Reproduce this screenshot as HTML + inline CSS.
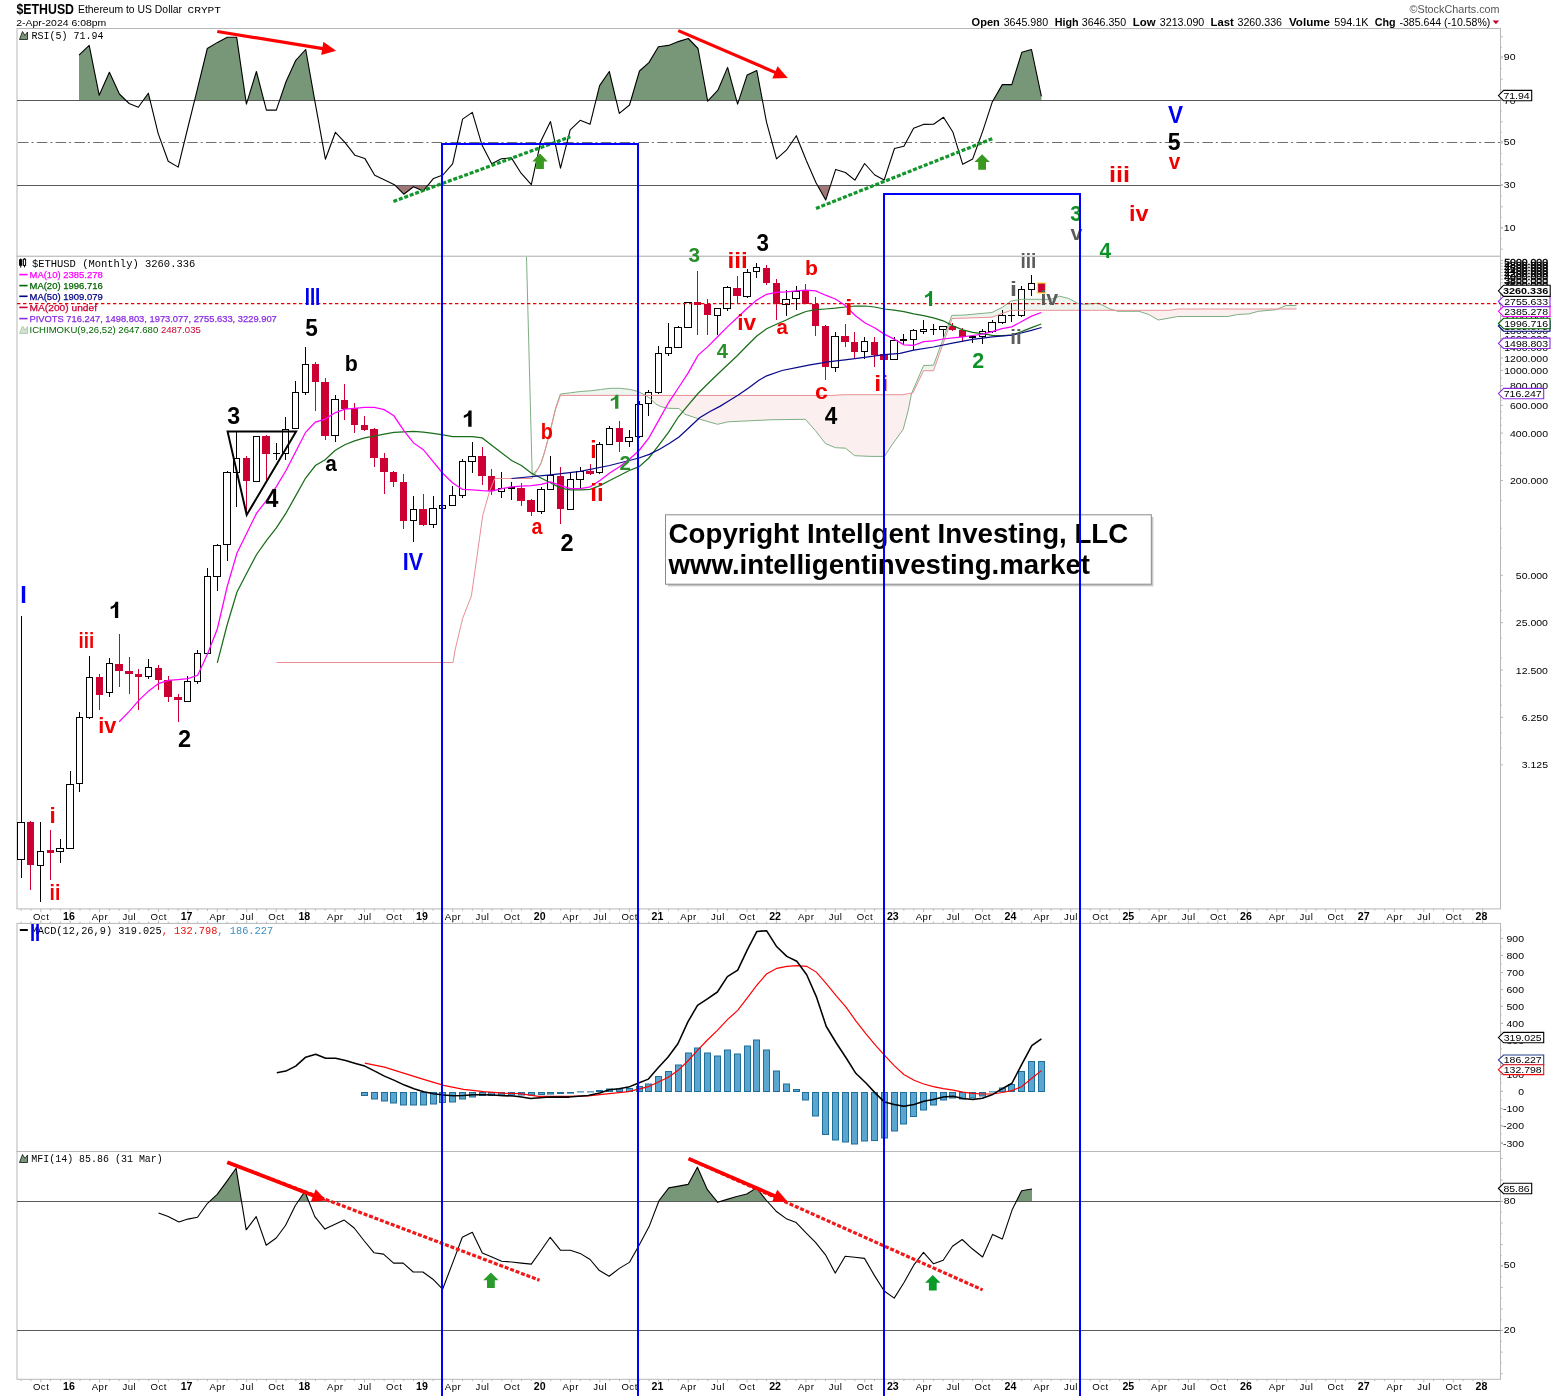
<!DOCTYPE html>
<html><head><meta charset="utf-8"><title>$ETHUSD Monthly</title>
<style>
html,body{margin:0;padding:0;background:#fff;}
body{width:1565px;height:1396px;overflow:hidden;font-family:"Liberation Sans",sans-serif;}
svg text{white-space:pre;}
</style></head><body>
<svg width="1565" height="1396" viewBox="0 0 1565 1396" style="display:block;will-change:transform;transform:translateZ(0)">
<text x="16.5" y="13.9" font-family="Liberation Sans, sans-serif" font-weight="bold" font-size="14.4" textLength="57.5" lengthAdjust="spacingAndGlyphs">$ETHUSD</text>
<text x="78" y="13.4" font-family="Liberation Sans, sans-serif" font-size="10.9" textLength="104" lengthAdjust="spacingAndGlyphs">Ethereum to US Dollar</text>
<text x="187.5" y="12.6" font-family="Liberation Mono, monospace" font-size="9.2" textLength="33.5" lengthAdjust="spacingAndGlyphs">CRYPT</text>
<text x="16.3" y="26" font-family="Liberation Sans, sans-serif" font-size="9.8" textLength="90" lengthAdjust="spacingAndGlyphs">2-Apr-2024 6:08pm</text>
<text x="1499.5" y="13" font-family="Liberation Sans, sans-serif" font-size="11" text-anchor="end" fill="#555" textLength="90" lengthAdjust="spacingAndGlyphs">&#169;StockCharts.com</text>
<text x="971.6" y="25.6" font-family="Liberation Sans, sans-serif" font-size="10.2" textLength="28.2" lengthAdjust="spacingAndGlyphs" font-weight="bold">Open</text>
<text x="1003.7" y="25.6" font-family="Liberation Sans, sans-serif" font-size="10.2" textLength="44.4" lengthAdjust="spacingAndGlyphs">3645.980</text>
<text x="1054.7" y="25.6" font-family="Liberation Sans, sans-serif" font-size="10.2" textLength="23.9" lengthAdjust="spacingAndGlyphs" font-weight="bold">High</text>
<text x="1081.8" y="25.6" font-family="Liberation Sans, sans-serif" font-size="10.2" textLength="44.4" lengthAdjust="spacingAndGlyphs">3646.350</text>
<text x="1132.8" y="25.6" font-family="Liberation Sans, sans-serif" font-size="10.2" textLength="22.8" lengthAdjust="spacingAndGlyphs" font-weight="bold">Low</text>
<text x="1159.8" y="25.6" font-family="Liberation Sans, sans-serif" font-size="10.2" textLength="44.5" lengthAdjust="spacingAndGlyphs">3213.090</text>
<text x="1210.5" y="25.6" font-family="Liberation Sans, sans-serif" font-size="10.2" textLength="23.2" lengthAdjust="spacingAndGlyphs" font-weight="bold">Last</text>
<text x="1237.5" y="25.6" font-family="Liberation Sans, sans-serif" font-size="10.2" textLength="44.5" lengthAdjust="spacingAndGlyphs">3260.336</text>
<text x="1289.0" y="25.6" font-family="Liberation Sans, sans-serif" font-size="10.2" textLength="41.0" lengthAdjust="spacingAndGlyphs" font-weight="bold">Volume</text>
<text x="1334.2" y="25.6" font-family="Liberation Sans, sans-serif" font-size="10.2" textLength="34.4" lengthAdjust="spacingAndGlyphs">594.1K</text>
<text x="1374.8" y="25.6" font-family="Liberation Sans, sans-serif" font-size="10.2" textLength="20.8" lengthAdjust="spacingAndGlyphs" font-weight="bold">Chg</text>
<text x="1399.5" y="25.6" font-family="Liberation Sans, sans-serif" font-size="10.2" textLength="90.8" lengthAdjust="spacingAndGlyphs">-385.644 (-10.58%)</text>
<polygon points="1492.6,20.4 1499.2,20.4 1495.9,24.2" fill="#cc0033"/>
<rect x="17.0" y="28.5" width="1483.5" height="227.8" fill="#fff" stroke="#b8b8b8" stroke-width="1"/>
<rect x="17.0" y="256.3" width="1483.5" height="652.6" fill="#fff" stroke="#b8b8b8" stroke-width="1"/>
<rect x="17.0" y="923.4" width="1483.5" height="228.1" fill="#fff" stroke="#b8b8b8" stroke-width="1"/>
<rect x="17.0" y="1151.5" width="1483.5" height="227.8" fill="#fff" stroke="#b8b8b8" stroke-width="1"/>
<polygon points="79.0,100.5 79.0,55.2 89.2,45.4 99.2,95.3 109.4,72.3 119.4,94.0 126.0,100.5" fill="#789778"/>
<polygon points="143.1,100.5 148.3,93.2 150.1,100.5" fill="#789778"/>
<polygon points="194.6,100.5 197.7,87.8 207.3,48.5 217.5,42.4 227.3,37.3 236.7,37.3 245.9,100.5" fill="#789778"/>
<polygon points="247.5,100.5 256.4,71.5 263.9,100.5" fill="#789778"/>
<polygon points="279.6,100.5 286.0,81.7 295.8,60.3 305.7,49.5 314.7,100.5" fill="#789778"/>
<polygon points="595.9,100.5 599.6,85.6 609.3,71.5 616.2,100.5" fill="#789778"/>
<polygon points="630.8,100.5 639.5,71.0 648.9,62.6 658.4,46.7 668.6,45.4 678.3,41.6 688.3,38.5 698.0,48.5 707.6,100.5" fill="#789778"/>
<polygon points="708.3,100.5 717.9,90.2 727.6,67.4 736.6,100.5" fill="#789778"/>
<polygon points="738.8,100.5 747.1,75.1 756.8,70.5 762.4,100.5" fill="#789778"/>
<polygon points="993.1,100.5 1002.3,84.6 1011.8,84.6 1021.8,52.3 1031.5,49.5 1041.4,96.4 1041.4,100.5" fill="#789778"/>
<polygon points="395.2,185.5 403.8,194.2 413.5,186.8 423.2,191.1 427.7,185.5" fill="#a07878"/>
<polygon points="817.6,185.5 825.7,200.1 830.5,185.5" fill="#a07878"/>
<line x1="17.0" y1="100.5" x2="1500.5" y2="100.5" stroke="#5a5a5a" stroke-width="1"/>
<line x1="17.0" y1="185.5" x2="1500.5" y2="185.5" stroke="#5a5a5a" stroke-width="1"/>
<line x1="18.0" y1="142.5" x2="1500.5" y2="142.5" stroke="#6e6e6e" stroke-width="1" stroke-dasharray="10.5,3,2,3.3"/>
<polyline points="79.0,55.2 89.2,45.4 99.2,95.3 109.4,72.3 119.4,94.0 129.1,103.5 138.3,107.3 148.3,93.2 158.2,133.6 168.2,161.2 178.2,167.1 188.0,127.0 197.7,87.8 207.3,48.5 217.5,42.4 227.3,37.3 236.7,37.3 246.4,104.2 256.4,71.5 266.4,110.1 276.3,110.1 286.0,81.7 295.8,60.3 305.7,49.5 315.4,104.2 325.4,159.2 335.4,132.3 345.1,142.6 355.0,155.3 364.8,158.4 374.7,175.3 384.7,180.1 394.4,184.7 403.8,194.2 413.5,186.8 423.2,191.1 433.5,178.4 442.9,175.0 452.6,163.8 462.6,119.1 472.3,112.4 482.0,145.1 491.7,163.8 501.4,158.7 511.4,157.9 521.1,173.2 531.3,184.7 540.8,141.3 550.5,121.6 560.5,168.1 570.2,129.8 580.2,120.3 590.1,124.2 599.6,85.6 609.3,71.5 619.3,113.4 629.5,105.0 639.5,71.0 648.9,62.6 658.4,46.7 668.6,45.4 678.3,41.6 688.3,38.5 698.0,48.5 707.7,101.2 717.9,90.2 727.6,67.4 737.6,104.2 747.1,75.1 756.8,70.5 766.5,122.1 776.5,158.9 786.4,150.2 796.3,135.7 806.3,160.5 816.0,182.7 825.7,200.1 835.7,169.4 845.4,172.5 854.9,180.1 864.6,163.5 874.8,175.0 884.2,179.9 894.5,148.5 903.9,146.2 913.6,128.3 923.4,124.4 933.6,124.2 943.5,117.3 953.0,132.3 962.7,164.3 972.7,158.9 982.9,130.6 992.4,101.7 1002.3,84.6 1011.8,84.6 1021.8,52.3 1031.5,49.5 1041.4,96.4" fill="none" stroke="#000" stroke-width="1.1" stroke-linejoin="round"/>
<polygon points="19.5,39.5 22.5,31.5 25,35.5 27.5,32 27.5,39.5" fill="#789778" stroke="#111" stroke-width="0.8"/>
<text x="31.6" y="39.2" font-family="Liberation Mono, monospace" font-size="10.4" textLength="72" lengthAdjust="spacingAndGlyphs">RSI(5) 71.94</text>
<line x1="1500.5" y1="56.9" x2="1503.0" y2="56.9" stroke="#b8b8b8"/>
<text x="1503.8" y="60.2" font-family="Liberation Sans, sans-serif" font-size="9.4" textLength="11.7" lengthAdjust="spacingAndGlyphs">90</text>
<line x1="1500.5" y1="141.7" x2="1503.0" y2="141.7" stroke="#b8b8b8"/>
<text x="1503.8" y="145.0" font-family="Liberation Sans, sans-serif" font-size="9.4" textLength="11.7" lengthAdjust="spacingAndGlyphs">50</text>
<line x1="1500.5" y1="184.7" x2="1503.0" y2="184.7" stroke="#b8b8b8"/>
<text x="1503.8" y="188.0" font-family="Liberation Sans, sans-serif" font-size="9.4" textLength="11.7" lengthAdjust="spacingAndGlyphs">30</text>
<line x1="1500.5" y1="227.6" x2="1503.0" y2="227.6" stroke="#b8b8b8"/>
<text x="1503.8" y="230.9" font-family="Liberation Sans, sans-serif" font-size="9.4" textLength="11.7" lengthAdjust="spacingAndGlyphs">10</text>
<text x="1503.8" y="103.9" font-family="Liberation Sans, sans-serif" font-size="9.4" textLength="11.7" lengthAdjust="spacingAndGlyphs">70</text>
<line x1="1500.5" y1="249.2" x2="1502.7" y2="249.2" stroke="#b8b8b8" stroke-width="1"/>
<line x1="1500.5" y1="238.6" x2="1501.8" y2="238.6" stroke="#b8b8b8" stroke-width="1"/>
<line x1="1500.5" y1="228.0" x2="1502.7" y2="228.0" stroke="#b8b8b8" stroke-width="1"/>
<line x1="1500.5" y1="217.4" x2="1501.8" y2="217.4" stroke="#b8b8b8" stroke-width="1"/>
<line x1="1500.5" y1="206.8" x2="1502.7" y2="206.8" stroke="#b8b8b8" stroke-width="1"/>
<line x1="1500.5" y1="196.1" x2="1501.8" y2="196.1" stroke="#b8b8b8" stroke-width="1"/>
<line x1="1500.5" y1="185.5" x2="1502.7" y2="185.5" stroke="#b8b8b8" stroke-width="1"/>
<line x1="1500.5" y1="174.9" x2="1501.8" y2="174.9" stroke="#b8b8b8" stroke-width="1"/>
<line x1="1500.5" y1="164.2" x2="1502.7" y2="164.2" stroke="#b8b8b8" stroke-width="1"/>
<line x1="1500.5" y1="153.6" x2="1501.8" y2="153.6" stroke="#b8b8b8" stroke-width="1"/>
<line x1="1500.5" y1="143.0" x2="1502.7" y2="143.0" stroke="#b8b8b8" stroke-width="1"/>
<line x1="1500.5" y1="132.4" x2="1501.8" y2="132.4" stroke="#b8b8b8" stroke-width="1"/>
<line x1="1500.5" y1="121.8" x2="1502.7" y2="121.8" stroke="#b8b8b8" stroke-width="1"/>
<line x1="1500.5" y1="111.1" x2="1501.8" y2="111.1" stroke="#b8b8b8" stroke-width="1"/>
<line x1="1500.5" y1="100.5" x2="1502.7" y2="100.5" stroke="#b8b8b8" stroke-width="1"/>
<line x1="1500.5" y1="89.9" x2="1501.8" y2="89.9" stroke="#b8b8b8" stroke-width="1"/>
<line x1="1500.5" y1="79.2" x2="1502.7" y2="79.2" stroke="#b8b8b8" stroke-width="1"/>
<line x1="1500.5" y1="68.6" x2="1501.8" y2="68.6" stroke="#b8b8b8" stroke-width="1"/>
<line x1="1500.5" y1="58.0" x2="1502.7" y2="58.0" stroke="#b8b8b8" stroke-width="1"/>
<line x1="1500.5" y1="47.4" x2="1501.8" y2="47.4" stroke="#b8b8b8" stroke-width="1"/>
<line x1="1500.5" y1="36.8" x2="1502.7" y2="36.8" stroke="#b8b8b8" stroke-width="1"/>
<line x1="1500.5" y1="1373.7" x2="1502.7" y2="1373.7" stroke="#b8b8b8" stroke-width="1"/>
<line x1="1500.5" y1="1362.9" x2="1501.8" y2="1362.9" stroke="#b8b8b8" stroke-width="1"/>
<line x1="1500.5" y1="1352.1" x2="1502.7" y2="1352.1" stroke="#b8b8b8" stroke-width="1"/>
<line x1="1500.5" y1="1341.4" x2="1501.8" y2="1341.4" stroke="#b8b8b8" stroke-width="1"/>
<line x1="1500.5" y1="1330.6" x2="1502.7" y2="1330.6" stroke="#b8b8b8" stroke-width="1"/>
<line x1="1500.5" y1="1319.9" x2="1501.8" y2="1319.9" stroke="#b8b8b8" stroke-width="1"/>
<line x1="1500.5" y1="1309.1" x2="1502.7" y2="1309.1" stroke="#b8b8b8" stroke-width="1"/>
<line x1="1500.5" y1="1298.3" x2="1501.8" y2="1298.3" stroke="#b8b8b8" stroke-width="1"/>
<line x1="1500.5" y1="1287.6" x2="1502.7" y2="1287.6" stroke="#b8b8b8" stroke-width="1"/>
<line x1="1500.5" y1="1276.8" x2="1501.8" y2="1276.8" stroke="#b8b8b8" stroke-width="1"/>
<line x1="1500.5" y1="1266.1" x2="1502.7" y2="1266.1" stroke="#b8b8b8" stroke-width="1"/>
<line x1="1500.5" y1="1255.3" x2="1501.8" y2="1255.3" stroke="#b8b8b8" stroke-width="1"/>
<line x1="1500.5" y1="1244.5" x2="1502.7" y2="1244.5" stroke="#b8b8b8" stroke-width="1"/>
<line x1="1500.5" y1="1233.8" x2="1501.8" y2="1233.8" stroke="#b8b8b8" stroke-width="1"/>
<line x1="1500.5" y1="1223.0" x2="1502.7" y2="1223.0" stroke="#b8b8b8" stroke-width="1"/>
<line x1="1500.5" y1="1212.3" x2="1501.8" y2="1212.3" stroke="#b8b8b8" stroke-width="1"/>
<line x1="1500.5" y1="1201.5" x2="1502.7" y2="1201.5" stroke="#b8b8b8" stroke-width="1"/>
<line x1="1500.5" y1="1190.7" x2="1501.8" y2="1190.7" stroke="#b8b8b8" stroke-width="1"/>
<line x1="1500.5" y1="1180.0" x2="1502.7" y2="1180.0" stroke="#b8b8b8" stroke-width="1"/>
<line x1="1500.5" y1="1169.2" x2="1501.8" y2="1169.2" stroke="#b8b8b8" stroke-width="1"/>
<line x1="1500.5" y1="1158.5" x2="1502.7" y2="1158.5" stroke="#b8b8b8" stroke-width="1"/>
<line x1="1500.5" y1="1142.4" x2="1502.7" y2="1142.4" stroke="#b8b8b8" stroke-width="1"/>
<line x1="1500.5" y1="1133.9" x2="1501.8" y2="1133.9" stroke="#b8b8b8" stroke-width="1"/>
<line x1="1500.5" y1="1125.4" x2="1502.7" y2="1125.4" stroke="#b8b8b8" stroke-width="1"/>
<line x1="1500.5" y1="1116.9" x2="1501.8" y2="1116.9" stroke="#b8b8b8" stroke-width="1"/>
<line x1="1500.5" y1="1108.4" x2="1502.7" y2="1108.4" stroke="#b8b8b8" stroke-width="1"/>
<line x1="1500.5" y1="1099.9" x2="1501.8" y2="1099.9" stroke="#b8b8b8" stroke-width="1"/>
<line x1="1500.5" y1="1091.4" x2="1502.7" y2="1091.4" stroke="#b8b8b8" stroke-width="1"/>
<line x1="1500.5" y1="1082.9" x2="1501.8" y2="1082.9" stroke="#b8b8b8" stroke-width="1"/>
<line x1="1500.5" y1="1074.4" x2="1502.7" y2="1074.4" stroke="#b8b8b8" stroke-width="1"/>
<line x1="1500.5" y1="1065.9" x2="1501.8" y2="1065.9" stroke="#b8b8b8" stroke-width="1"/>
<line x1="1500.5" y1="1057.4" x2="1502.7" y2="1057.4" stroke="#b8b8b8" stroke-width="1"/>
<line x1="1500.5" y1="1048.9" x2="1501.8" y2="1048.9" stroke="#b8b8b8" stroke-width="1"/>
<line x1="1500.5" y1="1040.4" x2="1502.7" y2="1040.4" stroke="#b8b8b8" stroke-width="1"/>
<line x1="1500.5" y1="1031.9" x2="1501.8" y2="1031.9" stroke="#b8b8b8" stroke-width="1"/>
<line x1="1500.5" y1="1023.4" x2="1502.7" y2="1023.4" stroke="#b8b8b8" stroke-width="1"/>
<line x1="1500.5" y1="1014.9" x2="1501.8" y2="1014.9" stroke="#b8b8b8" stroke-width="1"/>
<line x1="1500.5" y1="1006.4" x2="1502.7" y2="1006.4" stroke="#b8b8b8" stroke-width="1"/>
<line x1="1500.5" y1="997.9" x2="1501.8" y2="997.9" stroke="#b8b8b8" stroke-width="1"/>
<line x1="1500.5" y1="989.4" x2="1502.7" y2="989.4" stroke="#b8b8b8" stroke-width="1"/>
<line x1="1500.5" y1="980.9" x2="1501.8" y2="980.9" stroke="#b8b8b8" stroke-width="1"/>
<line x1="1500.5" y1="972.4" x2="1502.7" y2="972.4" stroke="#b8b8b8" stroke-width="1"/>
<line x1="1500.5" y1="963.9" x2="1501.8" y2="963.9" stroke="#b8b8b8" stroke-width="1"/>
<line x1="1500.5" y1="955.4" x2="1502.7" y2="955.4" stroke="#b8b8b8" stroke-width="1"/>
<line x1="1500.5" y1="946.9" x2="1501.8" y2="946.9" stroke="#b8b8b8" stroke-width="1"/>
<line x1="1500.5" y1="938.4" x2="1502.7" y2="938.4" stroke="#b8b8b8" stroke-width="1"/>
<line x1="1500.5" y1="929.9" x2="1501.8" y2="929.9" stroke="#b8b8b8" stroke-width="1"/>
<line x1="1500.5" y1="748.2" x2="1501.9" y2="748.2" stroke="#b8b8b8" stroke-width="1"/>
<line x1="1500.5" y1="733.0" x2="1501.9" y2="733.0" stroke="#b8b8b8" stroke-width="1"/>
<line x1="1500.5" y1="705.2" x2="1501.9" y2="705.2" stroke="#b8b8b8" stroke-width="1"/>
<line x1="1500.5" y1="685.6" x2="1501.9" y2="685.6" stroke="#b8b8b8" stroke-width="1"/>
<line x1="1500.5" y1="657.9" x2="1501.9" y2="657.9" stroke="#b8b8b8" stroke-width="1"/>
<line x1="1500.5" y1="638.2" x2="1501.9" y2="638.2" stroke="#b8b8b8" stroke-width="1"/>
<line x1="1500.5" y1="610.5" x2="1501.9" y2="610.5" stroke="#b8b8b8" stroke-width="1"/>
<line x1="1500.5" y1="590.8" x2="1501.9" y2="590.8" stroke="#b8b8b8" stroke-width="1"/>
<line x1="1500.5" y1="547.8" x2="1501.9" y2="547.8" stroke="#b8b8b8" stroke-width="1"/>
<line x1="1500.5" y1="528.2" x2="1501.9" y2="528.2" stroke="#b8b8b8" stroke-width="1"/>
<line x1="1500.5" y1="500.5" x2="1501.9" y2="500.5" stroke="#b8b8b8" stroke-width="1"/>
<line x1="1500.5" y1="465.5" x2="1501.9" y2="465.5" stroke="#b8b8b8" stroke-width="1"/>
<line x1="1500.5" y1="453.1" x2="1501.9" y2="453.1" stroke="#b8b8b8" stroke-width="1"/>
<line x1="1500.5" y1="442.5" x2="1501.9" y2="442.5" stroke="#b8b8b8" stroke-width="1"/>
<line x1="1500.5" y1="425.4" x2="1501.9" y2="425.4" stroke="#b8b8b8" stroke-width="1"/>
<line x1="1500.5" y1="418.2" x2="1501.9" y2="418.2" stroke="#b8b8b8" stroke-width="1"/>
<line x1="1500.5" y1="411.7" x2="1501.9" y2="411.7" stroke="#b8b8b8" stroke-width="1"/>
<line x1="1500.5" y1="400.2" x2="1501.9" y2="400.2" stroke="#b8b8b8" stroke-width="1"/>
<line x1="1500.5" y1="395.2" x2="1501.9" y2="395.2" stroke="#b8b8b8" stroke-width="1"/>
<line x1="1500.5" y1="390.5" x2="1501.9" y2="390.5" stroke="#b8b8b8" stroke-width="1"/>
<line x1="1500.5" y1="378.0" x2="1501.9" y2="378.0" stroke="#b8b8b8" stroke-width="1"/>
<line x1="1500.5" y1="364.3" x2="1501.9" y2="364.3" stroke="#b8b8b8" stroke-width="1"/>
<polygon points="1498.4,95.6 1503.6,90.4 1531.7,90.4 1531.7,100.8 1503.6,100.8" fill="#fff" stroke="#000" stroke-width="1.1"/>
<text x="1503.4" y="99.0" font-family="Liberation Sans, sans-serif" font-size="9.4" textLength="26.3" lengthAdjust="spacingAndGlyphs">71.94</text>
<polygon points="532.8,477.4 534.8,474.2 535.6,472.9 536.8,471.0 538.4,468.4 538.8,467.6 540.8,463.8 541.3,462.8 542.8,458.0 544.8,451.6 546.8,444.0 547.6,441.0 548.8,436.5 550.4,430.5 550.8,428.8 552.8,420.6 554.8,412.3 555.4,409.8 556.8,405.8 558.8,400.0 560.4,395.4 560.8,395.4 562.8,395.4 564.8,395.4 566.8,395.4 568.8,395.4 570.4,395.4 570.8,395.4 572.8,395.4 574.8,395.4 576.8,395.4 578.8,395.4 580.4,395.4 580.8,395.4 582.8,395.4 584.8,395.4 586.8,395.4 588.8,395.4 590.5,395.4 590.8,395.4 592.8,395.4 594.8,395.4 596.8,395.4 598.8,395.4 600.5,395.4 600.8,395.4 602.8,395.4 604.8,395.4 606.8,395.4 608.8,395.4 610.5,395.4 610.8,395.4 612.8,395.4 614.8,395.4 616.8,395.4 618.8,395.4 620.6,395.4 620.8,395.4 622.8,395.4 624.8,395.4 626.8,395.4 628.8,395.4 630.6,395.4 630.8,395.4 632.8,395.4 634.8,395.4 636.8,395.4 638.1,395.4 638.8,395.4 640.8,395.4 642.8,395.4 644.8,395.4 645.6,395.4 646.8,395.8 646.8,395.8 645.6,395.3 644.8,394.9 642.8,393.9 640.8,392.9 638.8,391.9 638.1,391.5 636.8,391.2 634.8,390.6 632.8,390.1 630.8,389.6 630.6,389.5 628.8,389.3 626.8,389.0 624.8,388.8 622.8,388.6 620.8,388.3 620.6,388.3 618.8,388.3 616.8,388.3 614.8,388.3 612.8,388.3 610.8,388.3 610.5,388.3 608.8,388.5 606.8,388.7 604.8,389.0 602.8,389.2 600.8,389.5 600.5,389.5 598.8,389.7 596.8,390.0 594.8,390.2 592.8,390.5 590.8,390.8 590.5,390.8 588.8,390.9 586.8,391.1 584.8,391.2 582.8,391.3 580.8,391.5 580.4,391.5 578.8,391.7 576.8,392.0 574.8,392.2 572.8,392.5 570.8,392.7 570.4,392.8 568.8,393.0 566.8,393.2 564.8,393.5 562.8,393.7 560.8,394.0 560.4,394.0 558.8,398.7 556.8,404.7 555.4,408.8 554.8,411.3 552.8,419.8 550.8,428.3 550.4,430.0 548.8,436.0 547.6,440.5 546.8,443.5 544.8,451.1 542.8,457.5 541.3,462.3 540.8,463.3 538.8,467.2 538.4,468.0 536.8,469.9 535.6,471.3 534.8,472.3 532.8,474.7" fill="#eef5ee"/>
<polygon points="646.8,395.4 648.8,395.4 650.7,395.4 650.8,395.4 652.8,395.4 654.8,395.4 655.7,395.4 656.8,395.4 658.8,395.4 660.7,395.4 660.8,395.4 662.8,395.4 664.8,395.4 666.8,395.4 668.2,395.4 668.8,395.4 670.8,395.4 672.8,395.4 674.8,395.4 676.8,395.4 678.8,395.4 680.8,395.4 682.8,395.4 684.8,395.4 685.0,395.4 686.8,395.4 688.8,395.4 690.8,395.4 692.8,395.4 694.8,395.4 696.8,395.5 698.8,395.5 700.1,395.5 700.8,395.5 702.8,395.5 704.8,395.5 706.8,395.5 708.8,395.5 710.8,395.5 712.8,395.5 714.8,395.5 716.8,395.5 717.6,395.5 718.8,395.5 720.8,395.5 722.8,395.5 724.8,395.5 726.8,395.5 727.7,395.5 728.8,395.5 730.8,395.5 732.8,395.5 734.8,395.5 736.8,395.5 738.8,395.5 740.8,395.5 742.8,395.5 744.8,395.5 746.8,395.5 748.8,395.5 750.8,395.5 752.8,395.5 754.8,395.5 756.8,395.5 758.8,395.5 760.8,395.5 762.8,395.5 764.8,395.5 766.8,395.5 768.8,395.5 770.3,395.5 770.8,395.5 772.8,395.5 774.8,395.5 776.8,395.5 778.8,395.5 780.8,395.5 782.8,395.5 784.8,395.5 786.8,395.5 788.8,395.5 790.8,395.5 792.8,395.5 794.8,395.5 796.8,395.5 798.8,395.5 800.8,395.5 802.8,395.5 804.8,395.5 805.4,395.5 806.8,395.5 808.8,395.5 810.8,395.5 812.8,395.5 814.8,395.5 815.4,395.5 816.8,395.5 818.8,395.5 820.8,395.5 822.8,395.5 824.8,395.5 825.5,395.5 826.8,395.5 828.8,395.5 830.5,395.5 830.8,395.5 832.8,395.4 834.8,395.3 835.5,395.2 836.8,395.2 838.8,395.1 840.8,395.0 842.8,394.8 844.8,394.7 845.5,394.7 846.8,394.7 848.8,394.7 850.8,394.7 852.8,394.7 854.8,394.7 856.8,394.7 858.8,394.7 860.8,394.7 862.8,394.7 864.8,394.7 866.8,394.7 868.8,394.7 870.6,394.7 870.8,394.7 872.8,394.7 874.8,394.7 876.8,394.7 878.8,394.7 880.8,394.7 882.8,394.7 884.4,394.7 884.8,394.7 886.8,394.7 888.8,394.7 890.8,394.7 892.8,394.7 893.2,394.7 894.8,394.7 896.8,394.7 898.8,394.7 900.8,394.7 902.8,394.7 903.2,394.7 904.8,394.4 906.8,394.0 908.2,393.7 908.5,393.6 908.8,393.6 910.8,393.3 911.5,393.2 912.8,391.8 912.8,391.8 911.5,393.7 910.8,397.3 908.8,407.4 908.5,409.0 908.2,410.5 906.8,415.8 904.8,423.3 903.2,429.3 902.8,429.9 900.8,432.6 898.8,435.4 896.8,438.1 894.8,440.9 893.2,443.1 892.8,443.7 890.8,446.7 888.8,449.8 886.8,452.8 884.8,455.8 884.4,456.4 882.8,456.4 880.8,456.4 878.8,456.4 876.8,456.4 874.8,456.4 872.8,456.4 870.8,456.4 870.6,456.4 868.8,456.3 866.8,456.2 864.8,456.1 862.8,456.1 860.8,456.0 858.8,455.9 856.8,455.8 854.8,455.7 852.8,454.1 850.8,452.5 848.8,450.9 846.8,449.2 845.5,448.2 844.8,448.2 842.8,448.1 840.8,448.0 838.8,447.9 836.8,447.8 835.5,447.7 834.8,447.4 832.8,446.6 830.8,445.8 830.5,445.6 828.8,445.0 826.8,444.1 825.5,443.6 824.8,442.7 822.8,440.1 820.8,437.6 818.8,435.0 816.8,432.4 815.4,430.6 814.8,429.9 812.8,427.7 810.8,425.4 808.8,423.1 806.8,420.9 805.4,419.3 804.8,419.3 802.8,419.3 800.8,419.4 798.8,419.4 796.8,419.4 794.8,419.5 792.8,419.5 790.8,419.5 788.8,419.5 786.8,419.6 784.8,419.6 782.8,419.6 780.8,419.7 778.8,419.7 776.8,419.7 774.8,419.7 772.8,419.8 770.8,419.8 770.3,419.8 768.8,419.9 766.8,420.0 764.8,420.1 762.8,420.2 760.8,420.2 758.8,420.3 756.8,420.4 754.8,420.5 752.8,420.6 750.8,420.7 748.8,420.8 746.8,420.9 744.8,421.0 742.8,421.1 740.8,421.2 738.8,421.3 736.8,421.4 734.8,421.5 732.8,421.6 730.8,421.7 728.8,421.7 727.7,421.8 726.8,422.0 724.8,422.5 722.8,423.0 720.8,423.5 718.8,424.0 717.6,424.3 716.8,424.1 714.8,423.5 712.8,422.9 710.8,422.4 708.8,421.8 706.8,421.2 704.8,420.6 702.8,420.1 700.8,419.5 700.1,419.3 698.8,418.9 696.8,418.2 694.8,417.5 692.8,416.9 690.8,416.2 688.8,415.6 686.8,414.9 685.0,414.3 684.8,414.1 682.8,412.2 680.8,410.4 678.8,408.5 676.8,408.5 674.8,408.4 672.8,408.4 670.8,408.3 668.8,408.3 668.2,408.3 666.8,408.0 664.8,407.5 662.8,407.1 660.8,406.6 660.7,406.6 658.8,405.6 656.8,404.6 655.7,404.0 654.8,403.1 652.8,401.1 650.8,399.1 650.7,399.0 648.8,397.6 646.8,396.2" fill="#fbefef"/>
<polygon points="912.8,393.0 914.8,388.9 916.8,384.7 918.8,380.6 920.8,376.5 922.8,372.4 923.6,370.7 924.8,370.7 926.8,370.7 928.8,370.7 930.8,370.7 932.8,370.7 933.5,370.7 934.8,367.1 936.8,361.4 938.8,355.8 940.8,350.2 942.8,344.6 944.8,339.0 946.8,333.4 948.8,327.8 950.8,322.1 951.8,319.3 952.1,318.5 952.8,318.5 954.8,318.4 956.8,318.3 958.8,318.3 960.8,318.2 962.8,318.2 963.9,318.1 964.8,318.1 966.8,318.0 968.8,318.0 970.8,317.9 972.8,317.8 974.8,317.8 976.8,317.7 978.8,317.6 980.8,317.6 982.8,317.5 984.8,317.4 986.8,317.4 988.8,317.3 990.8,317.2 992.0,317.2 992.8,316.9 994.8,316.2 996.8,315.5 998.8,314.8 1000.8,314.0 1002.2,313.5 1002.8,313.3 1004.8,312.6 1006.8,311.9 1008.8,311.2 1010.8,310.4 1011.2,310.3 1012.8,310.3 1014.8,310.3 1016.8,310.3 1018.8,310.3 1020.8,310.3 1021.4,310.3 1022.8,310.3 1024.8,310.3 1026.8,310.3 1028.8,310.3 1030.8,310.3 1032.8,310.3 1034.8,310.3 1036.8,310.3 1038.8,310.3 1040.8,310.3 1042.8,310.3 1044.8,310.3 1046.8,310.3 1048.8,310.3 1050.8,310.3 1052.8,310.3 1054.8,310.3 1056.8,310.3 1058.8,310.3 1059.7,310.3 1060.8,310.3 1062.8,310.3 1064.8,310.3 1066.8,310.3 1068.7,310.3 1068.8,310.3 1070.8,310.3 1072.8,310.3 1074.8,310.3 1076.8,310.3 1078.3,310.3 1078.8,310.3 1080.8,310.3 1082.8,310.3 1084.0,310.3 1084.8,310.3 1086.8,310.3 1088.8,310.3 1090.8,310.3 1092.8,310.3 1094.8,310.3 1096.8,310.3 1098.7,310.3 1098.8,310.3 1100.8,310.3 1102.8,310.3 1104.8,310.3 1106.8,310.3 1108.8,310.3 1110.0,310.3 1110.8,310.3 1112.8,310.3 1114.8,310.3 1114.8,310.3 1112.8,309.8 1110.8,309.2 1110.0,309.0 1108.8,308.4 1106.8,307.4 1104.8,306.3 1102.8,305.3 1100.8,304.3 1098.8,303.3 1098.7,303.2 1096.8,303.3 1094.8,303.5 1092.8,303.6 1090.8,303.7 1088.8,303.9 1086.8,304.0 1084.8,304.1 1084.0,304.2 1082.8,304.1 1080.8,303.9 1078.8,303.7 1078.3,303.6 1076.8,302.8 1074.8,301.7 1072.8,300.7 1070.8,299.6 1068.8,298.6 1068.7,298.5 1066.8,298.0 1064.8,297.5 1062.8,297.0 1060.8,296.5 1059.7,296.2 1058.8,296.5 1056.8,297.2 1054.8,297.9 1052.8,298.6 1050.8,299.3 1048.8,299.3 1046.8,299.3 1044.8,299.3 1042.8,299.3 1040.8,299.3 1038.8,299.3 1036.8,299.3 1034.8,299.3 1032.8,299.3 1030.8,299.3 1028.8,299.3 1026.8,299.3 1024.8,299.3 1022.8,299.3 1021.4,299.3 1020.8,299.4 1018.8,299.7 1016.8,300.1 1014.8,300.4 1012.8,300.7 1011.2,301.0 1010.8,301.3 1008.8,302.7 1006.8,304.1 1004.8,305.6 1002.8,307.0 1002.2,307.4 1000.8,308.1 998.8,309.1 996.8,310.1 994.8,311.1 992.8,312.1 992.0,312.5 990.8,312.6 988.8,312.8 986.8,313.0 984.8,313.2 982.8,313.4 980.8,313.5 978.8,313.7 976.8,313.9 974.8,314.1 972.8,314.3 970.8,314.5 968.8,314.6 966.8,314.8 964.8,315.0 963.9,315.1 962.8,315.1 960.8,315.2 958.8,315.2 956.8,315.3 954.8,315.3 952.8,315.4 952.1,315.4 951.8,315.4 950.8,318.1 948.8,323.6 946.8,329.0 944.8,334.4 942.8,339.9 940.8,345.3 938.8,350.8 936.8,356.2 934.8,361.7 933.5,365.2 932.8,365.2 930.8,365.3 928.8,365.3 926.8,365.4 924.8,365.5 923.6,365.5 922.8,367.4 920.8,372.0 918.8,376.7 916.8,381.3 914.8,386.0 912.8,390.7" fill="#eef5ee"/>
<polygon points="1114.8,310.3 1116.8,310.3 1118.0,310.3 1118.8,310.3 1120.8,310.3 1122.8,310.3 1124.8,310.3 1126.8,310.3 1128.8,310.3 1130.8,310.3 1132.8,310.3 1134.8,310.3 1136.8,310.3 1138.8,310.3 1139.0,310.3 1140.8,310.3 1142.8,310.3 1144.8,310.3 1146.8,310.3 1148.7,310.3 1148.8,310.3 1150.8,310.3 1152.8,310.3 1154.8,310.3 1156.8,310.3 1158.4,310.3 1158.8,310.3 1160.8,310.3 1162.8,310.3 1164.8,310.3 1166.8,310.3 1168.8,310.3 1169.7,310.3 1170.8,310.1 1172.8,309.8 1174.8,309.5 1176.8,309.2 1177.8,309.0 1178.8,309.0 1180.8,309.0 1182.8,309.0 1184.8,309.0 1186.8,309.0 1188.8,309.0 1190.8,309.0 1192.8,309.0 1194.8,309.0 1196.8,309.0 1198.8,309.0 1200.8,309.0 1202.8,309.0 1204.8,309.0 1206.8,309.0 1208.8,309.0 1210.8,309.0 1212.8,309.0 1214.8,309.0 1216.8,309.0 1218.8,309.0 1220.8,309.0 1222.8,309.0 1224.8,309.0 1226.8,309.0 1227.8,309.0 1228.8,309.0 1230.8,309.0 1232.8,309.0 1234.8,309.0 1236.8,309.0 1237.5,309.0 1238.8,309.0 1240.8,309.0 1242.8,309.0 1244.8,309.0 1246.8,309.0 1248.8,309.0 1250.8,309.0 1252.8,309.0 1254.8,309.0 1256.8,309.0 1258.4,309.0 1258.8,309.0 1260.8,309.0 1262.8,309.0 1264.8,309.0 1266.8,309.0 1268.8,309.0 1270.8,309.0 1272.8,309.0 1274.8,309.0 1276.2,309.0 1276.8,309.0 1278.8,308.8 1278.8,308.8 1276.8,309.4 1276.2,309.7 1274.8,309.8 1272.8,310.0 1270.8,310.2 1268.8,310.4 1266.8,310.5 1264.8,310.7 1262.8,310.9 1260.8,311.1 1258.8,311.3 1258.4,311.3 1256.8,311.7 1254.8,312.3 1252.8,312.8 1250.8,313.4 1248.8,313.9 1246.8,314.0 1244.8,314.1 1242.8,314.2 1240.8,314.3 1238.8,314.4 1237.5,314.5 1236.8,314.6 1234.8,315.1 1232.8,315.5 1230.8,315.9 1228.8,316.3 1227.8,316.5 1226.8,316.5 1224.8,316.5 1222.8,316.5 1220.8,316.5 1218.8,316.5 1216.8,316.5 1214.8,316.5 1212.8,316.5 1210.8,316.5 1208.8,316.5 1206.8,316.5 1204.8,316.5 1202.8,316.5 1200.8,316.5 1198.8,316.5 1196.8,316.5 1194.8,316.5 1192.8,316.5 1190.8,316.5 1188.8,316.5 1186.8,316.5 1184.8,316.5 1182.8,316.5 1180.8,316.5 1178.8,316.5 1177.8,316.5 1176.8,316.7 1174.8,317.0 1172.8,317.4 1170.8,317.8 1169.7,318.0 1168.8,318.1 1166.8,318.5 1164.8,318.8 1162.8,319.2 1160.8,319.6 1158.8,319.9 1158.4,320.0 1156.8,319.1 1154.8,318.0 1152.8,316.8 1150.8,315.7 1148.8,314.6 1148.7,314.5 1146.8,313.9 1144.8,313.2 1142.8,312.6 1140.8,311.9 1139.0,311.3 1138.8,311.3 1136.8,311.3 1134.8,311.3 1132.8,311.3 1130.8,311.3 1128.8,311.3 1126.8,311.3 1124.8,311.3 1122.8,311.3 1120.8,311.3 1118.8,311.3 1118.0,311.3 1116.8,311.0 1114.8,310.4" fill="#fbefef"/>
<polygon points="1278.8,309.0 1280.8,309.0 1282.8,309.0 1284.8,309.0 1285.9,309.0 1286.8,309.0 1288.8,309.0 1290.8,309.0 1292.8,309.0 1294.8,309.0 1296.5,309.0 1296.5,305.5 1294.8,305.5 1292.8,305.5 1290.8,305.5 1288.8,305.5 1286.8,305.5 1285.9,305.5 1284.8,306.0 1282.8,306.8 1280.8,307.7 1278.8,308.6" fill="#eef5ee"/>
<line x1="21.5" y1="616" x2="21.5" y2="822.5" stroke="#000" stroke-width="1"/>
<line x1="21.5" y1="859.5" x2="21.5" y2="878" stroke="#000" stroke-width="1"/>
<rect x="17.5" y="822.5" width="7.0" height="37.0" fill="#fff" stroke="#000" stroke-width="1"/>
<line x1="30.5" y1="821" x2="30.5" y2="890" stroke="#cc0033" stroke-width="1"/>
<rect x="27" y="822" width="7" height="43" fill="#cc0033"/>
<line x1="40.5" y1="822" x2="40.5" y2="851.5" stroke="#000" stroke-width="1"/>
<line x1="40.5" y1="865.5" x2="40.5" y2="902" stroke="#000" stroke-width="1"/>
<rect x="37.5" y="851.5" width="6.0" height="14.0" fill="#fff" stroke="#000" stroke-width="1"/>
<line x1="50.5" y1="830" x2="50.5" y2="880" stroke="#cc0033" stroke-width="1"/>
<rect x="47" y="850" width="7" height="3" fill="#cc0033"/>
<line x1="60.5" y1="839" x2="60.5" y2="848.5" stroke="#000" stroke-width="1"/>
<line x1="60.5" y1="851.5" x2="60.5" y2="863" stroke="#000" stroke-width="1"/>
<rect x="56.5" y="848.5" width="7.0" height="3.0" fill="#fff" stroke="#000" stroke-width="1"/>
<line x1="70.5" y1="771" x2="70.5" y2="784.5" stroke="#000" stroke-width="1"/>
<line x1="70.5" y1="848.5" x2="70.5" y2="849" stroke="#000" stroke-width="1"/>
<rect x="66.5" y="784.5" width="7.0" height="64.0" fill="#fff" stroke="#000" stroke-width="1"/>
<line x1="79.5" y1="712" x2="79.5" y2="717.5" stroke="#000" stroke-width="1"/>
<line x1="79.5" y1="783.5" x2="79.5" y2="792" stroke="#000" stroke-width="1"/>
<rect x="76.5" y="717.5" width="6.0" height="66.0" fill="#fff" stroke="#000" stroke-width="1"/>
<line x1="89.5" y1="656" x2="89.5" y2="677.5" stroke="#000" stroke-width="1"/>
<line x1="89.5" y1="717.5" x2="89.5" y2="719" stroke="#000" stroke-width="1"/>
<rect x="86.5" y="677.5" width="6.0" height="40.0" fill="#fff" stroke="#000" stroke-width="1"/>
<line x1="99.5" y1="674" x2="99.5" y2="710" stroke="#cc0033" stroke-width="1"/>
<rect x="96" y="677" width="7" height="18" fill="#cc0033"/>
<line x1="109.5" y1="658" x2="109.5" y2="663.5" stroke="#000" stroke-width="1"/>
<line x1="109.5" y1="692.5" x2="109.5" y2="697" stroke="#000" stroke-width="1"/>
<rect x="106.5" y="663.5" width="6.0" height="29.0" fill="#fff" stroke="#000" stroke-width="1"/>
<line x1="119.5" y1="634" x2="119.5" y2="687" stroke="#cc0033" stroke-width="1"/>
<rect x="115" y="664" width="8" height="7" fill="#cc0033"/>
<line x1="129.5" y1="657" x2="129.5" y2="694" stroke="#cc0033" stroke-width="1"/>
<rect x="125" y="671" width="8" height="3" fill="#cc0033"/>
<line x1="138.5" y1="669" x2="138.5" y2="710" stroke="#cc0033" stroke-width="1"/>
<rect x="135" y="674" width="7" height="3" fill="#cc0033"/>
<line x1="148.5" y1="659" x2="148.5" y2="667.5" stroke="#000" stroke-width="1"/>
<line x1="148.5" y1="676.5" x2="148.5" y2="679" stroke="#000" stroke-width="1"/>
<rect x="145.5" y="667.5" width="6.0" height="9.0" fill="#fff" stroke="#000" stroke-width="1"/>
<line x1="158.5" y1="665" x2="158.5" y2="690" stroke="#cc0033" stroke-width="1"/>
<rect x="155" y="668" width="7" height="12" fill="#cc0033"/>
<line x1="168.5" y1="676" x2="168.5" y2="702" stroke="#cc0033" stroke-width="1"/>
<rect x="164" y="680" width="8" height="17" fill="#cc0033"/>
<line x1="178.5" y1="694" x2="178.5" y2="722" stroke="#cc0033" stroke-width="1"/>
<rect x="174" y="697" width="8" height="3" fill="#cc0033"/>
<line x1="187.5" y1="676" x2="187.5" y2="681.5" stroke="#000" stroke-width="1"/>
<line x1="187.5" y1="701.5" x2="187.5" y2="701" stroke="#000" stroke-width="1"/>
<rect x="184.5" y="681.5" width="6.0" height="20.0" fill="#fff" stroke="#000" stroke-width="1"/>
<line x1="197.5" y1="650" x2="197.5" y2="653.5" stroke="#000" stroke-width="1"/>
<line x1="197.5" y1="681.5" x2="197.5" y2="684" stroke="#000" stroke-width="1"/>
<rect x="194.5" y="653.5" width="6.0" height="28.0" fill="#fff" stroke="#000" stroke-width="1"/>
<line x1="207.5" y1="568" x2="207.5" y2="576.5" stroke="#000" stroke-width="1"/>
<line x1="207.5" y1="653.5" x2="207.5" y2="654" stroke="#000" stroke-width="1"/>
<rect x="204.5" y="576.5" width="6.0" height="77.0" fill="#fff" stroke="#000" stroke-width="1"/>
<line x1="217.5" y1="544" x2="217.5" y2="545.5" stroke="#000" stroke-width="1"/>
<line x1="217.5" y1="576.5" x2="217.5" y2="591" stroke="#000" stroke-width="1"/>
<rect x="213.5" y="545.5" width="7.0" height="31.0" fill="#fff" stroke="#000" stroke-width="1"/>
<line x1="227.5" y1="471" x2="227.5" y2="472.5" stroke="#000" stroke-width="1"/>
<line x1="227.5" y1="544.5" x2="227.5" y2="561" stroke="#000" stroke-width="1"/>
<rect x="223.5" y="472.5" width="7.0" height="72.0" fill="#fff" stroke="#000" stroke-width="1"/>
<line x1="236.5" y1="432" x2="236.5" y2="458.5" stroke="#000" stroke-width="1"/>
<line x1="236.5" y1="472.5" x2="236.5" y2="507" stroke="#000" stroke-width="1"/>
<rect x="233.5" y="458.5" width="6.0" height="14.0" fill="#fff" stroke="#000" stroke-width="1"/>
<line x1="246.5" y1="456" x2="246.5" y2="514" stroke="#cc0033" stroke-width="1"/>
<rect x="243" y="458" width="7" height="23" fill="#cc0033"/>
<line x1="256.5" y1="437" x2="256.5" y2="436.5" stroke="#000" stroke-width="1"/>
<line x1="256.5" y1="481.5" x2="256.5" y2="481" stroke="#000" stroke-width="1"/>
<rect x="253.5" y="436.5" width="6.0" height="45.0" fill="#fff" stroke="#000" stroke-width="1"/>
<line x1="266.5" y1="435" x2="266.5" y2="480" stroke="#cc0033" stroke-width="1"/>
<rect x="262" y="436" width="8" height="18" fill="#cc0033"/>
<line x1="276.5" y1="443" x2="276.5" y2="460" stroke="#000" stroke-width="1"/>
<line x1="273.0" y1="453.5" x2="280.0" y2="453.5" stroke="#000" stroke-width="1"/>
<line x1="285.5" y1="417" x2="285.5" y2="429.5" stroke="#000" stroke-width="1"/>
<line x1="285.5" y1="453.5" x2="285.5" y2="460" stroke="#000" stroke-width="1"/>
<rect x="282.5" y="429.5" width="6.0" height="24.0" fill="#fff" stroke="#000" stroke-width="1"/>
<line x1="295.5" y1="381" x2="295.5" y2="392.5" stroke="#000" stroke-width="1"/>
<line x1="295.5" y1="428.5" x2="295.5" y2="428" stroke="#000" stroke-width="1"/>
<rect x="292.5" y="392.5" width="6.0" height="36.0" fill="#fff" stroke="#000" stroke-width="1"/>
<line x1="305.5" y1="347" x2="305.5" y2="364.5" stroke="#000" stroke-width="1"/>
<line x1="305.5" y1="392.5" x2="305.5" y2="395" stroke="#000" stroke-width="1"/>
<rect x="302.5" y="364.5" width="6.0" height="28.0" fill="#fff" stroke="#000" stroke-width="1"/>
<line x1="315.5" y1="362" x2="315.5" y2="411" stroke="#cc0033" stroke-width="1"/>
<rect x="312" y="364" width="7" height="18" fill="#cc0033"/>
<line x1="325.5" y1="378" x2="325.5" y2="440" stroke="#cc0033" stroke-width="1"/>
<rect x="321" y="382" width="8" height="54" fill="#cc0033"/>
<line x1="335.5" y1="395" x2="335.5" y2="399.5" stroke="#000" stroke-width="1"/>
<line x1="335.5" y1="435.5" x2="335.5" y2="442" stroke="#000" stroke-width="1"/>
<rect x="331.5" y="399.5" width="7.0" height="36.0" fill="#fff" stroke="#000" stroke-width="1"/>
<line x1="344.5" y1="384" x2="344.5" y2="420" stroke="#cc0033" stroke-width="1"/>
<rect x="341" y="400" width="7" height="9" fill="#cc0033"/>
<line x1="354.5" y1="403" x2="354.5" y2="433" stroke="#cc0033" stroke-width="1"/>
<rect x="351" y="408" width="7" height="17" fill="#cc0033"/>
<line x1="364.5" y1="416" x2="364.5" y2="431" stroke="#cc0033" stroke-width="1"/>
<rect x="361" y="425" width="7" height="5" fill="#cc0033"/>
<line x1="374.5" y1="428" x2="374.5" y2="467" stroke="#cc0033" stroke-width="1"/>
<rect x="370" y="429" width="8" height="29" fill="#cc0033"/>
<line x1="384.5" y1="453" x2="384.5" y2="494" stroke="#cc0033" stroke-width="1"/>
<rect x="380" y="458" width="8" height="14" fill="#cc0033"/>
<line x1="393.5" y1="471" x2="393.5" y2="487" stroke="#cc0033" stroke-width="1"/>
<rect x="390" y="472" width="7" height="10" fill="#cc0033"/>
<line x1="403.5" y1="474" x2="403.5" y2="529" stroke="#cc0033" stroke-width="1"/>
<rect x="400" y="482" width="7" height="39" fill="#cc0033"/>
<line x1="413.5" y1="496" x2="413.5" y2="509.5" stroke="#000" stroke-width="1"/>
<line x1="413.5" y1="520.5" x2="413.5" y2="542" stroke="#000" stroke-width="1"/>
<rect x="410.5" y="509.5" width="6.0" height="11.0" fill="#fff" stroke="#000" stroke-width="1"/>
<line x1="423.5" y1="494" x2="423.5" y2="526" stroke="#cc0033" stroke-width="1"/>
<rect x="419" y="509" width="8" height="16" fill="#cc0033"/>
<line x1="433.5" y1="496" x2="433.5" y2="508.5" stroke="#000" stroke-width="1"/>
<line x1="433.5" y1="524.5" x2="433.5" y2="528" stroke="#000" stroke-width="1"/>
<rect x="429.5" y="508.5" width="7.0" height="16.0" fill="#fff" stroke="#000" stroke-width="1"/>
<line x1="442.5" y1="505" x2="442.5" y2="505.5" stroke="#000" stroke-width="1"/>
<line x1="442.5" y1="508.5" x2="442.5" y2="509" stroke="#000" stroke-width="1"/>
<rect x="439.5" y="505.5" width="6.0" height="3.0" fill="#fff" stroke="#000" stroke-width="1"/>
<line x1="452.5" y1="486" x2="452.5" y2="495.5" stroke="#000" stroke-width="1"/>
<line x1="452.5" y1="505.5" x2="452.5" y2="506" stroke="#000" stroke-width="1"/>
<rect x="449.5" y="495.5" width="6.0" height="10.0" fill="#fff" stroke="#000" stroke-width="1"/>
<line x1="462.5" y1="459" x2="462.5" y2="461.5" stroke="#000" stroke-width="1"/>
<line x1="462.5" y1="495.5" x2="462.5" y2="498" stroke="#000" stroke-width="1"/>
<rect x="459.5" y="461.5" width="6.0" height="34.0" fill="#fff" stroke="#000" stroke-width="1"/>
<line x1="472.5" y1="442" x2="472.5" y2="456.5" stroke="#000" stroke-width="1"/>
<line x1="472.5" y1="461.5" x2="472.5" y2="473" stroke="#000" stroke-width="1"/>
<rect x="468.5" y="456.5" width="7.0" height="5.0" fill="#fff" stroke="#000" stroke-width="1"/>
<line x1="482.5" y1="447" x2="482.5" y2="485" stroke="#cc0033" stroke-width="1"/>
<rect x="478" y="456" width="8" height="20" fill="#cc0033"/>
<line x1="491.5" y1="469" x2="491.5" y2="495" stroke="#cc0033" stroke-width="1"/>
<rect x="488" y="476" width="7" height="15" fill="#cc0033"/>
<line x1="501.5" y1="472" x2="501.5" y2="488.5" stroke="#000" stroke-width="1"/>
<line x1="501.5" y1="491.5" x2="501.5" y2="498" stroke="#000" stroke-width="1"/>
<rect x="498.5" y="488.5" width="6.0" height="3.0" fill="#fff" stroke="#000" stroke-width="1"/>
<line x1="511.5" y1="482" x2="511.5" y2="500" stroke="#000" stroke-width="1"/>
<line x1="508.0" y1="488.0" x2="515.0" y2="488.0" stroke="#000" stroke-width="2"/>
<line x1="521.5" y1="483" x2="521.5" y2="506" stroke="#cc0033" stroke-width="1"/>
<rect x="517" y="488" width="8" height="13" fill="#cc0033"/>
<line x1="531.5" y1="499" x2="531.5" y2="516" stroke="#cc0033" stroke-width="1"/>
<rect x="527" y="500" width="8" height="12" fill="#cc0033"/>
<line x1="541.5" y1="487" x2="541.5" y2="489.5" stroke="#000" stroke-width="1"/>
<line x1="541.5" y1="511.5" x2="541.5" y2="514" stroke="#000" stroke-width="1"/>
<rect x="537.5" y="489.5" width="7.0" height="22.0" fill="#fff" stroke="#000" stroke-width="1"/>
<line x1="550.5" y1="456" x2="550.5" y2="475.5" stroke="#000" stroke-width="1"/>
<line x1="550.5" y1="489.5" x2="550.5" y2="489" stroke="#000" stroke-width="1"/>
<rect x="547.5" y="475.5" width="6.0" height="14.0" fill="#fff" stroke="#000" stroke-width="1"/>
<line x1="560.5" y1="467" x2="560.5" y2="524" stroke="#cc0033" stroke-width="1"/>
<rect x="557" y="476" width="7" height="33" fill="#cc0033"/>
<line x1="570.5" y1="473" x2="570.5" y2="479.5" stroke="#000" stroke-width="1"/>
<line x1="570.5" y1="509.5" x2="570.5" y2="509" stroke="#000" stroke-width="1"/>
<rect x="567.5" y="479.5" width="6.0" height="30.0" fill="#fff" stroke="#000" stroke-width="1"/>
<line x1="580.5" y1="467" x2="580.5" y2="471.5" stroke="#000" stroke-width="1"/>
<line x1="580.5" y1="479.5" x2="580.5" y2="488" stroke="#000" stroke-width="1"/>
<rect x="576.5" y="471.5" width="7.0" height="8.0" fill="#fff" stroke="#000" stroke-width="1"/>
<line x1="590.5" y1="464" x2="590.5" y2="475" stroke="#cc0033" stroke-width="1"/>
<rect x="586" y="471" width="8" height="3" fill="#cc0033"/>
<line x1="599.5" y1="442" x2="599.5" y2="444.5" stroke="#000" stroke-width="1"/>
<line x1="599.5" y1="472.5" x2="599.5" y2="474" stroke="#000" stroke-width="1"/>
<rect x="596.5" y="444.5" width="6.0" height="28.0" fill="#fff" stroke="#000" stroke-width="1"/>
<line x1="609.5" y1="426" x2="609.5" y2="428.5" stroke="#000" stroke-width="1"/>
<line x1="609.5" y1="444.5" x2="609.5" y2="444" stroke="#000" stroke-width="1"/>
<rect x="606.5" y="428.5" width="6.0" height="16.0" fill="#fff" stroke="#000" stroke-width="1"/>
<line x1="619.5" y1="421" x2="619.5" y2="452" stroke="#cc0033" stroke-width="1"/>
<rect x="616" y="428" width="7" height="14" fill="#cc0033"/>
<line x1="629.5" y1="430" x2="629.5" y2="437.5" stroke="#000" stroke-width="1"/>
<line x1="629.5" y1="441.5" x2="629.5" y2="447" stroke="#000" stroke-width="1"/>
<rect x="625.5" y="437.5" width="7.0" height="4.0" fill="#fff" stroke="#000" stroke-width="1"/>
<line x1="639.5" y1="401" x2="639.5" y2="404.5" stroke="#000" stroke-width="1"/>
<line x1="639.5" y1="436.5" x2="639.5" y2="438" stroke="#000" stroke-width="1"/>
<rect x="635.5" y="404.5" width="7.0" height="32.0" fill="#fff" stroke="#000" stroke-width="1"/>
<line x1="648.5" y1="390" x2="648.5" y2="392.5" stroke="#000" stroke-width="1"/>
<line x1="648.5" y1="403.5" x2="648.5" y2="416" stroke="#000" stroke-width="1"/>
<rect x="645.5" y="392.5" width="6.0" height="11.0" fill="#fff" stroke="#000" stroke-width="1"/>
<line x1="658.5" y1="346" x2="658.5" y2="353.5" stroke="#000" stroke-width="1"/>
<line x1="658.5" y1="392.5" x2="658.5" y2="394" stroke="#000" stroke-width="1"/>
<rect x="655.5" y="353.5" width="6.0" height="39.0" fill="#fff" stroke="#000" stroke-width="1"/>
<line x1="668.5" y1="323" x2="668.5" y2="347.5" stroke="#000" stroke-width="1"/>
<line x1="668.5" y1="353.5" x2="668.5" y2="356" stroke="#000" stroke-width="1"/>
<rect x="665.5" y="347.5" width="6.0" height="6.0" fill="#fff" stroke="#000" stroke-width="1"/>
<line x1="678.5" y1="326" x2="678.5" y2="327.5" stroke="#000" stroke-width="1"/>
<line x1="678.5" y1="347.5" x2="678.5" y2="348" stroke="#000" stroke-width="1"/>
<rect x="674.5" y="327.5" width="7.0" height="20.0" fill="#fff" stroke="#000" stroke-width="1"/>
<line x1="688.5" y1="302" x2="688.5" y2="302.5" stroke="#000" stroke-width="1"/>
<line x1="688.5" y1="327.5" x2="688.5" y2="328" stroke="#000" stroke-width="1"/>
<rect x="684.5" y="302.5" width="7.0" height="25.0" fill="#fff" stroke="#000" stroke-width="1"/>
<line x1="697.5" y1="271" x2="697.5" y2="335" stroke="#cc0033" stroke-width="1"/>
<rect x="694" y="302" width="7" height="3" fill="#cc0033"/>
<line x1="707.5" y1="299" x2="707.5" y2="335" stroke="#cc0033" stroke-width="1"/>
<rect x="704" y="304" width="7" height="11" fill="#cc0033"/>
<line x1="717.5" y1="308" x2="717.5" y2="308.5" stroke="#000" stroke-width="1"/>
<line x1="717.5" y1="315.5" x2="717.5" y2="335" stroke="#000" stroke-width="1"/>
<rect x="714.5" y="308.5" width="6.0" height="7.0" fill="#fff" stroke="#000" stroke-width="1"/>
<line x1="727.5" y1="286" x2="727.5" y2="287.5" stroke="#000" stroke-width="1"/>
<line x1="727.5" y1="308.5" x2="727.5" y2="311" stroke="#000" stroke-width="1"/>
<rect x="723.5" y="287.5" width="7.0" height="21.0" fill="#fff" stroke="#000" stroke-width="1"/>
<line x1="737.5" y1="276" x2="737.5" y2="304" stroke="#cc0033" stroke-width="1"/>
<rect x="733" y="288" width="8" height="8" fill="#cc0033"/>
<line x1="747.5" y1="269" x2="747.5" y2="272.5" stroke="#000" stroke-width="1"/>
<line x1="747.5" y1="296.5" x2="747.5" y2="298" stroke="#000" stroke-width="1"/>
<rect x="743.5" y="272.5" width="7.0" height="24.0" fill="#fff" stroke="#000" stroke-width="1"/>
<line x1="756.5" y1="263" x2="756.5" y2="267.5" stroke="#000" stroke-width="1"/>
<line x1="756.5" y1="271.5" x2="756.5" y2="278" stroke="#000" stroke-width="1"/>
<rect x="753.5" y="267.5" width="6.0" height="4.0" fill="#fff" stroke="#000" stroke-width="1"/>
<line x1="766.5" y1="265" x2="766.5" y2="285" stroke="#cc0033" stroke-width="1"/>
<rect x="763" y="268" width="7" height="15" fill="#cc0033"/>
<line x1="776.5" y1="279" x2="776.5" y2="320" stroke="#cc0033" stroke-width="1"/>
<rect x="773" y="283" width="7" height="21" fill="#cc0033"/>
<line x1="786.5" y1="290" x2="786.5" y2="299.5" stroke="#000" stroke-width="1"/>
<line x1="786.5" y1="304.5" x2="786.5" y2="316" stroke="#000" stroke-width="1"/>
<rect x="782.5" y="299.5" width="7.0" height="5.0" fill="#fff" stroke="#000" stroke-width="1"/>
<line x1="796.5" y1="286" x2="796.5" y2="291.5" stroke="#000" stroke-width="1"/>
<line x1="796.5" y1="298.5" x2="796.5" y2="310" stroke="#000" stroke-width="1"/>
<rect x="792.5" y="291.5" width="7.0" height="7.0" fill="#fff" stroke="#000" stroke-width="1"/>
<line x1="805.5" y1="284" x2="805.5" y2="304" stroke="#cc0033" stroke-width="1"/>
<rect x="802" y="291" width="7" height="13" fill="#cc0033"/>
<line x1="815.5" y1="297" x2="815.5" y2="336" stroke="#cc0033" stroke-width="1"/>
<rect x="812" y="304" width="7" height="22" fill="#cc0033"/>
<line x1="825.5" y1="325" x2="825.5" y2="380" stroke="#cc0033" stroke-width="1"/>
<rect x="822" y="326" width="7" height="41" fill="#cc0033"/>
<line x1="835.5" y1="332" x2="835.5" y2="336.5" stroke="#000" stroke-width="1"/>
<line x1="835.5" y1="367.5" x2="835.5" y2="372" stroke="#000" stroke-width="1"/>
<rect x="831.5" y="336.5" width="7.0" height="31.0" fill="#fff" stroke="#000" stroke-width="1"/>
<line x1="845.5" y1="324" x2="845.5" y2="347" stroke="#cc0033" stroke-width="1"/>
<rect x="841" y="336" width="8" height="6" fill="#cc0033"/>
<line x1="854.5" y1="332" x2="854.5" y2="359" stroke="#cc0033" stroke-width="1"/>
<rect x="851" y="342" width="7" height="10" fill="#cc0033"/>
<line x1="864.5" y1="337" x2="864.5" y2="341.5" stroke="#000" stroke-width="1"/>
<line x1="864.5" y1="351.5" x2="864.5" y2="359" stroke="#000" stroke-width="1"/>
<rect x="861.5" y="341.5" width="6.0" height="10.0" fill="#fff" stroke="#000" stroke-width="1"/>
<line x1="874.5" y1="337" x2="874.5" y2="367" stroke="#cc0033" stroke-width="1"/>
<rect x="871" y="342" width="7" height="13" fill="#cc0033"/>
<line x1="884.5" y1="354" x2="884.5" y2="360" stroke="#cc0033" stroke-width="1"/>
<rect x="880" y="354" width="8" height="6" fill="#cc0033"/>
<line x1="894.5" y1="337" x2="894.5" y2="340.5" stroke="#000" stroke-width="1"/>
<line x1="894.5" y1="359.5" x2="894.5" y2="360" stroke="#000" stroke-width="1"/>
<rect x="890.5" y="340.5" width="7.0" height="19.0" fill="#fff" stroke="#000" stroke-width="1"/>
<line x1="903.5" y1="334" x2="903.5" y2="345" stroke="#000" stroke-width="1"/>
<line x1="900.0" y1="340.0" x2="907.0" y2="340.0" stroke="#000" stroke-width="2"/>
<line x1="913.5" y1="329" x2="913.5" y2="330.5" stroke="#000" stroke-width="1"/>
<line x1="913.5" y1="339.5" x2="913.5" y2="350" stroke="#000" stroke-width="1"/>
<rect x="910.5" y="330.5" width="6.0" height="9.0" fill="#fff" stroke="#000" stroke-width="1"/>
<line x1="923.5" y1="320" x2="923.5" y2="329.5" stroke="#000" stroke-width="1"/>
<line x1="923.5" y1="331.5" x2="923.5" y2="334" stroke="#000" stroke-width="1"/>
<rect x="920.5" y="329.5" width="6.0" height="2.0" fill="#fff" stroke="#000" stroke-width="1"/>
<line x1="933.5" y1="324" x2="933.5" y2="335" stroke="#000" stroke-width="1"/>
<line x1="930.0" y1="329.5" x2="937.0" y2="329.5" stroke="#000" stroke-width="1"/>
<line x1="943.5" y1="326" x2="943.5" y2="326.5" stroke="#000" stroke-width="1"/>
<line x1="943.5" y1="329.5" x2="943.5" y2="339" stroke="#000" stroke-width="1"/>
<rect x="939.5" y="326.5" width="7.0" height="3.0" fill="#fff" stroke="#000" stroke-width="1"/>
<line x1="952.5" y1="323" x2="952.5" y2="331" stroke="#cc0033" stroke-width="1"/>
<rect x="949" y="326" width="7" height="4" fill="#cc0033"/>
<line x1="962.5" y1="328" x2="962.5" y2="342" stroke="#cc0033" stroke-width="1"/>
<rect x="959" y="330" width="7" height="7" fill="#cc0033"/>
<line x1="972.5" y1="336" x2="972.5" y2="343" stroke="#000" stroke-width="1"/>
<line x1="969.0" y1="337.0" x2="976.0" y2="337.0" stroke="#000" stroke-width="2"/>
<line x1="982.5" y1="329" x2="982.5" y2="331.5" stroke="#000" stroke-width="1"/>
<line x1="982.5" y1="336.5" x2="982.5" y2="344" stroke="#000" stroke-width="1"/>
<rect x="979.5" y="331.5" width="6.0" height="5.0" fill="#fff" stroke="#000" stroke-width="1"/>
<line x1="992.5" y1="320" x2="992.5" y2="322.5" stroke="#000" stroke-width="1"/>
<line x1="992.5" y1="331.5" x2="992.5" y2="333" stroke="#000" stroke-width="1"/>
<rect x="988.5" y="322.5" width="7.0" height="9.0" fill="#fff" stroke="#000" stroke-width="1"/>
<line x1="1002.5" y1="310" x2="1002.5" y2="315.5" stroke="#000" stroke-width="1"/>
<line x1="1002.5" y1="322.5" x2="1002.5" y2="324" stroke="#000" stroke-width="1"/>
<rect x="998.5" y="315.5" width="7.0" height="7.0" fill="#fff" stroke="#000" stroke-width="1"/>
<line x1="1011.5" y1="303" x2="1011.5" y2="322" stroke="#000" stroke-width="1"/>
<line x1="1008.0" y1="315.5" x2="1015.0" y2="315.5" stroke="#000" stroke-width="1"/>
<line x1="1021.5" y1="286" x2="1021.5" y2="289.5" stroke="#000" stroke-width="1"/>
<line x1="1021.5" y1="315.5" x2="1021.5" y2="317" stroke="#000" stroke-width="1"/>
<rect x="1018.5" y="289.5" width="6.0" height="26.0" fill="#fff" stroke="#000" stroke-width="1"/>
<line x1="1031.5" y1="275" x2="1031.5" y2="283.5" stroke="#000" stroke-width="1"/>
<line x1="1031.5" y1="289.5" x2="1031.5" y2="296" stroke="#000" stroke-width="1"/>
<rect x="1028.5" y="283.5" width="6.0" height="6.0" fill="#fff" stroke="#000" stroke-width="1"/>
<rect x="1037.5" y="283.0" width="8" height="10.0" fill="#cc0033" stroke="#f2e43a" stroke-width="1.2"/>
<polyline points="526.5,257.0 532.2,475.5 532.8,474.7 538.4,468.0 541.3,462.3 544.8,451.1 547.6,440.5 550.4,430.0 555.4,408.8 560.4,394.0 570.4,392.8 580.4,391.5 590.5,390.8 600.5,389.5 610.5,388.3 620.6,388.3 630.6,389.5 638.1,391.5 645.6,395.3 650.7,399.0 655.7,404.0 660.7,406.6 668.2,408.3 678.8,408.5 685.0,414.3 700.1,419.3 717.6,424.3 727.7,421.8 770.3,419.8 805.4,419.3 815.4,430.6 825.5,443.6 835.5,447.7 845.5,448.2 854.8,455.7 870.6,456.4 884.4,456.4 893.2,443.1 903.2,429.3 908.2,410.5 911.5,393.7 923.6,365.5 933.5,365.2 951.8,315.4 963.9,315.1 992.0,312.5 1002.2,307.4 1011.2,301.0 1021.4,299.3 1050.8,299.3 1059.7,296.2 1068.7,298.5 1078.3,303.6 1084.0,304.2 1098.7,303.2 1110.0,309.0 1118.0,311.3 1139.0,311.3 1148.7,314.5 1158.4,320.0 1177.8,316.5 1227.8,316.5 1237.5,314.5 1248.8,313.9 1258.4,311.3 1276.2,309.7 1285.9,305.5 1296.5,305.5" fill="none" stroke="#7fae83" stroke-width="1"/>
<polyline points="276.5,662.5 453.0,662.5 455.1,650.0 462.6,618.5 471.4,595.9 476.4,560.8 482.7,515.6 489.4,491.8 494.7,478.5 532.1,478.5 535.6,472.9 538.4,468.4 541.3,462.8 544.8,451.6 547.6,441.0 550.4,430.5 555.4,409.8 560.4,395.4 830.5,395.5 845.5,394.7 903.2,394.7 908.5,393.6 912.8,393.0 923.6,370.7 933.5,370.7 952.1,318.5 992.0,317.2 1011.2,310.3 1169.7,310.3 1177.8,309.0 1296.5,309.0" fill="none" stroke="#e98f95" stroke-width="1"/>
<line x1="17.0" y1="303.6" x2="1500.5" y2="303.6" stroke="#e60000" stroke-width="1.2" stroke-dasharray="3.4,2.6"/>
<polyline points="217.3,662.8 227.1,625.0 236.9,592.3 246.7,573.3 256.6,554.5 266.4,540.7 276.2,528.2 286.0,513.1 295.8,495.6 305.6,478.0 315.4,465.5 325.2,459.7 335.0,450.5 344.8,444.7 354.6,440.9 364.5,437.9 374.3,436.2 384.1,434.2 393.9,432.4 403.7,431.9 413.5,431.4 423.3,432.1 433.1,433.4 442.9,434.9 452.7,436.7 462.5,436.7 472.4,436.7 482.2,437.9 492.0,445.4 501.8,453.0 511.6,460.5 521.4,465.5 531.2,473.0 541.0,478.0 550.8,483.0 560.6,488.1 570.4,489.8 580.3,489.8 590.1,489.3 599.9,485.6 609.7,480.5 619.5,475.5 629.3,470.5 639.1,466.7 648.9,458.0 658.7,445.4 668.5,432.4 678.3,417.0 688.2,405.2 698.0,393.5 707.8,383.8 717.6,374.3 727.4,365.0 737.2,355.7 747.0,345.8 756.8,336.0 766.6,328.8 776.4,324.3 786.2,320.0 796.1,315.3 805.9,311.5 815.7,309.7 825.5,309.0 835.3,308.2 845.1,307.0 854.9,306.0 864.7,306.0 874.5,307.0 884.3,309.0 894.1,310.2 903.9,311.6 913.8,313.8 923.6,315.7 933.4,317.9 943.2,320.8 953.0,325.9 962.8,329.8 972.6,332.3 982.4,333.6 992.2,335.3 1002.0,335.5 1011.8,335.1 1021.7,331.7 1031.5,327.6 1041.3,324.0" fill="none" stroke="#1a6e1a" stroke-width="1.25"/>
<polyline points="511.5,478.5 550.6,474.8 580.2,471.3 609.5,465.5 629.3,460.5 638.9,458.0 649.3,454.4 660.0,449.0 670.0,443.0 679.0,437.0 689.0,427.7 699.6,417.7 710.0,411.5 720.3,406.1 729.0,400.8 738.3,395.1 748.5,388.0 758.9,380.3 766.7,375.8 782.0,370.5 797.6,367.4 810.0,364.8 822.1,362.9 825.5,362.1 845.0,359.9 864.6,357.4 884.4,354.6 900.0,353.4 913.7,350.2 933.5,347.0 952.4,343.2 972.5,339.3 992.3,336.8 1011.6,335.1 1021.4,333.0 1031.4,330.4 1041.6,327.5" fill="none" stroke="#0a0a8c" stroke-width="1.25"/>
<polyline points="119.2,721.7 129.0,711.7 138.8,700.4 148.7,690.9 158.5,683.6 168.3,680.4 178.1,679.6 187.9,678.6 197.7,675.3 207.5,654.0 217.3,629.0 227.1,587.0 236.9,553.3 246.7,533.2 256.6,513.1 266.4,500.6 276.2,486.8 286.0,470.5 295.8,451.5 305.6,432.3 315.4,422.1 325.2,419.1 335.0,412.8 344.8,409.1 354.6,408.3 364.5,407.3 374.3,407.3 384.1,409.6 393.9,415.8 403.7,430.4 413.5,442.9 423.3,449.7 433.1,461.7 442.9,473.5 452.7,483.0 462.5,489.3 472.4,489.8 482.2,490.6 492.0,491.1 501.8,488.6 511.6,486.8 521.4,486.1 531.2,485.6 541.0,484.3 550.8,481.8 560.6,485.6 570.4,488.6 580.3,488.6 590.1,486.8 599.9,480.5 609.7,473.0 619.5,466.7 629.3,459.2 639.1,450.5 648.9,437.9 658.7,420.4 668.5,402.8 678.3,388.0 688.2,372.9 698.0,355.4 707.8,346.6 717.6,336.7 727.4,326.9 737.2,317.8 747.0,308.5 756.8,300.0 766.6,294.3 776.4,292.4 786.2,291.9 796.1,290.9 805.9,290.2 815.7,290.9 825.5,295.2 835.3,299.0 845.1,305.2 854.9,315.3 864.7,322.8 874.5,327.8 884.3,334.1 894.1,339.1 903.9,344.8 913.8,345.4 923.6,341.6 933.4,340.9 943.2,339.0 953.0,337.8 962.8,336.8 972.6,335.5 982.4,334.2 992.2,331.7 1002.0,328.7 1011.8,326.9 1021.7,321.5 1031.5,316.1 1041.3,312.5" fill="none" stroke="#ff00ff" stroke-width="1.25"/>
<polygon points="227.6,431.6 296.1,431.6 246.7,514.9" fill="none" stroke="#000" stroke-width="2" stroke-linejoin="miter"/>
<g stroke="#000" stroke-width="1" fill="#000"><rect x="19.6" y="259.8" width="2.2" height="5.4"/><line x1="20.7" y1="258.6" x2="20.7" y2="267.6"/><rect x="23.4" y="259.2" width="2.2" height="6.2" fill="#fff"/><line x1="24.5" y1="258.2" x2="24.5" y2="259.2"/><line x1="24.5" y1="265.4" x2="24.5" y2="267.4"/></g>
<text x="31.9" y="267.2" font-family="Liberation Mono, monospace" font-size="10.4" textLength="163.4" lengthAdjust="spacingAndGlyphs">$ETHUSD (Monthly) 3260.336</text>
<line x1="19.3" y1="274.6" x2="27.6" y2="274.6" stroke="#ff00ff" stroke-width="1.6"/>
<text x="29.5" y="278.0" font-family="Liberation Sans, sans-serif" font-size="9.7" fill="#ff00ff" stroke="#ff00ff" stroke-width="0.25" textLength="73.2" lengthAdjust="spacingAndGlyphs">MA(10) 2385.278</text>
<line x1="19.3" y1="285.6" x2="27.6" y2="285.6" stroke="#006400" stroke-width="1.6"/>
<text x="29.5" y="289.0" font-family="Liberation Sans, sans-serif" font-size="9.7" fill="#006400" stroke="#006400" stroke-width="0.25" textLength="73.2" lengthAdjust="spacingAndGlyphs">MA(20) 1996.716</text>
<line x1="19.3" y1="296.3" x2="27.6" y2="296.3" stroke="#000080" stroke-width="1.6"/>
<text x="29.5" y="299.7" font-family="Liberation Sans, sans-serif" font-size="9.7" fill="#000080" stroke="#000080" stroke-width="0.25" textLength="73.2" lengthAdjust="spacingAndGlyphs">MA(50) 1909.079</text>
<line x1="19.3" y1="307.4" x2="27.6" y2="307.4" stroke="#cc0033" stroke-width="1.6"/>
<text x="29.5" y="310.8" font-family="Liberation Sans, sans-serif" font-size="9.7" fill="#cc0033" stroke="#cc0033" stroke-width="0.25" textLength="67.5" lengthAdjust="spacingAndGlyphs">MA(200) undef</text>
<line x1="19.3" y1="318.6" x2="27.6" y2="318.6" stroke="#8a2be2" stroke-width="1.6"/>
<text x="29.5" y="322.0" font-family="Liberation Sans, sans-serif" font-size="9.7" fill="#8a2be2" stroke="#8a2be2" stroke-width="0.25" textLength="247.3" lengthAdjust="spacingAndGlyphs">PIVOTS 716.247, 1498.803, 1973.077, 2755.633, 3229.907</text>
<polygon points="19.5,333.5 22.5,326 25,330 27.5,326.5 27.5,333.5" fill="#cfe3cf" stroke="#9dc09d" stroke-width="0.7"/>
<text x="29.5" y="333" font-family="Liberation Sans, sans-serif" font-size="9.6" fill="#006400" textLength="171.3" lengthAdjust="spacingAndGlyphs">ICHIMOKU(9,26,52) 2647.680 <tspan fill="#cc0033">2487.035</tspan></text>
<line x1="1500.5" y1="405.4" x2="1503.0" y2="405.4" stroke="#b8b8b8"/>
<text x="1510.0" y="409.1" font-family="Liberation Sans, sans-serif" font-size="9.4" textLength="38.0" lengthAdjust="spacingAndGlyphs">600.000</text>
<line x1="1500.5" y1="433.1" x2="1503.0" y2="433.1" stroke="#b8b8b8"/>
<text x="1510.0" y="436.8" font-family="Liberation Sans, sans-serif" font-size="9.4" textLength="38.0" lengthAdjust="spacingAndGlyphs">400.000</text>
<line x1="1500.5" y1="480.5" x2="1503.0" y2="480.5" stroke="#b8b8b8"/>
<text x="1510.0" y="484.2" font-family="Liberation Sans, sans-serif" font-size="9.4" textLength="38.0" lengthAdjust="spacingAndGlyphs">200.000</text>
<line x1="1500.5" y1="575.3" x2="1503.0" y2="575.3" stroke="#b8b8b8"/>
<text x="1515.8" y="578.9" font-family="Liberation Sans, sans-serif" font-size="9.4" textLength="32.1" lengthAdjust="spacingAndGlyphs">50.000</text>
<line x1="1500.5" y1="622.6" x2="1503.0" y2="622.6" stroke="#b8b8b8"/>
<text x="1515.8" y="626.3" font-family="Liberation Sans, sans-serif" font-size="9.4" textLength="32.1" lengthAdjust="spacingAndGlyphs">25.000</text>
<line x1="1500.5" y1="670.0" x2="1503.0" y2="670.0" stroke="#b8b8b8"/>
<text x="1515.8" y="673.7" font-family="Liberation Sans, sans-serif" font-size="9.4" textLength="32.1" lengthAdjust="spacingAndGlyphs">12.500</text>
<line x1="1500.5" y1="717.4" x2="1503.0" y2="717.4" stroke="#b8b8b8"/>
<text x="1521.7" y="721.0" font-family="Liberation Sans, sans-serif" font-size="9.4" textLength="26.3" lengthAdjust="spacingAndGlyphs">6.250</text>
<line x1="1500.5" y1="764.8" x2="1503.0" y2="764.8" stroke="#b8b8b8"/>
<text x="1521.7" y="768.4" font-family="Liberation Sans, sans-serif" font-size="9.4" textLength="26.3" lengthAdjust="spacingAndGlyphs">3.125</text>
<line x1="1500.5" y1="385.7" x2="1503.0" y2="385.7" stroke="#b8b8b8"/>
<text x="1510.0" y="389.4" font-family="Liberation Sans, sans-serif" font-size="9.4" textLength="38.0" lengthAdjust="spacingAndGlyphs">800.000</text>
<line x1="1500.5" y1="370.5" x2="1503.0" y2="370.5" stroke="#b8b8b8"/>
<text x="1504.2" y="374.1" font-family="Liberation Sans, sans-serif" font-size="9.4" textLength="43.9" lengthAdjust="spacingAndGlyphs">1000.000</text>
<line x1="1500.5" y1="358.0" x2="1503.0" y2="358.0" stroke="#b8b8b8"/>
<text x="1504.2" y="361.7" font-family="Liberation Sans, sans-serif" font-size="9.4" textLength="43.9" lengthAdjust="spacingAndGlyphs">1200.000</text>
<line x1="1500.5" y1="347.5" x2="1503.0" y2="347.5" stroke="#b8b8b8"/>
<text x="1504.2" y="351.1" font-family="Liberation Sans, sans-serif" font-size="9.4" textLength="43.9" lengthAdjust="spacingAndGlyphs">1400.000</text>
<line x1="1500.5" y1="338.4" x2="1503.0" y2="338.4" stroke="#b8b8b8"/>
<text x="1504.2" y="342.0" font-family="Liberation Sans, sans-serif" font-size="9.4" textLength="43.9" lengthAdjust="spacingAndGlyphs">1600.000</text>
<line x1="1500.5" y1="330.3" x2="1503.0" y2="330.3" stroke="#b8b8b8"/>
<text x="1504.2" y="334.0" font-family="Liberation Sans, sans-serif" font-size="9.4" textLength="43.9" lengthAdjust="spacingAndGlyphs">1800.000</text>
<line x1="1500.5" y1="323.1" x2="1503.0" y2="323.1" stroke="#b8b8b8"/>
<text x="1504.2" y="326.8" font-family="Liberation Sans, sans-serif" font-size="9.4" textLength="43.9" lengthAdjust="spacingAndGlyphs">2000.000</text>
<line x1="1500.5" y1="316.6" x2="1503.0" y2="316.6" stroke="#b8b8b8"/>
<text x="1504.2" y="320.2" font-family="Liberation Sans, sans-serif" font-size="9.4" textLength="43.9" lengthAdjust="spacingAndGlyphs">2200.000</text>
<line x1="1500.5" y1="310.6" x2="1503.0" y2="310.6" stroke="#b8b8b8"/>
<text x="1504.2" y="314.3" font-family="Liberation Sans, sans-serif" font-size="9.4" textLength="43.9" lengthAdjust="spacingAndGlyphs">2400.000</text>
<line x1="1500.5" y1="305.2" x2="1503.0" y2="305.2" stroke="#b8b8b8"/>
<text x="1504.2" y="308.8" font-family="Liberation Sans, sans-serif" font-size="9.4" textLength="43.9" lengthAdjust="spacingAndGlyphs">2600.000</text>
<line x1="1500.5" y1="300.1" x2="1503.0" y2="300.1" stroke="#b8b8b8"/>
<text x="1504.2" y="303.8" font-family="Liberation Sans, sans-serif" font-size="9.4" textLength="43.9" lengthAdjust="spacingAndGlyphs">2800.000</text>
<line x1="1500.5" y1="295.4" x2="1503.0" y2="295.4" stroke="#b8b8b8"/>
<text x="1504.2" y="299.0" font-family="Liberation Sans, sans-serif" font-size="9.4" textLength="43.9" lengthAdjust="spacingAndGlyphs">3000.000</text>
<line x1="1500.5" y1="291.0" x2="1503.0" y2="291.0" stroke="#b8b8b8"/>
<text x="1504.2" y="294.6" font-family="Liberation Sans, sans-serif" font-size="9.4" textLength="43.9" lengthAdjust="spacingAndGlyphs">3200.000</text>
<line x1="1500.5" y1="286.8" x2="1503.0" y2="286.8" stroke="#b8b8b8"/>
<text x="1504.2" y="291.5" font-family="Liberation Sans, sans-serif" font-size="9.4" textLength="43.9" lengthAdjust="spacingAndGlyphs" stroke="#000" stroke-width="0.4">3400.000</text>
<line x1="1500.5" y1="282.9" x2="1503.0" y2="282.9" stroke="#b8b8b8"/>
<text x="1504.2" y="287.6" font-family="Liberation Sans, sans-serif" font-size="9.4" textLength="43.9" lengthAdjust="spacingAndGlyphs" stroke="#000" stroke-width="0.4">3600.000</text>
<line x1="1500.5" y1="279.2" x2="1503.0" y2="279.2" stroke="#b8b8b8"/>
<text x="1504.2" y="283.9" font-family="Liberation Sans, sans-serif" font-size="9.4" textLength="43.9" lengthAdjust="spacingAndGlyphs" stroke="#000" stroke-width="0.4">3800.000</text>
<line x1="1500.5" y1="275.7" x2="1503.0" y2="275.7" stroke="#b8b8b8"/>
<text x="1504.2" y="280.4" font-family="Liberation Sans, sans-serif" font-size="9.4" textLength="43.9" lengthAdjust="spacingAndGlyphs" stroke="#000" stroke-width="0.4">4000.000</text>
<line x1="1500.5" y1="272.4" x2="1503.0" y2="272.4" stroke="#b8b8b8"/>
<text x="1504.2" y="277.0" font-family="Liberation Sans, sans-serif" font-size="9.4" textLength="43.9" lengthAdjust="spacingAndGlyphs" stroke="#000" stroke-width="0.4">4200.000</text>
<line x1="1500.5" y1="269.2" x2="1503.0" y2="269.2" stroke="#b8b8b8"/>
<text x="1504.2" y="273.9" font-family="Liberation Sans, sans-serif" font-size="9.4" textLength="43.9" lengthAdjust="spacingAndGlyphs" stroke="#000" stroke-width="0.4">4400.000</text>
<line x1="1500.5" y1="266.2" x2="1503.0" y2="266.2" stroke="#b8b8b8"/>
<text x="1504.2" y="270.8" font-family="Liberation Sans, sans-serif" font-size="9.4" textLength="43.9" lengthAdjust="spacingAndGlyphs" stroke="#000" stroke-width="0.4">4600.000</text>
<line x1="1500.5" y1="263.3" x2="1503.0" y2="263.3" stroke="#b8b8b8"/>
<text x="1504.2" y="267.9" font-family="Liberation Sans, sans-serif" font-size="9.4" textLength="43.9" lengthAdjust="spacingAndGlyphs" stroke="#000" stroke-width="0.4">4800.000</text>
<line x1="1500.5" y1="260.5" x2="1503.0" y2="260.5" stroke="#b8b8b8"/>
<text x="1504.2" y="265.1" font-family="Liberation Sans, sans-serif" font-size="9.4" textLength="43.9" lengthAdjust="spacingAndGlyphs" stroke="#000" stroke-width="0.4">5000.000</text>
<polygon points="1498.4,393.6 1503.6,388.4 1543.7,388.4 1543.7,398.8 1503.6,398.8" fill="#fff" stroke="#8a2be2" stroke-width="1.1"/>
<text x="1503.7" y="397.1" font-family="Liberation Sans, sans-serif" font-size="9.4" textLength="38.0" lengthAdjust="spacingAndGlyphs">716.247</text>
<polygon points="1498.4,343.3 1503.6,338.1 1550.0,338.1 1550.0,348.5 1503.6,348.5" fill="#fff" stroke="#8a2be2" stroke-width="1.1"/>
<text x="1504.2" y="346.8" font-family="Liberation Sans, sans-serif" font-size="9.4" textLength="43.9" lengthAdjust="spacingAndGlyphs">1498.803</text>
<polygon points="1498.4,326.0 1503.6,320.8 1550.0,320.8 1550.0,331.2 1503.6,331.2" fill="#fff" stroke="#000080" stroke-width="1.1"/>
<text x="1504.2" y="329.5" font-family="Liberation Sans, sans-serif" font-size="9.4" textLength="43.9" lengthAdjust="spacingAndGlyphs">1909.079</text>
<polygon points="1498.4,323.5 1503.6,318.3 1550.0,318.3 1550.0,328.7 1503.6,328.7" fill="#fff" stroke="#006400" stroke-width="1.1"/>
<text x="1504.2" y="327.0" font-family="Liberation Sans, sans-serif" font-size="9.4" textLength="43.9" lengthAdjust="spacingAndGlyphs">1996.716</text>
<polygon points="1498.4,311.3 1503.6,306.1 1550.0,306.1 1550.0,316.5 1503.6,316.5" fill="#fff" stroke="#ff00ff" stroke-width="1.1"/>
<text x="1504.2" y="314.8" font-family="Liberation Sans, sans-serif" font-size="9.4" textLength="43.9" lengthAdjust="spacingAndGlyphs">2385.278</text>
<polygon points="1498.4,301.4 1503.6,296.2 1550.0,296.2 1550.0,306.6 1503.6,306.6" fill="#fff" stroke="#8a2be2" stroke-width="1.1"/>
<text x="1504.2" y="304.9" font-family="Liberation Sans, sans-serif" font-size="9.4" textLength="43.9" lengthAdjust="spacingAndGlyphs">2755.633</text>
<polygon points="1498.4,290.8 1503.6,285.2 1550.2,285.2 1550.2,296.4 1503.6,296.4" fill="#fff" stroke="#000" stroke-width="1.1"/>
<text x="1503.0" y="294.3" font-family="Liberation Sans, sans-serif" font-size="9.4" textLength="45.2" lengthAdjust="spacingAndGlyphs" font-weight="bold">3260.336</text>
<line x1="21.1" y1="908.9" x2="21.1" y2="910.7" stroke="#b8b8b8" stroke-width="1"/>
<line x1="21.1" y1="921.6" x2="21.1" y2="923.4" stroke="#b8b8b8" stroke-width="1"/>
<line x1="30.9" y1="908.9" x2="30.9" y2="910.7" stroke="#b8b8b8" stroke-width="1"/>
<line x1="30.9" y1="921.6" x2="30.9" y2="923.4" stroke="#b8b8b8" stroke-width="1"/>
<line x1="40.8" y1="908.9" x2="40.8" y2="911.9" stroke="#b8b8b8" stroke-width="1"/>
<line x1="40.8" y1="920.4" x2="40.8" y2="923.4" stroke="#b8b8b8" stroke-width="1"/>
<text x="41.1" y="920.0" font-family="Liberation Sans, sans-serif" font-size="9.6" text-anchor="middle" letter-spacing="0.5">Oct</text>
<line x1="50.6" y1="908.9" x2="50.6" y2="910.7" stroke="#b8b8b8" stroke-width="1"/>
<line x1="50.6" y1="921.6" x2="50.6" y2="923.4" stroke="#b8b8b8" stroke-width="1"/>
<line x1="60.4" y1="908.9" x2="60.4" y2="910.7" stroke="#b8b8b8" stroke-width="1"/>
<line x1="60.4" y1="921.6" x2="60.4" y2="923.4" stroke="#b8b8b8" stroke-width="1"/>
<line x1="70.2" y1="908.9" x2="70.2" y2="911.9" stroke="#b8b8b8" stroke-width="1"/>
<line x1="70.2" y1="920.4" x2="70.2" y2="923.4" stroke="#b8b8b8" stroke-width="1"/>
<text x="68.9" y="920.2" font-family="Liberation Sans, sans-serif" font-size="10.6" font-weight="bold" text-anchor="middle">16</text>
<line x1="80.0" y1="908.9" x2="80.0" y2="910.7" stroke="#b8b8b8" stroke-width="1"/>
<line x1="80.0" y1="921.6" x2="80.0" y2="923.4" stroke="#b8b8b8" stroke-width="1"/>
<line x1="89.8" y1="908.9" x2="89.8" y2="910.7" stroke="#b8b8b8" stroke-width="1"/>
<line x1="89.8" y1="921.6" x2="89.8" y2="923.4" stroke="#b8b8b8" stroke-width="1"/>
<line x1="99.6" y1="908.9" x2="99.6" y2="911.9" stroke="#b8b8b8" stroke-width="1"/>
<line x1="99.6" y1="920.4" x2="99.6" y2="923.4" stroke="#b8b8b8" stroke-width="1"/>
<text x="99.9" y="920.0" font-family="Liberation Sans, sans-serif" font-size="9.6" text-anchor="middle" letter-spacing="0.5">Apr</text>
<line x1="109.4" y1="908.9" x2="109.4" y2="910.7" stroke="#b8b8b8" stroke-width="1"/>
<line x1="109.4" y1="921.6" x2="109.4" y2="923.4" stroke="#b8b8b8" stroke-width="1"/>
<line x1="119.2" y1="908.9" x2="119.2" y2="910.7" stroke="#b8b8b8" stroke-width="1"/>
<line x1="119.2" y1="921.6" x2="119.2" y2="923.4" stroke="#b8b8b8" stroke-width="1"/>
<line x1="129.0" y1="908.9" x2="129.0" y2="911.9" stroke="#b8b8b8" stroke-width="1"/>
<line x1="129.0" y1="920.4" x2="129.0" y2="923.4" stroke="#b8b8b8" stroke-width="1"/>
<text x="129.3" y="920.0" font-family="Liberation Sans, sans-serif" font-size="9.6" text-anchor="middle" letter-spacing="0.5">Jul</text>
<line x1="138.8" y1="908.9" x2="138.8" y2="910.7" stroke="#b8b8b8" stroke-width="1"/>
<line x1="138.8" y1="921.6" x2="138.8" y2="923.4" stroke="#b8b8b8" stroke-width="1"/>
<line x1="148.7" y1="908.9" x2="148.7" y2="910.7" stroke="#b8b8b8" stroke-width="1"/>
<line x1="148.7" y1="921.6" x2="148.7" y2="923.4" stroke="#b8b8b8" stroke-width="1"/>
<line x1="158.5" y1="908.9" x2="158.5" y2="911.9" stroke="#b8b8b8" stroke-width="1"/>
<line x1="158.5" y1="920.4" x2="158.5" y2="923.4" stroke="#b8b8b8" stroke-width="1"/>
<text x="158.8" y="920.0" font-family="Liberation Sans, sans-serif" font-size="9.6" text-anchor="middle" letter-spacing="0.5">Oct</text>
<line x1="168.3" y1="908.9" x2="168.3" y2="910.7" stroke="#b8b8b8" stroke-width="1"/>
<line x1="168.3" y1="921.6" x2="168.3" y2="923.4" stroke="#b8b8b8" stroke-width="1"/>
<line x1="178.1" y1="908.9" x2="178.1" y2="910.7" stroke="#b8b8b8" stroke-width="1"/>
<line x1="178.1" y1="921.6" x2="178.1" y2="923.4" stroke="#b8b8b8" stroke-width="1"/>
<line x1="187.9" y1="908.9" x2="187.9" y2="911.9" stroke="#b8b8b8" stroke-width="1"/>
<line x1="187.9" y1="920.4" x2="187.9" y2="923.4" stroke="#b8b8b8" stroke-width="1"/>
<text x="186.6" y="920.2" font-family="Liberation Sans, sans-serif" font-size="10.6" font-weight="bold" text-anchor="middle">17</text>
<line x1="197.7" y1="908.9" x2="197.7" y2="910.7" stroke="#b8b8b8" stroke-width="1"/>
<line x1="197.7" y1="921.6" x2="197.7" y2="923.4" stroke="#b8b8b8" stroke-width="1"/>
<line x1="207.5" y1="908.9" x2="207.5" y2="910.7" stroke="#b8b8b8" stroke-width="1"/>
<line x1="207.5" y1="921.6" x2="207.5" y2="923.4" stroke="#b8b8b8" stroke-width="1"/>
<line x1="217.3" y1="908.9" x2="217.3" y2="911.9" stroke="#b8b8b8" stroke-width="1"/>
<line x1="217.3" y1="920.4" x2="217.3" y2="923.4" stroke="#b8b8b8" stroke-width="1"/>
<text x="217.6" y="920.0" font-family="Liberation Sans, sans-serif" font-size="9.6" text-anchor="middle" letter-spacing="0.5">Apr</text>
<line x1="227.1" y1="908.9" x2="227.1" y2="910.7" stroke="#b8b8b8" stroke-width="1"/>
<line x1="227.1" y1="921.6" x2="227.1" y2="923.4" stroke="#b8b8b8" stroke-width="1"/>
<line x1="236.9" y1="908.9" x2="236.9" y2="910.7" stroke="#b8b8b8" stroke-width="1"/>
<line x1="236.9" y1="921.6" x2="236.9" y2="923.4" stroke="#b8b8b8" stroke-width="1"/>
<line x1="246.7" y1="908.9" x2="246.7" y2="911.9" stroke="#b8b8b8" stroke-width="1"/>
<line x1="246.7" y1="920.4" x2="246.7" y2="923.4" stroke="#b8b8b8" stroke-width="1"/>
<text x="247.0" y="920.0" font-family="Liberation Sans, sans-serif" font-size="9.6" text-anchor="middle" letter-spacing="0.5">Jul</text>
<line x1="256.6" y1="908.9" x2="256.6" y2="910.7" stroke="#b8b8b8" stroke-width="1"/>
<line x1="256.6" y1="921.6" x2="256.6" y2="923.4" stroke="#b8b8b8" stroke-width="1"/>
<line x1="266.4" y1="908.9" x2="266.4" y2="910.7" stroke="#b8b8b8" stroke-width="1"/>
<line x1="266.4" y1="921.6" x2="266.4" y2="923.4" stroke="#b8b8b8" stroke-width="1"/>
<line x1="276.2" y1="908.9" x2="276.2" y2="911.9" stroke="#b8b8b8" stroke-width="1"/>
<line x1="276.2" y1="920.4" x2="276.2" y2="923.4" stroke="#b8b8b8" stroke-width="1"/>
<text x="276.5" y="920.0" font-family="Liberation Sans, sans-serif" font-size="9.6" text-anchor="middle" letter-spacing="0.5">Oct</text>
<line x1="286.0" y1="908.9" x2="286.0" y2="910.7" stroke="#b8b8b8" stroke-width="1"/>
<line x1="286.0" y1="921.6" x2="286.0" y2="923.4" stroke="#b8b8b8" stroke-width="1"/>
<line x1="295.8" y1="908.9" x2="295.8" y2="910.7" stroke="#b8b8b8" stroke-width="1"/>
<line x1="295.8" y1="921.6" x2="295.8" y2="923.4" stroke="#b8b8b8" stroke-width="1"/>
<line x1="305.6" y1="908.9" x2="305.6" y2="911.9" stroke="#b8b8b8" stroke-width="1"/>
<line x1="305.6" y1="920.4" x2="305.6" y2="923.4" stroke="#b8b8b8" stroke-width="1"/>
<text x="304.3" y="920.2" font-family="Liberation Sans, sans-serif" font-size="10.6" font-weight="bold" text-anchor="middle">18</text>
<line x1="315.4" y1="908.9" x2="315.4" y2="910.7" stroke="#b8b8b8" stroke-width="1"/>
<line x1="315.4" y1="921.6" x2="315.4" y2="923.4" stroke="#b8b8b8" stroke-width="1"/>
<line x1="325.2" y1="908.9" x2="325.2" y2="910.7" stroke="#b8b8b8" stroke-width="1"/>
<line x1="325.2" y1="921.6" x2="325.2" y2="923.4" stroke="#b8b8b8" stroke-width="1"/>
<line x1="335.0" y1="908.9" x2="335.0" y2="911.9" stroke="#b8b8b8" stroke-width="1"/>
<line x1="335.0" y1="920.4" x2="335.0" y2="923.4" stroke="#b8b8b8" stroke-width="1"/>
<text x="335.3" y="920.0" font-family="Liberation Sans, sans-serif" font-size="9.6" text-anchor="middle" letter-spacing="0.5">Apr</text>
<line x1="344.8" y1="908.9" x2="344.8" y2="910.7" stroke="#b8b8b8" stroke-width="1"/>
<line x1="344.8" y1="921.6" x2="344.8" y2="923.4" stroke="#b8b8b8" stroke-width="1"/>
<line x1="354.6" y1="908.9" x2="354.6" y2="910.7" stroke="#b8b8b8" stroke-width="1"/>
<line x1="354.6" y1="921.6" x2="354.6" y2="923.4" stroke="#b8b8b8" stroke-width="1"/>
<line x1="364.5" y1="908.9" x2="364.5" y2="911.9" stroke="#b8b8b8" stroke-width="1"/>
<line x1="364.5" y1="920.4" x2="364.5" y2="923.4" stroke="#b8b8b8" stroke-width="1"/>
<text x="364.8" y="920.0" font-family="Liberation Sans, sans-serif" font-size="9.6" text-anchor="middle" letter-spacing="0.5">Jul</text>
<line x1="374.3" y1="908.9" x2="374.3" y2="910.7" stroke="#b8b8b8" stroke-width="1"/>
<line x1="374.3" y1="921.6" x2="374.3" y2="923.4" stroke="#b8b8b8" stroke-width="1"/>
<line x1="384.1" y1="908.9" x2="384.1" y2="910.7" stroke="#b8b8b8" stroke-width="1"/>
<line x1="384.1" y1="921.6" x2="384.1" y2="923.4" stroke="#b8b8b8" stroke-width="1"/>
<line x1="393.9" y1="908.9" x2="393.9" y2="911.9" stroke="#b8b8b8" stroke-width="1"/>
<line x1="393.9" y1="920.4" x2="393.9" y2="923.4" stroke="#b8b8b8" stroke-width="1"/>
<text x="394.2" y="920.0" font-family="Liberation Sans, sans-serif" font-size="9.6" text-anchor="middle" letter-spacing="0.5">Oct</text>
<line x1="403.7" y1="908.9" x2="403.7" y2="910.7" stroke="#b8b8b8" stroke-width="1"/>
<line x1="403.7" y1="921.6" x2="403.7" y2="923.4" stroke="#b8b8b8" stroke-width="1"/>
<line x1="413.5" y1="908.9" x2="413.5" y2="910.7" stroke="#b8b8b8" stroke-width="1"/>
<line x1="413.5" y1="921.6" x2="413.5" y2="923.4" stroke="#b8b8b8" stroke-width="1"/>
<line x1="423.3" y1="908.9" x2="423.3" y2="911.9" stroke="#b8b8b8" stroke-width="1"/>
<line x1="423.3" y1="920.4" x2="423.3" y2="923.4" stroke="#b8b8b8" stroke-width="1"/>
<text x="422.0" y="920.2" font-family="Liberation Sans, sans-serif" font-size="10.6" font-weight="bold" text-anchor="middle">19</text>
<line x1="433.1" y1="908.9" x2="433.1" y2="910.7" stroke="#b8b8b8" stroke-width="1"/>
<line x1="433.1" y1="921.6" x2="433.1" y2="923.4" stroke="#b8b8b8" stroke-width="1"/>
<line x1="442.9" y1="908.9" x2="442.9" y2="910.7" stroke="#b8b8b8" stroke-width="1"/>
<line x1="442.9" y1="921.6" x2="442.9" y2="923.4" stroke="#b8b8b8" stroke-width="1"/>
<line x1="452.7" y1="908.9" x2="452.7" y2="911.9" stroke="#b8b8b8" stroke-width="1"/>
<line x1="452.7" y1="920.4" x2="452.7" y2="923.4" stroke="#b8b8b8" stroke-width="1"/>
<text x="453.0" y="920.0" font-family="Liberation Sans, sans-serif" font-size="9.6" text-anchor="middle" letter-spacing="0.5">Apr</text>
<line x1="462.5" y1="908.9" x2="462.5" y2="910.7" stroke="#b8b8b8" stroke-width="1"/>
<line x1="462.5" y1="921.6" x2="462.5" y2="923.4" stroke="#b8b8b8" stroke-width="1"/>
<line x1="472.4" y1="908.9" x2="472.4" y2="910.7" stroke="#b8b8b8" stroke-width="1"/>
<line x1="472.4" y1="921.6" x2="472.4" y2="923.4" stroke="#b8b8b8" stroke-width="1"/>
<line x1="482.2" y1="908.9" x2="482.2" y2="911.9" stroke="#b8b8b8" stroke-width="1"/>
<line x1="482.2" y1="920.4" x2="482.2" y2="923.4" stroke="#b8b8b8" stroke-width="1"/>
<text x="482.5" y="920.0" font-family="Liberation Sans, sans-serif" font-size="9.6" text-anchor="middle" letter-spacing="0.5">Jul</text>
<line x1="492.0" y1="908.9" x2="492.0" y2="910.7" stroke="#b8b8b8" stroke-width="1"/>
<line x1="492.0" y1="921.6" x2="492.0" y2="923.4" stroke="#b8b8b8" stroke-width="1"/>
<line x1="501.8" y1="908.9" x2="501.8" y2="910.7" stroke="#b8b8b8" stroke-width="1"/>
<line x1="501.8" y1="921.6" x2="501.8" y2="923.4" stroke="#b8b8b8" stroke-width="1"/>
<line x1="511.6" y1="908.9" x2="511.6" y2="911.9" stroke="#b8b8b8" stroke-width="1"/>
<line x1="511.6" y1="920.4" x2="511.6" y2="923.4" stroke="#b8b8b8" stroke-width="1"/>
<text x="511.9" y="920.0" font-family="Liberation Sans, sans-serif" font-size="9.6" text-anchor="middle" letter-spacing="0.5">Oct</text>
<line x1="521.4" y1="908.9" x2="521.4" y2="910.7" stroke="#b8b8b8" stroke-width="1"/>
<line x1="521.4" y1="921.6" x2="521.4" y2="923.4" stroke="#b8b8b8" stroke-width="1"/>
<line x1="531.2" y1="908.9" x2="531.2" y2="910.7" stroke="#b8b8b8" stroke-width="1"/>
<line x1="531.2" y1="921.6" x2="531.2" y2="923.4" stroke="#b8b8b8" stroke-width="1"/>
<line x1="541.0" y1="908.9" x2="541.0" y2="911.9" stroke="#b8b8b8" stroke-width="1"/>
<line x1="541.0" y1="920.4" x2="541.0" y2="923.4" stroke="#b8b8b8" stroke-width="1"/>
<text x="539.7" y="920.2" font-family="Liberation Sans, sans-serif" font-size="10.6" font-weight="bold" text-anchor="middle">20</text>
<line x1="550.8" y1="908.9" x2="550.8" y2="910.7" stroke="#b8b8b8" stroke-width="1"/>
<line x1="550.8" y1="921.6" x2="550.8" y2="923.4" stroke="#b8b8b8" stroke-width="1"/>
<line x1="560.6" y1="908.9" x2="560.6" y2="910.7" stroke="#b8b8b8" stroke-width="1"/>
<line x1="560.6" y1="921.6" x2="560.6" y2="923.4" stroke="#b8b8b8" stroke-width="1"/>
<line x1="570.4" y1="908.9" x2="570.4" y2="911.9" stroke="#b8b8b8" stroke-width="1"/>
<line x1="570.4" y1="920.4" x2="570.4" y2="923.4" stroke="#b8b8b8" stroke-width="1"/>
<text x="570.7" y="920.0" font-family="Liberation Sans, sans-serif" font-size="9.6" text-anchor="middle" letter-spacing="0.5">Apr</text>
<line x1="580.3" y1="908.9" x2="580.3" y2="910.7" stroke="#b8b8b8" stroke-width="1"/>
<line x1="580.3" y1="921.6" x2="580.3" y2="923.4" stroke="#b8b8b8" stroke-width="1"/>
<line x1="590.1" y1="908.9" x2="590.1" y2="910.7" stroke="#b8b8b8" stroke-width="1"/>
<line x1="590.1" y1="921.6" x2="590.1" y2="923.4" stroke="#b8b8b8" stroke-width="1"/>
<line x1="599.9" y1="908.9" x2="599.9" y2="911.9" stroke="#b8b8b8" stroke-width="1"/>
<line x1="599.9" y1="920.4" x2="599.9" y2="923.4" stroke="#b8b8b8" stroke-width="1"/>
<text x="600.2" y="920.0" font-family="Liberation Sans, sans-serif" font-size="9.6" text-anchor="middle" letter-spacing="0.5">Jul</text>
<line x1="609.7" y1="908.9" x2="609.7" y2="910.7" stroke="#b8b8b8" stroke-width="1"/>
<line x1="609.7" y1="921.6" x2="609.7" y2="923.4" stroke="#b8b8b8" stroke-width="1"/>
<line x1="619.5" y1="908.9" x2="619.5" y2="910.7" stroke="#b8b8b8" stroke-width="1"/>
<line x1="619.5" y1="921.6" x2="619.5" y2="923.4" stroke="#b8b8b8" stroke-width="1"/>
<line x1="629.3" y1="908.9" x2="629.3" y2="911.9" stroke="#b8b8b8" stroke-width="1"/>
<line x1="629.3" y1="920.4" x2="629.3" y2="923.4" stroke="#b8b8b8" stroke-width="1"/>
<text x="629.6" y="920.0" font-family="Liberation Sans, sans-serif" font-size="9.6" text-anchor="middle" letter-spacing="0.5">Oct</text>
<line x1="639.1" y1="908.9" x2="639.1" y2="910.7" stroke="#b8b8b8" stroke-width="1"/>
<line x1="639.1" y1="921.6" x2="639.1" y2="923.4" stroke="#b8b8b8" stroke-width="1"/>
<line x1="648.9" y1="908.9" x2="648.9" y2="910.7" stroke="#b8b8b8" stroke-width="1"/>
<line x1="648.9" y1="921.6" x2="648.9" y2="923.4" stroke="#b8b8b8" stroke-width="1"/>
<line x1="658.7" y1="908.9" x2="658.7" y2="911.9" stroke="#b8b8b8" stroke-width="1"/>
<line x1="658.7" y1="920.4" x2="658.7" y2="923.4" stroke="#b8b8b8" stroke-width="1"/>
<text x="657.4" y="920.2" font-family="Liberation Sans, sans-serif" font-size="10.6" font-weight="bold" text-anchor="middle">21</text>
<line x1="668.5" y1="908.9" x2="668.5" y2="910.7" stroke="#b8b8b8" stroke-width="1"/>
<line x1="668.5" y1="921.6" x2="668.5" y2="923.4" stroke="#b8b8b8" stroke-width="1"/>
<line x1="678.3" y1="908.9" x2="678.3" y2="910.7" stroke="#b8b8b8" stroke-width="1"/>
<line x1="678.3" y1="921.6" x2="678.3" y2="923.4" stroke="#b8b8b8" stroke-width="1"/>
<line x1="688.2" y1="908.9" x2="688.2" y2="911.9" stroke="#b8b8b8" stroke-width="1"/>
<line x1="688.2" y1="920.4" x2="688.2" y2="923.4" stroke="#b8b8b8" stroke-width="1"/>
<text x="688.5" y="920.0" font-family="Liberation Sans, sans-serif" font-size="9.6" text-anchor="middle" letter-spacing="0.5">Apr</text>
<line x1="698.0" y1="908.9" x2="698.0" y2="910.7" stroke="#b8b8b8" stroke-width="1"/>
<line x1="698.0" y1="921.6" x2="698.0" y2="923.4" stroke="#b8b8b8" stroke-width="1"/>
<line x1="707.8" y1="908.9" x2="707.8" y2="910.7" stroke="#b8b8b8" stroke-width="1"/>
<line x1="707.8" y1="921.6" x2="707.8" y2="923.4" stroke="#b8b8b8" stroke-width="1"/>
<line x1="717.6" y1="908.9" x2="717.6" y2="911.9" stroke="#b8b8b8" stroke-width="1"/>
<line x1="717.6" y1="920.4" x2="717.6" y2="923.4" stroke="#b8b8b8" stroke-width="1"/>
<text x="717.9" y="920.0" font-family="Liberation Sans, sans-serif" font-size="9.6" text-anchor="middle" letter-spacing="0.5">Jul</text>
<line x1="727.4" y1="908.9" x2="727.4" y2="910.7" stroke="#b8b8b8" stroke-width="1"/>
<line x1="727.4" y1="921.6" x2="727.4" y2="923.4" stroke="#b8b8b8" stroke-width="1"/>
<line x1="737.2" y1="908.9" x2="737.2" y2="910.7" stroke="#b8b8b8" stroke-width="1"/>
<line x1="737.2" y1="921.6" x2="737.2" y2="923.4" stroke="#b8b8b8" stroke-width="1"/>
<line x1="747.0" y1="908.9" x2="747.0" y2="911.9" stroke="#b8b8b8" stroke-width="1"/>
<line x1="747.0" y1="920.4" x2="747.0" y2="923.4" stroke="#b8b8b8" stroke-width="1"/>
<text x="747.3" y="920.0" font-family="Liberation Sans, sans-serif" font-size="9.6" text-anchor="middle" letter-spacing="0.5">Oct</text>
<line x1="756.8" y1="908.9" x2="756.8" y2="910.7" stroke="#b8b8b8" stroke-width="1"/>
<line x1="756.8" y1="921.6" x2="756.8" y2="923.4" stroke="#b8b8b8" stroke-width="1"/>
<line x1="766.6" y1="908.9" x2="766.6" y2="910.7" stroke="#b8b8b8" stroke-width="1"/>
<line x1="766.6" y1="921.6" x2="766.6" y2="923.4" stroke="#b8b8b8" stroke-width="1"/>
<line x1="776.4" y1="908.9" x2="776.4" y2="911.9" stroke="#b8b8b8" stroke-width="1"/>
<line x1="776.4" y1="920.4" x2="776.4" y2="923.4" stroke="#b8b8b8" stroke-width="1"/>
<text x="775.1" y="920.2" font-family="Liberation Sans, sans-serif" font-size="10.6" font-weight="bold" text-anchor="middle">22</text>
<line x1="786.2" y1="908.9" x2="786.2" y2="910.7" stroke="#b8b8b8" stroke-width="1"/>
<line x1="786.2" y1="921.6" x2="786.2" y2="923.4" stroke="#b8b8b8" stroke-width="1"/>
<line x1="796.1" y1="908.9" x2="796.1" y2="910.7" stroke="#b8b8b8" stroke-width="1"/>
<line x1="796.1" y1="921.6" x2="796.1" y2="923.4" stroke="#b8b8b8" stroke-width="1"/>
<line x1="805.9" y1="908.9" x2="805.9" y2="911.9" stroke="#b8b8b8" stroke-width="1"/>
<line x1="805.9" y1="920.4" x2="805.9" y2="923.4" stroke="#b8b8b8" stroke-width="1"/>
<text x="806.2" y="920.0" font-family="Liberation Sans, sans-serif" font-size="9.6" text-anchor="middle" letter-spacing="0.5">Apr</text>
<line x1="815.7" y1="908.9" x2="815.7" y2="910.7" stroke="#b8b8b8" stroke-width="1"/>
<line x1="815.7" y1="921.6" x2="815.7" y2="923.4" stroke="#b8b8b8" stroke-width="1"/>
<line x1="825.5" y1="908.9" x2="825.5" y2="910.7" stroke="#b8b8b8" stroke-width="1"/>
<line x1="825.5" y1="921.6" x2="825.5" y2="923.4" stroke="#b8b8b8" stroke-width="1"/>
<line x1="835.3" y1="908.9" x2="835.3" y2="911.9" stroke="#b8b8b8" stroke-width="1"/>
<line x1="835.3" y1="920.4" x2="835.3" y2="923.4" stroke="#b8b8b8" stroke-width="1"/>
<text x="835.6" y="920.0" font-family="Liberation Sans, sans-serif" font-size="9.6" text-anchor="middle" letter-spacing="0.5">Jul</text>
<line x1="845.1" y1="908.9" x2="845.1" y2="910.7" stroke="#b8b8b8" stroke-width="1"/>
<line x1="845.1" y1="921.6" x2="845.1" y2="923.4" stroke="#b8b8b8" stroke-width="1"/>
<line x1="854.9" y1="908.9" x2="854.9" y2="910.7" stroke="#b8b8b8" stroke-width="1"/>
<line x1="854.9" y1="921.6" x2="854.9" y2="923.4" stroke="#b8b8b8" stroke-width="1"/>
<line x1="864.7" y1="908.9" x2="864.7" y2="911.9" stroke="#b8b8b8" stroke-width="1"/>
<line x1="864.7" y1="920.4" x2="864.7" y2="923.4" stroke="#b8b8b8" stroke-width="1"/>
<text x="865.0" y="920.0" font-family="Liberation Sans, sans-serif" font-size="9.6" text-anchor="middle" letter-spacing="0.5">Oct</text>
<line x1="874.5" y1="908.9" x2="874.5" y2="910.7" stroke="#b8b8b8" stroke-width="1"/>
<line x1="874.5" y1="921.6" x2="874.5" y2="923.4" stroke="#b8b8b8" stroke-width="1"/>
<line x1="884.3" y1="908.9" x2="884.3" y2="910.7" stroke="#b8b8b8" stroke-width="1"/>
<line x1="884.3" y1="921.6" x2="884.3" y2="923.4" stroke="#b8b8b8" stroke-width="1"/>
<line x1="894.1" y1="908.9" x2="894.1" y2="911.9" stroke="#b8b8b8" stroke-width="1"/>
<line x1="894.1" y1="920.4" x2="894.1" y2="923.4" stroke="#b8b8b8" stroke-width="1"/>
<text x="892.8" y="920.2" font-family="Liberation Sans, sans-serif" font-size="10.6" font-weight="bold" text-anchor="middle">23</text>
<line x1="903.9" y1="908.9" x2="903.9" y2="910.7" stroke="#b8b8b8" stroke-width="1"/>
<line x1="903.9" y1="921.6" x2="903.9" y2="923.4" stroke="#b8b8b8" stroke-width="1"/>
<line x1="913.8" y1="908.9" x2="913.8" y2="910.7" stroke="#b8b8b8" stroke-width="1"/>
<line x1="913.8" y1="921.6" x2="913.8" y2="923.4" stroke="#b8b8b8" stroke-width="1"/>
<line x1="923.6" y1="908.9" x2="923.6" y2="911.9" stroke="#b8b8b8" stroke-width="1"/>
<line x1="923.6" y1="920.4" x2="923.6" y2="923.4" stroke="#b8b8b8" stroke-width="1"/>
<text x="923.9" y="920.0" font-family="Liberation Sans, sans-serif" font-size="9.6" text-anchor="middle" letter-spacing="0.5">Apr</text>
<line x1="933.4" y1="908.9" x2="933.4" y2="910.7" stroke="#b8b8b8" stroke-width="1"/>
<line x1="933.4" y1="921.6" x2="933.4" y2="923.4" stroke="#b8b8b8" stroke-width="1"/>
<line x1="943.2" y1="908.9" x2="943.2" y2="910.7" stroke="#b8b8b8" stroke-width="1"/>
<line x1="943.2" y1="921.6" x2="943.2" y2="923.4" stroke="#b8b8b8" stroke-width="1"/>
<line x1="953.0" y1="908.9" x2="953.0" y2="911.9" stroke="#b8b8b8" stroke-width="1"/>
<line x1="953.0" y1="920.4" x2="953.0" y2="923.4" stroke="#b8b8b8" stroke-width="1"/>
<text x="953.3" y="920.0" font-family="Liberation Sans, sans-serif" font-size="9.6" text-anchor="middle" letter-spacing="0.5">Jul</text>
<line x1="962.8" y1="908.9" x2="962.8" y2="910.7" stroke="#b8b8b8" stroke-width="1"/>
<line x1="962.8" y1="921.6" x2="962.8" y2="923.4" stroke="#b8b8b8" stroke-width="1"/>
<line x1="972.6" y1="908.9" x2="972.6" y2="910.7" stroke="#b8b8b8" stroke-width="1"/>
<line x1="972.6" y1="921.6" x2="972.6" y2="923.4" stroke="#b8b8b8" stroke-width="1"/>
<line x1="982.4" y1="908.9" x2="982.4" y2="911.9" stroke="#b8b8b8" stroke-width="1"/>
<line x1="982.4" y1="920.4" x2="982.4" y2="923.4" stroke="#b8b8b8" stroke-width="1"/>
<text x="982.7" y="920.0" font-family="Liberation Sans, sans-serif" font-size="9.6" text-anchor="middle" letter-spacing="0.5">Oct</text>
<line x1="992.2" y1="908.9" x2="992.2" y2="910.7" stroke="#b8b8b8" stroke-width="1"/>
<line x1="992.2" y1="921.6" x2="992.2" y2="923.4" stroke="#b8b8b8" stroke-width="1"/>
<line x1="1002.0" y1="908.9" x2="1002.0" y2="910.7" stroke="#b8b8b8" stroke-width="1"/>
<line x1="1002.0" y1="921.6" x2="1002.0" y2="923.4" stroke="#b8b8b8" stroke-width="1"/>
<line x1="1011.8" y1="908.9" x2="1011.8" y2="911.9" stroke="#b8b8b8" stroke-width="1"/>
<line x1="1011.8" y1="920.4" x2="1011.8" y2="923.4" stroke="#b8b8b8" stroke-width="1"/>
<text x="1010.5" y="920.2" font-family="Liberation Sans, sans-serif" font-size="10.6" font-weight="bold" text-anchor="middle">24</text>
<line x1="1021.7" y1="908.9" x2="1021.7" y2="910.7" stroke="#b8b8b8" stroke-width="1"/>
<line x1="1021.7" y1="921.6" x2="1021.7" y2="923.4" stroke="#b8b8b8" stroke-width="1"/>
<line x1="1031.5" y1="908.9" x2="1031.5" y2="910.7" stroke="#b8b8b8" stroke-width="1"/>
<line x1="1031.5" y1="921.6" x2="1031.5" y2="923.4" stroke="#b8b8b8" stroke-width="1"/>
<line x1="1041.3" y1="908.9" x2="1041.3" y2="911.9" stroke="#b8b8b8" stroke-width="1"/>
<line x1="1041.3" y1="920.4" x2="1041.3" y2="923.4" stroke="#b8b8b8" stroke-width="1"/>
<text x="1041.6" y="920.0" font-family="Liberation Sans, sans-serif" font-size="9.6" text-anchor="middle" letter-spacing="0.5">Apr</text>
<line x1="1051.1" y1="908.9" x2="1051.1" y2="910.7" stroke="#b8b8b8" stroke-width="1"/>
<line x1="1051.1" y1="921.6" x2="1051.1" y2="923.4" stroke="#b8b8b8" stroke-width="1"/>
<line x1="1060.9" y1="908.9" x2="1060.9" y2="910.7" stroke="#b8b8b8" stroke-width="1"/>
<line x1="1060.9" y1="921.6" x2="1060.9" y2="923.4" stroke="#b8b8b8" stroke-width="1"/>
<line x1="1070.7" y1="908.9" x2="1070.7" y2="911.9" stroke="#b8b8b8" stroke-width="1"/>
<line x1="1070.7" y1="920.4" x2="1070.7" y2="923.4" stroke="#b8b8b8" stroke-width="1"/>
<text x="1071.0" y="920.0" font-family="Liberation Sans, sans-serif" font-size="9.6" text-anchor="middle" letter-spacing="0.5">Jul</text>
<line x1="1080.5" y1="908.9" x2="1080.5" y2="910.7" stroke="#b8b8b8" stroke-width="1"/>
<line x1="1080.5" y1="921.6" x2="1080.5" y2="923.4" stroke="#b8b8b8" stroke-width="1"/>
<line x1="1090.3" y1="908.9" x2="1090.3" y2="910.7" stroke="#b8b8b8" stroke-width="1"/>
<line x1="1090.3" y1="921.6" x2="1090.3" y2="923.4" stroke="#b8b8b8" stroke-width="1"/>
<line x1="1100.1" y1="908.9" x2="1100.1" y2="911.9" stroke="#b8b8b8" stroke-width="1"/>
<line x1="1100.1" y1="920.4" x2="1100.1" y2="923.4" stroke="#b8b8b8" stroke-width="1"/>
<text x="1100.4" y="920.0" font-family="Liberation Sans, sans-serif" font-size="9.6" text-anchor="middle" letter-spacing="0.5">Oct</text>
<line x1="1109.9" y1="908.9" x2="1109.9" y2="910.7" stroke="#b8b8b8" stroke-width="1"/>
<line x1="1109.9" y1="921.6" x2="1109.9" y2="923.4" stroke="#b8b8b8" stroke-width="1"/>
<line x1="1119.7" y1="908.9" x2="1119.7" y2="910.7" stroke="#b8b8b8" stroke-width="1"/>
<line x1="1119.7" y1="921.6" x2="1119.7" y2="923.4" stroke="#b8b8b8" stroke-width="1"/>
<line x1="1129.6" y1="908.9" x2="1129.6" y2="911.9" stroke="#b8b8b8" stroke-width="1"/>
<line x1="1129.6" y1="920.4" x2="1129.6" y2="923.4" stroke="#b8b8b8" stroke-width="1"/>
<text x="1128.3" y="920.2" font-family="Liberation Sans, sans-serif" font-size="10.6" font-weight="bold" text-anchor="middle">25</text>
<line x1="1139.4" y1="908.9" x2="1139.4" y2="910.7" stroke="#b8b8b8" stroke-width="1"/>
<line x1="1139.4" y1="921.6" x2="1139.4" y2="923.4" stroke="#b8b8b8" stroke-width="1"/>
<line x1="1149.2" y1="908.9" x2="1149.2" y2="910.7" stroke="#b8b8b8" stroke-width="1"/>
<line x1="1149.2" y1="921.6" x2="1149.2" y2="923.4" stroke="#b8b8b8" stroke-width="1"/>
<line x1="1159.0" y1="908.9" x2="1159.0" y2="911.9" stroke="#b8b8b8" stroke-width="1"/>
<line x1="1159.0" y1="920.4" x2="1159.0" y2="923.4" stroke="#b8b8b8" stroke-width="1"/>
<text x="1159.3" y="920.0" font-family="Liberation Sans, sans-serif" font-size="9.6" text-anchor="middle" letter-spacing="0.5">Apr</text>
<line x1="1168.8" y1="908.9" x2="1168.8" y2="910.7" stroke="#b8b8b8" stroke-width="1"/>
<line x1="1168.8" y1="921.6" x2="1168.8" y2="923.4" stroke="#b8b8b8" stroke-width="1"/>
<line x1="1178.6" y1="908.9" x2="1178.6" y2="910.7" stroke="#b8b8b8" stroke-width="1"/>
<line x1="1178.6" y1="921.6" x2="1178.6" y2="923.4" stroke="#b8b8b8" stroke-width="1"/>
<line x1="1188.4" y1="908.9" x2="1188.4" y2="911.9" stroke="#b8b8b8" stroke-width="1"/>
<line x1="1188.4" y1="920.4" x2="1188.4" y2="923.4" stroke="#b8b8b8" stroke-width="1"/>
<text x="1188.7" y="920.0" font-family="Liberation Sans, sans-serif" font-size="9.6" text-anchor="middle" letter-spacing="0.5">Jul</text>
<line x1="1198.2" y1="908.9" x2="1198.2" y2="910.7" stroke="#b8b8b8" stroke-width="1"/>
<line x1="1198.2" y1="921.6" x2="1198.2" y2="923.4" stroke="#b8b8b8" stroke-width="1"/>
<line x1="1208.0" y1="908.9" x2="1208.0" y2="910.7" stroke="#b8b8b8" stroke-width="1"/>
<line x1="1208.0" y1="921.6" x2="1208.0" y2="923.4" stroke="#b8b8b8" stroke-width="1"/>
<line x1="1217.8" y1="908.9" x2="1217.8" y2="911.9" stroke="#b8b8b8" stroke-width="1"/>
<line x1="1217.8" y1="920.4" x2="1217.8" y2="923.4" stroke="#b8b8b8" stroke-width="1"/>
<text x="1218.1" y="920.0" font-family="Liberation Sans, sans-serif" font-size="9.6" text-anchor="middle" letter-spacing="0.5">Oct</text>
<line x1="1227.6" y1="908.9" x2="1227.6" y2="910.7" stroke="#b8b8b8" stroke-width="1"/>
<line x1="1227.6" y1="921.6" x2="1227.6" y2="923.4" stroke="#b8b8b8" stroke-width="1"/>
<line x1="1237.5" y1="908.9" x2="1237.5" y2="910.7" stroke="#b8b8b8" stroke-width="1"/>
<line x1="1237.5" y1="921.6" x2="1237.5" y2="923.4" stroke="#b8b8b8" stroke-width="1"/>
<line x1="1247.3" y1="908.9" x2="1247.3" y2="911.9" stroke="#b8b8b8" stroke-width="1"/>
<line x1="1247.3" y1="920.4" x2="1247.3" y2="923.4" stroke="#b8b8b8" stroke-width="1"/>
<text x="1246.0" y="920.2" font-family="Liberation Sans, sans-serif" font-size="10.6" font-weight="bold" text-anchor="middle">26</text>
<line x1="1257.1" y1="908.9" x2="1257.1" y2="910.7" stroke="#b8b8b8" stroke-width="1"/>
<line x1="1257.1" y1="921.6" x2="1257.1" y2="923.4" stroke="#b8b8b8" stroke-width="1"/>
<line x1="1266.9" y1="908.9" x2="1266.9" y2="910.7" stroke="#b8b8b8" stroke-width="1"/>
<line x1="1266.9" y1="921.6" x2="1266.9" y2="923.4" stroke="#b8b8b8" stroke-width="1"/>
<line x1="1276.7" y1="908.9" x2="1276.7" y2="911.9" stroke="#b8b8b8" stroke-width="1"/>
<line x1="1276.7" y1="920.4" x2="1276.7" y2="923.4" stroke="#b8b8b8" stroke-width="1"/>
<text x="1277.0" y="920.0" font-family="Liberation Sans, sans-serif" font-size="9.6" text-anchor="middle" letter-spacing="0.5">Apr</text>
<line x1="1286.5" y1="908.9" x2="1286.5" y2="910.7" stroke="#b8b8b8" stroke-width="1"/>
<line x1="1286.5" y1="921.6" x2="1286.5" y2="923.4" stroke="#b8b8b8" stroke-width="1"/>
<line x1="1296.3" y1="908.9" x2="1296.3" y2="910.7" stroke="#b8b8b8" stroke-width="1"/>
<line x1="1296.3" y1="921.6" x2="1296.3" y2="923.4" stroke="#b8b8b8" stroke-width="1"/>
<line x1="1306.1" y1="908.9" x2="1306.1" y2="911.9" stroke="#b8b8b8" stroke-width="1"/>
<line x1="1306.1" y1="920.4" x2="1306.1" y2="923.4" stroke="#b8b8b8" stroke-width="1"/>
<text x="1306.4" y="920.0" font-family="Liberation Sans, sans-serif" font-size="9.6" text-anchor="middle" letter-spacing="0.5">Jul</text>
<line x1="1315.9" y1="908.9" x2="1315.9" y2="910.7" stroke="#b8b8b8" stroke-width="1"/>
<line x1="1315.9" y1="921.6" x2="1315.9" y2="923.4" stroke="#b8b8b8" stroke-width="1"/>
<line x1="1325.7" y1="908.9" x2="1325.7" y2="910.7" stroke="#b8b8b8" stroke-width="1"/>
<line x1="1325.7" y1="921.6" x2="1325.7" y2="923.4" stroke="#b8b8b8" stroke-width="1"/>
<line x1="1335.5" y1="908.9" x2="1335.5" y2="911.9" stroke="#b8b8b8" stroke-width="1"/>
<line x1="1335.5" y1="920.4" x2="1335.5" y2="923.4" stroke="#b8b8b8" stroke-width="1"/>
<text x="1335.8" y="920.0" font-family="Liberation Sans, sans-serif" font-size="9.6" text-anchor="middle" letter-spacing="0.5">Oct</text>
<line x1="1345.4" y1="908.9" x2="1345.4" y2="910.7" stroke="#b8b8b8" stroke-width="1"/>
<line x1="1345.4" y1="921.6" x2="1345.4" y2="923.4" stroke="#b8b8b8" stroke-width="1"/>
<line x1="1355.2" y1="908.9" x2="1355.2" y2="910.7" stroke="#b8b8b8" stroke-width="1"/>
<line x1="1355.2" y1="921.6" x2="1355.2" y2="923.4" stroke="#b8b8b8" stroke-width="1"/>
<line x1="1365.0" y1="908.9" x2="1365.0" y2="911.9" stroke="#b8b8b8" stroke-width="1"/>
<line x1="1365.0" y1="920.4" x2="1365.0" y2="923.4" stroke="#b8b8b8" stroke-width="1"/>
<text x="1363.7" y="920.2" font-family="Liberation Sans, sans-serif" font-size="10.6" font-weight="bold" text-anchor="middle">27</text>
<line x1="1374.8" y1="908.9" x2="1374.8" y2="910.7" stroke="#b8b8b8" stroke-width="1"/>
<line x1="1374.8" y1="921.6" x2="1374.8" y2="923.4" stroke="#b8b8b8" stroke-width="1"/>
<line x1="1384.6" y1="908.9" x2="1384.6" y2="910.7" stroke="#b8b8b8" stroke-width="1"/>
<line x1="1384.6" y1="921.6" x2="1384.6" y2="923.4" stroke="#b8b8b8" stroke-width="1"/>
<line x1="1394.4" y1="908.9" x2="1394.4" y2="911.9" stroke="#b8b8b8" stroke-width="1"/>
<line x1="1394.4" y1="920.4" x2="1394.4" y2="923.4" stroke="#b8b8b8" stroke-width="1"/>
<text x="1394.7" y="920.0" font-family="Liberation Sans, sans-serif" font-size="9.6" text-anchor="middle" letter-spacing="0.5">Apr</text>
<line x1="1404.2" y1="908.9" x2="1404.2" y2="910.7" stroke="#b8b8b8" stroke-width="1"/>
<line x1="1404.2" y1="921.6" x2="1404.2" y2="923.4" stroke="#b8b8b8" stroke-width="1"/>
<line x1="1414.0" y1="908.9" x2="1414.0" y2="910.7" stroke="#b8b8b8" stroke-width="1"/>
<line x1="1414.0" y1="921.6" x2="1414.0" y2="923.4" stroke="#b8b8b8" stroke-width="1"/>
<line x1="1423.8" y1="908.9" x2="1423.8" y2="911.9" stroke="#b8b8b8" stroke-width="1"/>
<line x1="1423.8" y1="920.4" x2="1423.8" y2="923.4" stroke="#b8b8b8" stroke-width="1"/>
<text x="1424.1" y="920.0" font-family="Liberation Sans, sans-serif" font-size="9.6" text-anchor="middle" letter-spacing="0.5">Jul</text>
<line x1="1433.6" y1="908.9" x2="1433.6" y2="910.7" stroke="#b8b8b8" stroke-width="1"/>
<line x1="1433.6" y1="921.6" x2="1433.6" y2="923.4" stroke="#b8b8b8" stroke-width="1"/>
<line x1="1443.4" y1="908.9" x2="1443.4" y2="910.7" stroke="#b8b8b8" stroke-width="1"/>
<line x1="1443.4" y1="921.6" x2="1443.4" y2="923.4" stroke="#b8b8b8" stroke-width="1"/>
<line x1="1453.3" y1="908.9" x2="1453.3" y2="911.9" stroke="#b8b8b8" stroke-width="1"/>
<line x1="1453.3" y1="920.4" x2="1453.3" y2="923.4" stroke="#b8b8b8" stroke-width="1"/>
<text x="1453.6" y="920.0" font-family="Liberation Sans, sans-serif" font-size="9.6" text-anchor="middle" letter-spacing="0.5">Oct</text>
<line x1="1463.1" y1="908.9" x2="1463.1" y2="910.7" stroke="#b8b8b8" stroke-width="1"/>
<line x1="1463.1" y1="921.6" x2="1463.1" y2="923.4" stroke="#b8b8b8" stroke-width="1"/>
<line x1="1472.9" y1="908.9" x2="1472.9" y2="910.7" stroke="#b8b8b8" stroke-width="1"/>
<line x1="1472.9" y1="921.6" x2="1472.9" y2="923.4" stroke="#b8b8b8" stroke-width="1"/>
<line x1="1482.7" y1="908.9" x2="1482.7" y2="911.9" stroke="#b8b8b8" stroke-width="1"/>
<line x1="1482.7" y1="920.4" x2="1482.7" y2="923.4" stroke="#b8b8b8" stroke-width="1"/>
<text x="1481.4" y="920.2" font-family="Liberation Sans, sans-serif" font-size="10.6" font-weight="bold" text-anchor="middle">28</text>
<line x1="21.1" y1="1379.3" x2="21.1" y2="1381.1" stroke="#b8b8b8" stroke-width="1"/>
<line x1="30.9" y1="1379.3" x2="30.9" y2="1381.1" stroke="#b8b8b8" stroke-width="1"/>
<line x1="40.8" y1="1379.3" x2="40.8" y2="1382.3" stroke="#b8b8b8" stroke-width="1"/>
<text x="41.1" y="1390.2" font-family="Liberation Sans, sans-serif" font-size="9.6" text-anchor="middle" letter-spacing="0.5">Oct</text>
<line x1="50.6" y1="1379.3" x2="50.6" y2="1381.1" stroke="#b8b8b8" stroke-width="1"/>
<line x1="60.4" y1="1379.3" x2="60.4" y2="1381.1" stroke="#b8b8b8" stroke-width="1"/>
<line x1="70.2" y1="1379.3" x2="70.2" y2="1382.3" stroke="#b8b8b8" stroke-width="1"/>
<text x="68.9" y="1390.4" font-family="Liberation Sans, sans-serif" font-size="10.6" font-weight="bold" text-anchor="middle">16</text>
<line x1="80.0" y1="1379.3" x2="80.0" y2="1381.1" stroke="#b8b8b8" stroke-width="1"/>
<line x1="89.8" y1="1379.3" x2="89.8" y2="1381.1" stroke="#b8b8b8" stroke-width="1"/>
<line x1="99.6" y1="1379.3" x2="99.6" y2="1382.3" stroke="#b8b8b8" stroke-width="1"/>
<text x="99.9" y="1390.2" font-family="Liberation Sans, sans-serif" font-size="9.6" text-anchor="middle" letter-spacing="0.5">Apr</text>
<line x1="109.4" y1="1379.3" x2="109.4" y2="1381.1" stroke="#b8b8b8" stroke-width="1"/>
<line x1="119.2" y1="1379.3" x2="119.2" y2="1381.1" stroke="#b8b8b8" stroke-width="1"/>
<line x1="129.0" y1="1379.3" x2="129.0" y2="1382.3" stroke="#b8b8b8" stroke-width="1"/>
<text x="129.3" y="1390.2" font-family="Liberation Sans, sans-serif" font-size="9.6" text-anchor="middle" letter-spacing="0.5">Jul</text>
<line x1="138.8" y1="1379.3" x2="138.8" y2="1381.1" stroke="#b8b8b8" stroke-width="1"/>
<line x1="148.7" y1="1379.3" x2="148.7" y2="1381.1" stroke="#b8b8b8" stroke-width="1"/>
<line x1="158.5" y1="1379.3" x2="158.5" y2="1382.3" stroke="#b8b8b8" stroke-width="1"/>
<text x="158.8" y="1390.2" font-family="Liberation Sans, sans-serif" font-size="9.6" text-anchor="middle" letter-spacing="0.5">Oct</text>
<line x1="168.3" y1="1379.3" x2="168.3" y2="1381.1" stroke="#b8b8b8" stroke-width="1"/>
<line x1="178.1" y1="1379.3" x2="178.1" y2="1381.1" stroke="#b8b8b8" stroke-width="1"/>
<line x1="187.9" y1="1379.3" x2="187.9" y2="1382.3" stroke="#b8b8b8" stroke-width="1"/>
<text x="186.6" y="1390.4" font-family="Liberation Sans, sans-serif" font-size="10.6" font-weight="bold" text-anchor="middle">17</text>
<line x1="197.7" y1="1379.3" x2="197.7" y2="1381.1" stroke="#b8b8b8" stroke-width="1"/>
<line x1="207.5" y1="1379.3" x2="207.5" y2="1381.1" stroke="#b8b8b8" stroke-width="1"/>
<line x1="217.3" y1="1379.3" x2="217.3" y2="1382.3" stroke="#b8b8b8" stroke-width="1"/>
<text x="217.6" y="1390.2" font-family="Liberation Sans, sans-serif" font-size="9.6" text-anchor="middle" letter-spacing="0.5">Apr</text>
<line x1="227.1" y1="1379.3" x2="227.1" y2="1381.1" stroke="#b8b8b8" stroke-width="1"/>
<line x1="236.9" y1="1379.3" x2="236.9" y2="1381.1" stroke="#b8b8b8" stroke-width="1"/>
<line x1="246.7" y1="1379.3" x2="246.7" y2="1382.3" stroke="#b8b8b8" stroke-width="1"/>
<text x="247.0" y="1390.2" font-family="Liberation Sans, sans-serif" font-size="9.6" text-anchor="middle" letter-spacing="0.5">Jul</text>
<line x1="256.6" y1="1379.3" x2="256.6" y2="1381.1" stroke="#b8b8b8" stroke-width="1"/>
<line x1="266.4" y1="1379.3" x2="266.4" y2="1381.1" stroke="#b8b8b8" stroke-width="1"/>
<line x1="276.2" y1="1379.3" x2="276.2" y2="1382.3" stroke="#b8b8b8" stroke-width="1"/>
<text x="276.5" y="1390.2" font-family="Liberation Sans, sans-serif" font-size="9.6" text-anchor="middle" letter-spacing="0.5">Oct</text>
<line x1="286.0" y1="1379.3" x2="286.0" y2="1381.1" stroke="#b8b8b8" stroke-width="1"/>
<line x1="295.8" y1="1379.3" x2="295.8" y2="1381.1" stroke="#b8b8b8" stroke-width="1"/>
<line x1="305.6" y1="1379.3" x2="305.6" y2="1382.3" stroke="#b8b8b8" stroke-width="1"/>
<text x="304.3" y="1390.4" font-family="Liberation Sans, sans-serif" font-size="10.6" font-weight="bold" text-anchor="middle">18</text>
<line x1="315.4" y1="1379.3" x2="315.4" y2="1381.1" stroke="#b8b8b8" stroke-width="1"/>
<line x1="325.2" y1="1379.3" x2="325.2" y2="1381.1" stroke="#b8b8b8" stroke-width="1"/>
<line x1="335.0" y1="1379.3" x2="335.0" y2="1382.3" stroke="#b8b8b8" stroke-width="1"/>
<text x="335.3" y="1390.2" font-family="Liberation Sans, sans-serif" font-size="9.6" text-anchor="middle" letter-spacing="0.5">Apr</text>
<line x1="344.8" y1="1379.3" x2="344.8" y2="1381.1" stroke="#b8b8b8" stroke-width="1"/>
<line x1="354.6" y1="1379.3" x2="354.6" y2="1381.1" stroke="#b8b8b8" stroke-width="1"/>
<line x1="364.5" y1="1379.3" x2="364.5" y2="1382.3" stroke="#b8b8b8" stroke-width="1"/>
<text x="364.8" y="1390.2" font-family="Liberation Sans, sans-serif" font-size="9.6" text-anchor="middle" letter-spacing="0.5">Jul</text>
<line x1="374.3" y1="1379.3" x2="374.3" y2="1381.1" stroke="#b8b8b8" stroke-width="1"/>
<line x1="384.1" y1="1379.3" x2="384.1" y2="1381.1" stroke="#b8b8b8" stroke-width="1"/>
<line x1="393.9" y1="1379.3" x2="393.9" y2="1382.3" stroke="#b8b8b8" stroke-width="1"/>
<text x="394.2" y="1390.2" font-family="Liberation Sans, sans-serif" font-size="9.6" text-anchor="middle" letter-spacing="0.5">Oct</text>
<line x1="403.7" y1="1379.3" x2="403.7" y2="1381.1" stroke="#b8b8b8" stroke-width="1"/>
<line x1="413.5" y1="1379.3" x2="413.5" y2="1381.1" stroke="#b8b8b8" stroke-width="1"/>
<line x1="423.3" y1="1379.3" x2="423.3" y2="1382.3" stroke="#b8b8b8" stroke-width="1"/>
<text x="422.0" y="1390.4" font-family="Liberation Sans, sans-serif" font-size="10.6" font-weight="bold" text-anchor="middle">19</text>
<line x1="433.1" y1="1379.3" x2="433.1" y2="1381.1" stroke="#b8b8b8" stroke-width="1"/>
<line x1="442.9" y1="1379.3" x2="442.9" y2="1381.1" stroke="#b8b8b8" stroke-width="1"/>
<line x1="452.7" y1="1379.3" x2="452.7" y2="1382.3" stroke="#b8b8b8" stroke-width="1"/>
<text x="453.0" y="1390.2" font-family="Liberation Sans, sans-serif" font-size="9.6" text-anchor="middle" letter-spacing="0.5">Apr</text>
<line x1="462.5" y1="1379.3" x2="462.5" y2="1381.1" stroke="#b8b8b8" stroke-width="1"/>
<line x1="472.4" y1="1379.3" x2="472.4" y2="1381.1" stroke="#b8b8b8" stroke-width="1"/>
<line x1="482.2" y1="1379.3" x2="482.2" y2="1382.3" stroke="#b8b8b8" stroke-width="1"/>
<text x="482.5" y="1390.2" font-family="Liberation Sans, sans-serif" font-size="9.6" text-anchor="middle" letter-spacing="0.5">Jul</text>
<line x1="492.0" y1="1379.3" x2="492.0" y2="1381.1" stroke="#b8b8b8" stroke-width="1"/>
<line x1="501.8" y1="1379.3" x2="501.8" y2="1381.1" stroke="#b8b8b8" stroke-width="1"/>
<line x1="511.6" y1="1379.3" x2="511.6" y2="1382.3" stroke="#b8b8b8" stroke-width="1"/>
<text x="511.9" y="1390.2" font-family="Liberation Sans, sans-serif" font-size="9.6" text-anchor="middle" letter-spacing="0.5">Oct</text>
<line x1="521.4" y1="1379.3" x2="521.4" y2="1381.1" stroke="#b8b8b8" stroke-width="1"/>
<line x1="531.2" y1="1379.3" x2="531.2" y2="1381.1" stroke="#b8b8b8" stroke-width="1"/>
<line x1="541.0" y1="1379.3" x2="541.0" y2="1382.3" stroke="#b8b8b8" stroke-width="1"/>
<text x="539.7" y="1390.4" font-family="Liberation Sans, sans-serif" font-size="10.6" font-weight="bold" text-anchor="middle">20</text>
<line x1="550.8" y1="1379.3" x2="550.8" y2="1381.1" stroke="#b8b8b8" stroke-width="1"/>
<line x1="560.6" y1="1379.3" x2="560.6" y2="1381.1" stroke="#b8b8b8" stroke-width="1"/>
<line x1="570.4" y1="1379.3" x2="570.4" y2="1382.3" stroke="#b8b8b8" stroke-width="1"/>
<text x="570.7" y="1390.2" font-family="Liberation Sans, sans-serif" font-size="9.6" text-anchor="middle" letter-spacing="0.5">Apr</text>
<line x1="580.3" y1="1379.3" x2="580.3" y2="1381.1" stroke="#b8b8b8" stroke-width="1"/>
<line x1="590.1" y1="1379.3" x2="590.1" y2="1381.1" stroke="#b8b8b8" stroke-width="1"/>
<line x1="599.9" y1="1379.3" x2="599.9" y2="1382.3" stroke="#b8b8b8" stroke-width="1"/>
<text x="600.2" y="1390.2" font-family="Liberation Sans, sans-serif" font-size="9.6" text-anchor="middle" letter-spacing="0.5">Jul</text>
<line x1="609.7" y1="1379.3" x2="609.7" y2="1381.1" stroke="#b8b8b8" stroke-width="1"/>
<line x1="619.5" y1="1379.3" x2="619.5" y2="1381.1" stroke="#b8b8b8" stroke-width="1"/>
<line x1="629.3" y1="1379.3" x2="629.3" y2="1382.3" stroke="#b8b8b8" stroke-width="1"/>
<text x="629.6" y="1390.2" font-family="Liberation Sans, sans-serif" font-size="9.6" text-anchor="middle" letter-spacing="0.5">Oct</text>
<line x1="639.1" y1="1379.3" x2="639.1" y2="1381.1" stroke="#b8b8b8" stroke-width="1"/>
<line x1="648.9" y1="1379.3" x2="648.9" y2="1381.1" stroke="#b8b8b8" stroke-width="1"/>
<line x1="658.7" y1="1379.3" x2="658.7" y2="1382.3" stroke="#b8b8b8" stroke-width="1"/>
<text x="657.4" y="1390.4" font-family="Liberation Sans, sans-serif" font-size="10.6" font-weight="bold" text-anchor="middle">21</text>
<line x1="668.5" y1="1379.3" x2="668.5" y2="1381.1" stroke="#b8b8b8" stroke-width="1"/>
<line x1="678.3" y1="1379.3" x2="678.3" y2="1381.1" stroke="#b8b8b8" stroke-width="1"/>
<line x1="688.2" y1="1379.3" x2="688.2" y2="1382.3" stroke="#b8b8b8" stroke-width="1"/>
<text x="688.5" y="1390.2" font-family="Liberation Sans, sans-serif" font-size="9.6" text-anchor="middle" letter-spacing="0.5">Apr</text>
<line x1="698.0" y1="1379.3" x2="698.0" y2="1381.1" stroke="#b8b8b8" stroke-width="1"/>
<line x1="707.8" y1="1379.3" x2="707.8" y2="1381.1" stroke="#b8b8b8" stroke-width="1"/>
<line x1="717.6" y1="1379.3" x2="717.6" y2="1382.3" stroke="#b8b8b8" stroke-width="1"/>
<text x="717.9" y="1390.2" font-family="Liberation Sans, sans-serif" font-size="9.6" text-anchor="middle" letter-spacing="0.5">Jul</text>
<line x1="727.4" y1="1379.3" x2="727.4" y2="1381.1" stroke="#b8b8b8" stroke-width="1"/>
<line x1="737.2" y1="1379.3" x2="737.2" y2="1381.1" stroke="#b8b8b8" stroke-width="1"/>
<line x1="747.0" y1="1379.3" x2="747.0" y2="1382.3" stroke="#b8b8b8" stroke-width="1"/>
<text x="747.3" y="1390.2" font-family="Liberation Sans, sans-serif" font-size="9.6" text-anchor="middle" letter-spacing="0.5">Oct</text>
<line x1="756.8" y1="1379.3" x2="756.8" y2="1381.1" stroke="#b8b8b8" stroke-width="1"/>
<line x1="766.6" y1="1379.3" x2="766.6" y2="1381.1" stroke="#b8b8b8" stroke-width="1"/>
<line x1="776.4" y1="1379.3" x2="776.4" y2="1382.3" stroke="#b8b8b8" stroke-width="1"/>
<text x="775.1" y="1390.4" font-family="Liberation Sans, sans-serif" font-size="10.6" font-weight="bold" text-anchor="middle">22</text>
<line x1="786.2" y1="1379.3" x2="786.2" y2="1381.1" stroke="#b8b8b8" stroke-width="1"/>
<line x1="796.1" y1="1379.3" x2="796.1" y2="1381.1" stroke="#b8b8b8" stroke-width="1"/>
<line x1="805.9" y1="1379.3" x2="805.9" y2="1382.3" stroke="#b8b8b8" stroke-width="1"/>
<text x="806.2" y="1390.2" font-family="Liberation Sans, sans-serif" font-size="9.6" text-anchor="middle" letter-spacing="0.5">Apr</text>
<line x1="815.7" y1="1379.3" x2="815.7" y2="1381.1" stroke="#b8b8b8" stroke-width="1"/>
<line x1="825.5" y1="1379.3" x2="825.5" y2="1381.1" stroke="#b8b8b8" stroke-width="1"/>
<line x1="835.3" y1="1379.3" x2="835.3" y2="1382.3" stroke="#b8b8b8" stroke-width="1"/>
<text x="835.6" y="1390.2" font-family="Liberation Sans, sans-serif" font-size="9.6" text-anchor="middle" letter-spacing="0.5">Jul</text>
<line x1="845.1" y1="1379.3" x2="845.1" y2="1381.1" stroke="#b8b8b8" stroke-width="1"/>
<line x1="854.9" y1="1379.3" x2="854.9" y2="1381.1" stroke="#b8b8b8" stroke-width="1"/>
<line x1="864.7" y1="1379.3" x2="864.7" y2="1382.3" stroke="#b8b8b8" stroke-width="1"/>
<text x="865.0" y="1390.2" font-family="Liberation Sans, sans-serif" font-size="9.6" text-anchor="middle" letter-spacing="0.5">Oct</text>
<line x1="874.5" y1="1379.3" x2="874.5" y2="1381.1" stroke="#b8b8b8" stroke-width="1"/>
<line x1="884.3" y1="1379.3" x2="884.3" y2="1381.1" stroke="#b8b8b8" stroke-width="1"/>
<line x1="894.1" y1="1379.3" x2="894.1" y2="1382.3" stroke="#b8b8b8" stroke-width="1"/>
<text x="892.8" y="1390.4" font-family="Liberation Sans, sans-serif" font-size="10.6" font-weight="bold" text-anchor="middle">23</text>
<line x1="903.9" y1="1379.3" x2="903.9" y2="1381.1" stroke="#b8b8b8" stroke-width="1"/>
<line x1="913.8" y1="1379.3" x2="913.8" y2="1381.1" stroke="#b8b8b8" stroke-width="1"/>
<line x1="923.6" y1="1379.3" x2="923.6" y2="1382.3" stroke="#b8b8b8" stroke-width="1"/>
<text x="923.9" y="1390.2" font-family="Liberation Sans, sans-serif" font-size="9.6" text-anchor="middle" letter-spacing="0.5">Apr</text>
<line x1="933.4" y1="1379.3" x2="933.4" y2="1381.1" stroke="#b8b8b8" stroke-width="1"/>
<line x1="943.2" y1="1379.3" x2="943.2" y2="1381.1" stroke="#b8b8b8" stroke-width="1"/>
<line x1="953.0" y1="1379.3" x2="953.0" y2="1382.3" stroke="#b8b8b8" stroke-width="1"/>
<text x="953.3" y="1390.2" font-family="Liberation Sans, sans-serif" font-size="9.6" text-anchor="middle" letter-spacing="0.5">Jul</text>
<line x1="962.8" y1="1379.3" x2="962.8" y2="1381.1" stroke="#b8b8b8" stroke-width="1"/>
<line x1="972.6" y1="1379.3" x2="972.6" y2="1381.1" stroke="#b8b8b8" stroke-width="1"/>
<line x1="982.4" y1="1379.3" x2="982.4" y2="1382.3" stroke="#b8b8b8" stroke-width="1"/>
<text x="982.7" y="1390.2" font-family="Liberation Sans, sans-serif" font-size="9.6" text-anchor="middle" letter-spacing="0.5">Oct</text>
<line x1="992.2" y1="1379.3" x2="992.2" y2="1381.1" stroke="#b8b8b8" stroke-width="1"/>
<line x1="1002.0" y1="1379.3" x2="1002.0" y2="1381.1" stroke="#b8b8b8" stroke-width="1"/>
<line x1="1011.8" y1="1379.3" x2="1011.8" y2="1382.3" stroke="#b8b8b8" stroke-width="1"/>
<text x="1010.5" y="1390.4" font-family="Liberation Sans, sans-serif" font-size="10.6" font-weight="bold" text-anchor="middle">24</text>
<line x1="1021.7" y1="1379.3" x2="1021.7" y2="1381.1" stroke="#b8b8b8" stroke-width="1"/>
<line x1="1031.5" y1="1379.3" x2="1031.5" y2="1381.1" stroke="#b8b8b8" stroke-width="1"/>
<line x1="1041.3" y1="1379.3" x2="1041.3" y2="1382.3" stroke="#b8b8b8" stroke-width="1"/>
<text x="1041.6" y="1390.2" font-family="Liberation Sans, sans-serif" font-size="9.6" text-anchor="middle" letter-spacing="0.5">Apr</text>
<line x1="1051.1" y1="1379.3" x2="1051.1" y2="1381.1" stroke="#b8b8b8" stroke-width="1"/>
<line x1="1060.9" y1="1379.3" x2="1060.9" y2="1381.1" stroke="#b8b8b8" stroke-width="1"/>
<line x1="1070.7" y1="1379.3" x2="1070.7" y2="1382.3" stroke="#b8b8b8" stroke-width="1"/>
<text x="1071.0" y="1390.2" font-family="Liberation Sans, sans-serif" font-size="9.6" text-anchor="middle" letter-spacing="0.5">Jul</text>
<line x1="1080.5" y1="1379.3" x2="1080.5" y2="1381.1" stroke="#b8b8b8" stroke-width="1"/>
<line x1="1090.3" y1="1379.3" x2="1090.3" y2="1381.1" stroke="#b8b8b8" stroke-width="1"/>
<line x1="1100.1" y1="1379.3" x2="1100.1" y2="1382.3" stroke="#b8b8b8" stroke-width="1"/>
<text x="1100.4" y="1390.2" font-family="Liberation Sans, sans-serif" font-size="9.6" text-anchor="middle" letter-spacing="0.5">Oct</text>
<line x1="1109.9" y1="1379.3" x2="1109.9" y2="1381.1" stroke="#b8b8b8" stroke-width="1"/>
<line x1="1119.7" y1="1379.3" x2="1119.7" y2="1381.1" stroke="#b8b8b8" stroke-width="1"/>
<line x1="1129.6" y1="1379.3" x2="1129.6" y2="1382.3" stroke="#b8b8b8" stroke-width="1"/>
<text x="1128.3" y="1390.4" font-family="Liberation Sans, sans-serif" font-size="10.6" font-weight="bold" text-anchor="middle">25</text>
<line x1="1139.4" y1="1379.3" x2="1139.4" y2="1381.1" stroke="#b8b8b8" stroke-width="1"/>
<line x1="1149.2" y1="1379.3" x2="1149.2" y2="1381.1" stroke="#b8b8b8" stroke-width="1"/>
<line x1="1159.0" y1="1379.3" x2="1159.0" y2="1382.3" stroke="#b8b8b8" stroke-width="1"/>
<text x="1159.3" y="1390.2" font-family="Liberation Sans, sans-serif" font-size="9.6" text-anchor="middle" letter-spacing="0.5">Apr</text>
<line x1="1168.8" y1="1379.3" x2="1168.8" y2="1381.1" stroke="#b8b8b8" stroke-width="1"/>
<line x1="1178.6" y1="1379.3" x2="1178.6" y2="1381.1" stroke="#b8b8b8" stroke-width="1"/>
<line x1="1188.4" y1="1379.3" x2="1188.4" y2="1382.3" stroke="#b8b8b8" stroke-width="1"/>
<text x="1188.7" y="1390.2" font-family="Liberation Sans, sans-serif" font-size="9.6" text-anchor="middle" letter-spacing="0.5">Jul</text>
<line x1="1198.2" y1="1379.3" x2="1198.2" y2="1381.1" stroke="#b8b8b8" stroke-width="1"/>
<line x1="1208.0" y1="1379.3" x2="1208.0" y2="1381.1" stroke="#b8b8b8" stroke-width="1"/>
<line x1="1217.8" y1="1379.3" x2="1217.8" y2="1382.3" stroke="#b8b8b8" stroke-width="1"/>
<text x="1218.1" y="1390.2" font-family="Liberation Sans, sans-serif" font-size="9.6" text-anchor="middle" letter-spacing="0.5">Oct</text>
<line x1="1227.6" y1="1379.3" x2="1227.6" y2="1381.1" stroke="#b8b8b8" stroke-width="1"/>
<line x1="1237.5" y1="1379.3" x2="1237.5" y2="1381.1" stroke="#b8b8b8" stroke-width="1"/>
<line x1="1247.3" y1="1379.3" x2="1247.3" y2="1382.3" stroke="#b8b8b8" stroke-width="1"/>
<text x="1246.0" y="1390.4" font-family="Liberation Sans, sans-serif" font-size="10.6" font-weight="bold" text-anchor="middle">26</text>
<line x1="1257.1" y1="1379.3" x2="1257.1" y2="1381.1" stroke="#b8b8b8" stroke-width="1"/>
<line x1="1266.9" y1="1379.3" x2="1266.9" y2="1381.1" stroke="#b8b8b8" stroke-width="1"/>
<line x1="1276.7" y1="1379.3" x2="1276.7" y2="1382.3" stroke="#b8b8b8" stroke-width="1"/>
<text x="1277.0" y="1390.2" font-family="Liberation Sans, sans-serif" font-size="9.6" text-anchor="middle" letter-spacing="0.5">Apr</text>
<line x1="1286.5" y1="1379.3" x2="1286.5" y2="1381.1" stroke="#b8b8b8" stroke-width="1"/>
<line x1="1296.3" y1="1379.3" x2="1296.3" y2="1381.1" stroke="#b8b8b8" stroke-width="1"/>
<line x1="1306.1" y1="1379.3" x2="1306.1" y2="1382.3" stroke="#b8b8b8" stroke-width="1"/>
<text x="1306.4" y="1390.2" font-family="Liberation Sans, sans-serif" font-size="9.6" text-anchor="middle" letter-spacing="0.5">Jul</text>
<line x1="1315.9" y1="1379.3" x2="1315.9" y2="1381.1" stroke="#b8b8b8" stroke-width="1"/>
<line x1="1325.7" y1="1379.3" x2="1325.7" y2="1381.1" stroke="#b8b8b8" stroke-width="1"/>
<line x1="1335.5" y1="1379.3" x2="1335.5" y2="1382.3" stroke="#b8b8b8" stroke-width="1"/>
<text x="1335.8" y="1390.2" font-family="Liberation Sans, sans-serif" font-size="9.6" text-anchor="middle" letter-spacing="0.5">Oct</text>
<line x1="1345.4" y1="1379.3" x2="1345.4" y2="1381.1" stroke="#b8b8b8" stroke-width="1"/>
<line x1="1355.2" y1="1379.3" x2="1355.2" y2="1381.1" stroke="#b8b8b8" stroke-width="1"/>
<line x1="1365.0" y1="1379.3" x2="1365.0" y2="1382.3" stroke="#b8b8b8" stroke-width="1"/>
<text x="1363.7" y="1390.4" font-family="Liberation Sans, sans-serif" font-size="10.6" font-weight="bold" text-anchor="middle">27</text>
<line x1="1374.8" y1="1379.3" x2="1374.8" y2="1381.1" stroke="#b8b8b8" stroke-width="1"/>
<line x1="1384.6" y1="1379.3" x2="1384.6" y2="1381.1" stroke="#b8b8b8" stroke-width="1"/>
<line x1="1394.4" y1="1379.3" x2="1394.4" y2="1382.3" stroke="#b8b8b8" stroke-width="1"/>
<text x="1394.7" y="1390.2" font-family="Liberation Sans, sans-serif" font-size="9.6" text-anchor="middle" letter-spacing="0.5">Apr</text>
<line x1="1404.2" y1="1379.3" x2="1404.2" y2="1381.1" stroke="#b8b8b8" stroke-width="1"/>
<line x1="1414.0" y1="1379.3" x2="1414.0" y2="1381.1" stroke="#b8b8b8" stroke-width="1"/>
<line x1="1423.8" y1="1379.3" x2="1423.8" y2="1382.3" stroke="#b8b8b8" stroke-width="1"/>
<text x="1424.1" y="1390.2" font-family="Liberation Sans, sans-serif" font-size="9.6" text-anchor="middle" letter-spacing="0.5">Jul</text>
<line x1="1433.6" y1="1379.3" x2="1433.6" y2="1381.1" stroke="#b8b8b8" stroke-width="1"/>
<line x1="1443.4" y1="1379.3" x2="1443.4" y2="1381.1" stroke="#b8b8b8" stroke-width="1"/>
<line x1="1453.3" y1="1379.3" x2="1453.3" y2="1382.3" stroke="#b8b8b8" stroke-width="1"/>
<text x="1453.6" y="1390.2" font-family="Liberation Sans, sans-serif" font-size="9.6" text-anchor="middle" letter-spacing="0.5">Oct</text>
<line x1="1463.1" y1="1379.3" x2="1463.1" y2="1381.1" stroke="#b8b8b8" stroke-width="1"/>
<line x1="1472.9" y1="1379.3" x2="1472.9" y2="1381.1" stroke="#b8b8b8" stroke-width="1"/>
<line x1="1482.7" y1="1379.3" x2="1482.7" y2="1382.3" stroke="#b8b8b8" stroke-width="1"/>
<text x="1481.4" y="1390.4" font-family="Liberation Sans, sans-serif" font-size="10.6" font-weight="bold" text-anchor="middle">28</text>
<rect x="361.5" y="1092.5" width="6" height="3.0" fill="#5aa6d0" stroke="#1f6d99" stroke-width="1"/>
<rect x="371.5" y="1092.5" width="6" height="6.5" fill="#5aa6d0" stroke="#1f6d99" stroke-width="1"/>
<rect x="381.5" y="1092.5" width="6" height="8.5" fill="#5aa6d0" stroke="#1f6d99" stroke-width="1"/>
<rect x="390.5" y="1092.5" width="6" height="10.5" fill="#5aa6d0" stroke="#1f6d99" stroke-width="1"/>
<rect x="400.5" y="1092.5" width="6" height="12.5" fill="#5aa6d0" stroke="#1f6d99" stroke-width="1"/>
<rect x="410.5" y="1092.5" width="6" height="12.5" fill="#5aa6d0" stroke="#1f6d99" stroke-width="1"/>
<rect x="420.5" y="1092.5" width="6" height="12.5" fill="#5aa6d0" stroke="#1f6d99" stroke-width="1"/>
<rect x="430.5" y="1092.5" width="6" height="11.5" fill="#5aa6d0" stroke="#1f6d99" stroke-width="1"/>
<rect x="439.5" y="1092.5" width="6" height="10.0" fill="#5aa6d0" stroke="#1f6d99" stroke-width="1"/>
<rect x="449.5" y="1092.5" width="6" height="9.5" fill="#5aa6d0" stroke="#1f6d99" stroke-width="1"/>
<rect x="459.5" y="1092.5" width="6" height="6.5" fill="#5aa6d0" stroke="#1f6d99" stroke-width="1"/>
<rect x="469.5" y="1092.5" width="6" height="4.5" fill="#5aa6d0" stroke="#1f6d99" stroke-width="1"/>
<rect x="479.5" y="1092.5" width="6" height="3.0" fill="#5aa6d0" stroke="#1f6d99" stroke-width="1"/>
<rect x="488.5" y="1092.5" width="6" height="3.0" fill="#5aa6d0" stroke="#1f6d99" stroke-width="1"/>
<rect x="498.5" y="1092.5" width="6" height="2.5" fill="#5aa6d0" stroke="#1f6d99" stroke-width="1"/>
<rect x="508.5" y="1092.5" width="6" height="2.5" fill="#5aa6d0" stroke="#1f6d99" stroke-width="1"/>
<rect x="518.5" y="1092.5" width="6" height="2.5" fill="#5aa6d0" stroke="#1f6d99" stroke-width="1"/>
<rect x="528.5" y="1092.5" width="6" height="2.5" fill="#5aa6d0" stroke="#1f6d99" stroke-width="1"/>
<rect x="538.5" y="1092.5" width="6" height="2.0" fill="#5aa6d0" stroke="#1f6d99" stroke-width="1"/>
<rect x="547.5" y="1092.5" width="6" height="1.5" fill="#5aa6d0" stroke="#1f6d99" stroke-width="1"/>
<rect x="557.5" y="1092.5" width="6" height="1.0" fill="#5aa6d0" stroke="#1f6d99" stroke-width="1"/>
<rect x="567.5" y="1092.5" width="6" height="0.6" fill="#5aa6d0" stroke="#1f6d99" stroke-width="1"/>
<rect x="577" y="1091.3" width="7" height="1.1" fill="#2f7fae"/>
<rect x="587" y="1091.3" width="7" height="1.1" fill="#2f7fae"/>
<rect x="596.5" y="1090.5" width="6" height="1.0" fill="#5aa6d0" stroke="#1f6d99" stroke-width="1"/>
<rect x="606.5" y="1089.0" width="6" height="2.5" fill="#5aa6d0" stroke="#1f6d99" stroke-width="1"/>
<rect x="616.5" y="1089.0" width="6" height="2.5" fill="#5aa6d0" stroke="#1f6d99" stroke-width="1"/>
<rect x="626.5" y="1088.5" width="6" height="3.0" fill="#5aa6d0" stroke="#1f6d99" stroke-width="1"/>
<rect x="636.5" y="1086.5" width="6" height="5.0" fill="#5aa6d0" stroke="#1f6d99" stroke-width="1"/>
<rect x="645.5" y="1084.0" width="6" height="7.5" fill="#5aa6d0" stroke="#1f6d99" stroke-width="1"/>
<rect x="655.5" y="1076.5" width="6" height="15.0" fill="#5aa6d0" stroke="#1f6d99" stroke-width="1"/>
<rect x="665.5" y="1071.5" width="6" height="20.0" fill="#5aa6d0" stroke="#1f6d99" stroke-width="1"/>
<rect x="675.5" y="1065.0" width="6" height="26.5" fill="#5aa6d0" stroke="#1f6d99" stroke-width="1"/>
<rect x="685.5" y="1053.0" width="6" height="38.5" fill="#5aa6d0" stroke="#1f6d99" stroke-width="1"/>
<rect x="694.5" y="1048.0" width="6" height="43.5" fill="#5aa6d0" stroke="#1f6d99" stroke-width="1"/>
<rect x="704.5" y="1053.0" width="6" height="38.5" fill="#5aa6d0" stroke="#1f6d99" stroke-width="1"/>
<rect x="714.5" y="1056.0" width="6" height="35.5" fill="#5aa6d0" stroke="#1f6d99" stroke-width="1"/>
<rect x="724.5" y="1050.0" width="6" height="41.5" fill="#5aa6d0" stroke="#1f6d99" stroke-width="1"/>
<rect x="734.5" y="1054.0" width="6" height="37.5" fill="#5aa6d0" stroke="#1f6d99" stroke-width="1"/>
<rect x="744.5" y="1046.0" width="6" height="45.5" fill="#5aa6d0" stroke="#1f6d99" stroke-width="1"/>
<rect x="753.5" y="1040.0" width="6" height="51.5" fill="#5aa6d0" stroke="#1f6d99" stroke-width="1"/>
<rect x="763.5" y="1050.0" width="6" height="41.5" fill="#5aa6d0" stroke="#1f6d99" stroke-width="1"/>
<rect x="773.5" y="1071.0" width="6" height="20.5" fill="#5aa6d0" stroke="#1f6d99" stroke-width="1"/>
<rect x="783.5" y="1084.0" width="6" height="7.5" fill="#5aa6d0" stroke="#1f6d99" stroke-width="1"/>
<rect x="793.5" y="1089.5" width="6" height="2.0" fill="#5aa6d0" stroke="#1f6d99" stroke-width="1"/>
<rect x="802.5" y="1092.5" width="6" height="7.5" fill="#5aa6d0" stroke="#1f6d99" stroke-width="1"/>
<rect x="812.5" y="1092.5" width="6" height="23.5" fill="#5aa6d0" stroke="#1f6d99" stroke-width="1"/>
<rect x="822.5" y="1092.5" width="6" height="42.0" fill="#5aa6d0" stroke="#1f6d99" stroke-width="1"/>
<rect x="832.5" y="1092.5" width="6" height="47.5" fill="#5aa6d0" stroke="#1f6d99" stroke-width="1"/>
<rect x="842.5" y="1092.5" width="6" height="49.5" fill="#5aa6d0" stroke="#1f6d99" stroke-width="1"/>
<rect x="851.5" y="1092.5" width="6" height="51.5" fill="#5aa6d0" stroke="#1f6d99" stroke-width="1"/>
<rect x="861.5" y="1092.5" width="6" height="48.5" fill="#5aa6d0" stroke="#1f6d99" stroke-width="1"/>
<rect x="871.5" y="1092.5" width="6" height="48.0" fill="#5aa6d0" stroke="#1f6d99" stroke-width="1"/>
<rect x="881.5" y="1092.5" width="6" height="45.5" fill="#5aa6d0" stroke="#1f6d99" stroke-width="1"/>
<rect x="891.5" y="1092.5" width="6" height="38.5" fill="#5aa6d0" stroke="#1f6d99" stroke-width="1"/>
<rect x="900.5" y="1092.5" width="6" height="31.5" fill="#5aa6d0" stroke="#1f6d99" stroke-width="1"/>
<rect x="910.5" y="1092.5" width="6" height="24.0" fill="#5aa6d0" stroke="#1f6d99" stroke-width="1"/>
<rect x="920.5" y="1092.5" width="6" height="17.5" fill="#5aa6d0" stroke="#1f6d99" stroke-width="1"/>
<rect x="930.5" y="1092.5" width="6" height="12.5" fill="#5aa6d0" stroke="#1f6d99" stroke-width="1"/>
<rect x="940.5" y="1092.5" width="6" height="7.5" fill="#5aa6d0" stroke="#1f6d99" stroke-width="1"/>
<rect x="949.5" y="1092.5" width="6" height="5.5" fill="#5aa6d0" stroke="#1f6d99" stroke-width="1"/>
<rect x="959.5" y="1092.5" width="6" height="6.5" fill="#5aa6d0" stroke="#1f6d99" stroke-width="1"/>
<rect x="969.5" y="1092.5" width="6" height="5.5" fill="#5aa6d0" stroke="#1f6d99" stroke-width="1"/>
<rect x="979.5" y="1092.5" width="6" height="3.5" fill="#5aa6d0" stroke="#1f6d99" stroke-width="1"/>
<rect x="989" y="1091.3" width="7" height="1.1" fill="#2f7fae"/>
<rect x="999.5" y="1088.0" width="6" height="3.5" fill="#5aa6d0" stroke="#1f6d99" stroke-width="1"/>
<rect x="1008.5" y="1084.5" width="6" height="7.0" fill="#5aa6d0" stroke="#1f6d99" stroke-width="1"/>
<rect x="1018.5" y="1071.5" width="6" height="20.0" fill="#5aa6d0" stroke="#1f6d99" stroke-width="1"/>
<rect x="1028.5" y="1061.5" width="6" height="30.0" fill="#5aa6d0" stroke="#1f6d99" stroke-width="1"/>
<rect x="1038.5" y="1061.5" width="6" height="30.0" fill="#5aa6d0" stroke="#1f6d99" stroke-width="1"/>
<polyline points="364.8,1063.1 384.4,1067.1 404.4,1073.4 423.6,1079.4 443.6,1085.4 463.5,1089.4 483.5,1091.7 503.4,1093.1 520.0,1093.7 538.3,1096.3 569.0,1096.3 588.2,1095.9 609.3,1093.6 628.5,1091.7 648.4,1086.7 667.9,1077.5 677.9,1070.6 687.9,1061.0 697.5,1050.3 707.4,1040.0 717.4,1030.4 727.4,1019.6 737.7,1010.4 747.3,997.8 756.9,985.1 766.5,974.0 776.8,968.3 786.8,966.3 796.8,965.6 806.7,966.3 816.3,972.1 826.3,983.6 836.3,995.9 846.2,1007.4 855.8,1020.8 866.2,1034.2 875.8,1045.7 884.6,1055.3 894.2,1065.6 903.8,1074.5 914.1,1080.2 923.7,1084.0 933.3,1086.7 943.3,1088.7 953.2,1090.2 962.8,1092.1 972.8,1093.3 982.4,1094.0 992.7,1094.0 1002.3,1092.5 1011.9,1090.6 1021.5,1086.7 1031.8,1078.3 1041.4,1070.6" fill="none" stroke="#ff0000" stroke-width="1.2"/>
<polyline points="276.8,1072.8 285.8,1071.1 295.7,1066.1 305.7,1057.2 315.7,1054.2 325.6,1058.2 335.6,1058.2 345.6,1060.5 355.5,1063.5 364.8,1066.1 374.8,1071.1 384.4,1076.1 394.4,1080.4 404.4,1085.1 414.0,1088.7 423.6,1091.7 433.6,1093.7 443.6,1095.0 453.5,1095.7 463.5,1095.4 473.5,1094.7 483.5,1094.7 493.4,1095.0 503.4,1095.7 513.4,1096.0 520.0,1096.7 530.7,1098.6 549.8,1097.1 569.0,1097.1 588.2,1095.6 599.7,1092.9 609.3,1089.8 618.9,1088.7 628.5,1087.1 638.0,1083.3 648.4,1079.1 658.4,1067.6 667.9,1057.2 677.9,1043.8 687.9,1021.9 697.5,1005.4 707.4,998.9 717.4,992.0 727.4,976.7 737.7,970.2 747.3,949.8 756.9,931.4 766.5,930.7 776.8,946.8 786.8,956.4 796.8,961.3 806.7,974.8 816.3,996.6 826.3,1026.5 836.3,1043.0 846.2,1058.0 855.8,1073.3 866.2,1083.3 875.8,1093.6 884.6,1102.1 894.2,1104.4 903.8,1106.3 914.1,1104.4 923.7,1101.3 933.3,1099.4 943.3,1097.1 953.2,1096.3 962.8,1098.6 972.8,1099.4 982.4,1098.2 992.7,1094.4 1002.3,1088.7 1011.9,1083.3 1021.5,1064.9 1031.8,1045.7 1041.4,1038.8" fill="none" stroke="#000" stroke-width="1.55" stroke-linejoin="round"/>
<line x1="19.8" y1="930" x2="27.8" y2="930" stroke="#000" stroke-width="2"/>
<text x="31.6" y="933.7" font-family="Liberation Mono, monospace" font-size="10.4" textLength="241.5" lengthAdjust="spacingAndGlyphs">MACD(12,26,9) 319.025<tspan fill="#f01010">, 132.798</tspan><tspan fill="#3a8fc0">, 186.227</tspan></text>
<line x1="1500.5" y1="938.6" x2="1503.0" y2="938.6" stroke="#b8b8b8"/>
<text x="1506.5" y="941.9" font-family="Liberation Sans, sans-serif" font-size="9.4" textLength="17.5" lengthAdjust="spacingAndGlyphs">900</text>
<line x1="1500.5" y1="955.5" x2="1503.0" y2="955.5" stroke="#b8b8b8"/>
<text x="1506.5" y="958.9" font-family="Liberation Sans, sans-serif" font-size="9.4" textLength="17.5" lengthAdjust="spacingAndGlyphs">800</text>
<line x1="1500.5" y1="972.5" x2="1503.0" y2="972.5" stroke="#b8b8b8"/>
<text x="1506.5" y="975.9" font-family="Liberation Sans, sans-serif" font-size="9.4" textLength="17.5" lengthAdjust="spacingAndGlyphs">700</text>
<line x1="1500.5" y1="989.5" x2="1503.0" y2="989.5" stroke="#b8b8b8"/>
<text x="1506.5" y="992.8" font-family="Liberation Sans, sans-serif" font-size="9.4" textLength="17.5" lengthAdjust="spacingAndGlyphs">600</text>
<line x1="1500.5" y1="1006.4" x2="1503.0" y2="1006.4" stroke="#b8b8b8"/>
<text x="1506.5" y="1009.8" font-family="Liberation Sans, sans-serif" font-size="9.4" textLength="17.5" lengthAdjust="spacingAndGlyphs">500</text>
<line x1="1500.5" y1="1023.4" x2="1503.0" y2="1023.4" stroke="#b8b8b8"/>
<text x="1506.5" y="1026.8" font-family="Liberation Sans, sans-serif" font-size="9.4" textLength="17.5" lengthAdjust="spacingAndGlyphs">400</text>
<line x1="1500.5" y1="1040.4" x2="1503.0" y2="1040.4" stroke="#b8b8b8"/>
<text x="1506.5" y="1043.7" font-family="Liberation Sans, sans-serif" font-size="9.4" textLength="17.5" lengthAdjust="spacingAndGlyphs">300</text>
<line x1="1500.5" y1="1057.4" x2="1503.0" y2="1057.4" stroke="#b8b8b8"/>
<text x="1506.5" y="1060.7" font-family="Liberation Sans, sans-serif" font-size="9.4" textLength="17.5" lengthAdjust="spacingAndGlyphs">200</text>
<line x1="1500.5" y1="1074.3" x2="1503.0" y2="1074.3" stroke="#b8b8b8"/>
<text x="1506.5" y="1077.7" font-family="Liberation Sans, sans-serif" font-size="9.4" textLength="17.5" lengthAdjust="spacingAndGlyphs">100</text>
<line x1="1500.5" y1="1091.3" x2="1503.0" y2="1091.3" stroke="#b8b8b8"/>
<text x="1518.2" y="1094.6" font-family="Liberation Sans, sans-serif" font-size="9.4" textLength="5.8" lengthAdjust="spacingAndGlyphs">0</text>
<line x1="1500.5" y1="1108.7" x2="1503.0" y2="1108.7" stroke="#b8b8b8"/>
<text x="1503.0" y="1112.0" font-family="Liberation Sans, sans-serif" font-size="9.4" textLength="21.0" lengthAdjust="spacingAndGlyphs">-100</text>
<line x1="1500.5" y1="1126.1" x2="1503.0" y2="1126.1" stroke="#b8b8b8"/>
<text x="1503.0" y="1129.4" font-family="Liberation Sans, sans-serif" font-size="9.4" textLength="21.0" lengthAdjust="spacingAndGlyphs">-200</text>
<line x1="1500.5" y1="1143.5" x2="1503.0" y2="1143.5" stroke="#b8b8b8"/>
<text x="1503.0" y="1146.8" font-family="Liberation Sans, sans-serif" font-size="9.4" textLength="21.0" lengthAdjust="spacingAndGlyphs">-300</text>
<polygon points="1498.4,1059.9 1503.6,1055.0 1543.7,1055.0 1543.7,1064.8 1503.6,1064.8" fill="#fff" stroke="#27408b" stroke-width="1.1"/>
<text x="1503.7" y="1063.3" font-family="Liberation Sans, sans-serif" font-size="9.4" textLength="38.0" lengthAdjust="spacingAndGlyphs">186.227</text>
<polygon points="1498.4,1069.7 1503.6,1064.8 1543.7,1064.8 1543.7,1074.6 1503.6,1074.6" fill="#fff" stroke="#f01010" stroke-width="1.1"/>
<text x="1503.7" y="1073.1" font-family="Liberation Sans, sans-serif" font-size="9.4" textLength="38.0" lengthAdjust="spacingAndGlyphs">132.798</text>
<polygon points="1498.4,1037.6 1503.6,1032.4 1543.7,1032.4 1543.7,1042.8 1503.6,1042.8" fill="#fff" stroke="#000" stroke-width="1.1"/>
<text x="1503.7" y="1041.0" font-family="Liberation Sans, sans-serif" font-size="9.4" textLength="38.0" lengthAdjust="spacingAndGlyphs">319.025</text>
<polygon points="209.5,1201.5 217.2,1194.4 227.2,1180.8 236.1,1168.3 241.6,1201.5" fill="#789778"/>
<polygon points="298.1,1201.5 304.8,1191.5 308.8,1201.5" fill="#789778"/>
<polygon points="658.7,1201.5 659.1,1200.5 668.8,1187.9 678.8,1186.1 688.1,1184.4 697.4,1167.2 707.4,1189.7 716.9,1201.5" fill="#789778"/>
<polygon points="719.9,1201.5 727.1,1199.4 736.8,1196.5 746.8,1194.0 756.5,1187.9 766.5,1200.5 767.4,1201.5" fill="#789778"/>
<polygon points="1016.2,1201.5 1021.6,1190.8 1032.0,1189.0 1032.0,1201.5" fill="#789778"/>
<line x1="17.0" y1="1201.5" x2="1500.5" y2="1201.5" stroke="#5a5a5a" stroke-width="1"/>
<line x1="17.0" y1="1330.5" x2="1500.5" y2="1330.5" stroke="#5a5a5a" stroke-width="1"/>
<polyline points="158.5,1213.0 168.2,1216.6 178.9,1221.9 187.8,1219.1 197.5,1217.3 207.5,1203.3 217.2,1194.4 227.2,1180.8 236.1,1168.3 246.2,1229.8 256.2,1216.6 266.2,1245.2 276.2,1238.0 285.5,1225.5 295.2,1205.8 304.8,1191.5 314.8,1216.6 324.9,1229.1 334.5,1224.4 344.2,1220.1 354.2,1228.0 363.9,1240.5 373.9,1252.7 383.5,1254.1 393.6,1263.1 403.2,1263.1 413.2,1272.0 422.9,1272.0 432.9,1279.2 442.6,1289.2 452.6,1263.1 462.3,1237.3 472.3,1232.3 482.3,1253.0 491.9,1257.0 501.6,1261.3 511.6,1262.0 521.3,1263.1 531.3,1264.1 541.0,1250.5 550.2,1237.3 560.4,1250.2 570.4,1250.2 580.1,1253.4 590.1,1259.5 599.0,1270.2 609.1,1276.3 619.4,1268.4 629.4,1262.4 639.1,1245.2 649.1,1226.6 659.1,1200.5 668.8,1187.9 678.8,1186.1 688.1,1184.4 697.4,1167.2 707.4,1189.7 717.5,1202.2 727.1,1199.4 736.8,1196.5 746.8,1194.0 756.5,1187.9 766.5,1200.5 776.1,1211.2 786.9,1219.1 796.2,1222.6 805.8,1232.7 815.5,1242.3 825.5,1254.8 835.2,1273.1 845.2,1256.3 854.8,1257.3 864.5,1258.4 874.5,1275.6 884.2,1291.0 894.2,1298.1 903.9,1282.7 913.9,1264.9 923.5,1252.3 933.6,1263.8 943.2,1260.2 952.5,1246.3 962.2,1239.5 972.2,1248.8 982.6,1257.0 992.6,1234.4 1002.3,1239.1 1012.3,1209.4 1021.6,1190.8 1032.0,1189.0" fill="none" stroke="#000" stroke-width="1.1" stroke-linejoin="round"/>
<polygon points="19.5,1162.5 22.5,1154.5 25,1158.5 27.5,1155 27.5,1162.5" fill="#789778" stroke="#111" stroke-width="0.8"/>
<text x="31.3" y="1162.3" font-family="Liberation Mono, monospace" font-size="10.4" textLength="131.5" lengthAdjust="spacingAndGlyphs">MFI(14) 85.86 (31 Mar)</text>
<line x1="1500.5" y1="1201.4" x2="1503.0" y2="1201.4" stroke="#b8b8b8"/>
<text x="1503.8" y="1203.9" font-family="Liberation Sans, sans-serif" font-size="9.4" textLength="11.7" lengthAdjust="spacingAndGlyphs">80</text>
<line x1="1500.5" y1="1265.6" x2="1503.0" y2="1265.6" stroke="#b8b8b8"/>
<text x="1503.8" y="1268.1" font-family="Liberation Sans, sans-serif" font-size="9.4" textLength="11.7" lengthAdjust="spacingAndGlyphs">50</text>
<line x1="1500.5" y1="1330.3" x2="1503.0" y2="1330.3" stroke="#b8b8b8"/>
<text x="1503.8" y="1332.8" font-family="Liberation Sans, sans-serif" font-size="9.4" textLength="11.7" lengthAdjust="spacingAndGlyphs">20</text>
<polygon points="1498.4,1188.5 1503.6,1183.3 1531.7,1183.3 1531.7,1193.7 1503.6,1193.7" fill="#fff" stroke="#000" stroke-width="1.1"/>
<text x="1503.4" y="1191.9" font-family="Liberation Sans, sans-serif" font-size="9.4" textLength="26.3" lengthAdjust="spacingAndGlyphs">85.86</text>
<line x1="393.4" y1="201.4" x2="570.4" y2="136.7" stroke="#12962c" stroke-width="3.2" stroke-dasharray="4,1.8"/>
<line x1="816" y1="208.4" x2="992.4" y2="138.6" stroke="#12962c" stroke-width="3.2" stroke-dasharray="4,1.8"/>
<polygon points="540.0,153.6 547.7,161.4 543.9,161.4 543.9,169.1 536.1,169.1 536.1,161.4 532.3,161.4" fill="#389820"/>
<polygon points="982.1,154.2 989.8,162.0 986.0,162.0 986.0,169.7 978.2,169.7 978.2,162.0 974.4,162.0" fill="#389820"/>
<line x1="217.3" y1="31.5" x2="324.3" y2="48.8" stroke="#ff0000" stroke-width="3.2"/>
<polygon points="336.1,50.7 321.2,55.1 323.4,41.8" fill="#ff0000"/>
<line x1="678.3" y1="30.6" x2="776.8" y2="73.1" stroke="#ff0000" stroke-width="3.2"/>
<polygon points="787.8,77.9 772.3,78.5 777.6,66.2" fill="#ff0000"/>
<line x1="228" y1="1162.6" x2="539.5" y2="1280.2" stroke="#f01818" stroke-width="3.2" stroke-dasharray="4,1.8"/>
<line x1="689" y1="1158.9" x2="982.6" y2="1289.9" stroke="#f01818" stroke-width="3.2" stroke-dasharray="4,1.8"/>
<line x1="227.2" y1="1162.2" x2="315.1" y2="1196.2" stroke="#ff0000" stroke-width="3.7"/>
<polygon points="326.3,1200.5 310.8,1201.7 315.7,1189.2" fill="#ff0000"/>
<line x1="688.5" y1="1158.6" x2="776.5" y2="1196.7" stroke="#ff0000" stroke-width="3.7"/>
<polygon points="787.5,1201.5 772.0,1202.1 777.3,1189.7" fill="#ff0000"/>
<polygon points="490.9,1272.4 498.6,1280.2 494.8,1280.2 494.8,1287.9 487.0,1287.9 487.0,1280.2 483.2,1280.2" fill="#2a9a2a"/>
<polygon points="932.8,1274.9 940.5,1282.7 936.7,1282.7 936.7,1290.4 928.9,1290.4 928.9,1282.7 925.1,1282.7" fill="#0a9a28"/>
<rect x="667.6" y="517" width="485.8" height="69.4" fill="#c8c8c8"/>
<rect x="665.5" y="514.8" width="485.8" height="69.4" fill="#fff" stroke="#8a8a8a" stroke-width="1"/>
<text x="668.6" y="542.6" font-family="Liberation Sans, sans-serif" font-size="27.6" font-weight="bold" textLength="459.6" lengthAdjust="spacingAndGlyphs">Copyright Intellgent Investing, LLC</text>
<text x="668.4" y="574.4" font-family="Liberation Sans, sans-serif" font-size="27.6" font-weight="bold" textLength="421.6" lengthAdjust="spacingAndGlyphs">www.intelligentinvesting.market</text>
<text transform="translate(20.18,603.00) scale(0.1172,0.1225)" font-family="Liberation Sans, sans-serif" font-size="200" font-weight="bold" fill="#0000f0">I</text>
<path transform="translate(110.70,618.00) scale(0.01246,-0.01112) translate(-512,0)" fill="#000" d="M1114,0 H852 V989 Q707,854 512,789 V1027 Q615,1061 736,1155 T902,1466 H1114 Z"/>
<text transform="translate(78.58,647.70) scale(0.0942,0.1069)" font-family="Liberation Sans, sans-serif" font-size="200" font-weight="bold" fill="#f00000">iii</text>
<text transform="translate(98.18,732.80) scale(0.1086,0.1069)" font-family="Liberation Sans, sans-serif" font-size="200" font-weight="bold" fill="#f00000">iv</text>
<text transform="translate(177.98,747.00) scale(0.1177,0.1200)" font-family="Liberation Sans, sans-serif" font-size="200" font-weight="bold" fill="#000">2</text>
<text transform="translate(49.38,822.90) scale(0.1125,0.1097)" font-family="Liberation Sans, sans-serif" font-size="200" font-weight="bold" fill="#f00000">i</text>
<text transform="translate(49.59,899.90) scale(0.0970,0.1083)" font-family="Liberation Sans, sans-serif" font-size="200" font-weight="bold" fill="#f00000">ii</text>
<text transform="translate(227.22,423.86) scale(0.1162,0.1197)" font-family="Liberation Sans, sans-serif" font-size="200" font-weight="bold" fill="#000">3</text>
<text transform="translate(265.45,507.30) scale(0.1159,0.1246)" font-family="Liberation Sans, sans-serif" font-size="200" font-weight="bold" fill="#000">4</text>
<text transform="translate(325.28,470.97) scale(0.1037,0.1145)" font-family="Liberation Sans, sans-serif" font-size="200" font-weight="bold" fill="#000">a</text>
<text transform="translate(304.68,304.90) scale(0.0936,0.1225)" font-family="Liberation Sans, sans-serif" font-size="200" font-weight="bold" fill="#0000f0">III</text>
<text transform="translate(305.22,335.95) scale(0.1130,0.1229)" font-family="Liberation Sans, sans-serif" font-size="200" font-weight="bold" fill="#000">5</text>
<text transform="translate(344.81,370.78) scale(0.1069,0.1122)" font-family="Liberation Sans, sans-serif" font-size="200" font-weight="bold" fill="#000">b</text>
<path transform="translate(463.80,426.80) scale(0.01296,-0.01105) translate(-512,0)" fill="#000" d="M1114,0 H852 V989 Q707,854 512,789 V1027 Q615,1061 736,1155 T902,1466 H1114 Z"/>
<text transform="translate(540.81,439.38) scale(0.0990,0.1109)" font-family="Liberation Sans, sans-serif" font-size="200" font-weight="bold" fill="#f00000">b</text>
<text transform="translate(531.61,533.58) scale(0.0981,0.1091)" font-family="Liberation Sans, sans-serif" font-size="200" font-weight="bold" fill="#f00000">a</text>
<text transform="translate(560.38,550.90) scale(0.1177,0.1179)" font-family="Liberation Sans, sans-serif" font-size="200" font-weight="bold" fill="#000">2</text>
<text transform="translate(402.70,569.80) scale(0.1074,0.1203)" font-family="Liberation Sans, sans-serif" font-size="200" font-weight="bold" fill="#0000f0">IV</text>
<path transform="translate(610.80,408.70) scale(0.01262,-0.00955) translate(-512,0)" fill="#2a8f2a" d="M1114,0 H852 V989 Q707,854 512,789 V1027 Q615,1061 736,1155 T902,1466 H1114 Z"/>
<text transform="translate(619.59,469.90) scale(0.1021,0.1021)" font-family="Liberation Sans, sans-serif" font-size="200" font-weight="bold" fill="#2a8f2a">2</text>
<text transform="translate(590.30,457.70) scale(0.1143,0.1152)" font-family="Liberation Sans, sans-serif" font-size="200" font-weight="bold" fill="#f00000">i</text>
<text transform="translate(590.20,500.90) scale(0.1214,0.1159)" font-family="Liberation Sans, sans-serif" font-size="200" font-weight="bold" fill="#f00000">ii</text>
<text transform="translate(688.38,261.91) scale(0.1040,0.0965)" font-family="Liberation Sans, sans-serif" font-size="200" font-weight="bold" fill="#2a8f2a">3</text>
<text transform="translate(727.50,267.60) scale(0.1216,0.1117)" font-family="Liberation Sans, sans-serif" font-size="200" font-weight="bold" fill="#f00000">iii</text>
<text transform="translate(756.54,251.37) scale(0.1121,0.1169)" font-family="Liberation Sans, sans-serif" font-size="200" font-weight="bold" fill="#000">3</text>
<text transform="translate(804.92,275.40) scale(0.1059,0.0980)" font-family="Liberation Sans, sans-serif" font-size="200" font-weight="bold" fill="#f00000">b</text>
<text transform="translate(737.22,329.60) scale(0.1132,0.1103)" font-family="Liberation Sans, sans-serif" font-size="200" font-weight="bold" fill="#f00000">iv</text>
<text transform="translate(776.49,334.49) scale(0.1019,0.1045)" font-family="Liberation Sans, sans-serif" font-size="200" font-weight="bold" fill="#f00000">a</text>
<text transform="translate(844.90,314.50) scale(0.1357,0.1117)" font-family="Liberation Sans, sans-serif" font-size="200" font-weight="bold" fill="#f00000">i</text>
<text transform="translate(716.70,357.50) scale(0.1000,0.1022)" font-family="Liberation Sans, sans-serif" font-size="200" font-weight="bold" fill="#2a8f2a">4</text>
<text transform="translate(815.08,398.78) scale(0.1155,0.1082)" font-family="Liberation Sans, sans-serif" font-size="200" font-weight="bold" fill="#f00000">c</text>
<text transform="translate(874.35,390.70) scale(0.1250,0.1117)" font-family="Liberation Sans, sans-serif" font-size="200" font-weight="bold" fill="#f00000">ii</text>
<text transform="translate(824.66,423.90) scale(0.1131,0.1203)" font-family="Liberation Sans, sans-serif" font-size="200" font-weight="bold" fill="#000">4</text>
<path transform="translate(925.00,305.90) scale(0.01179,-0.01023) translate(-512,0)" fill="#0c9226" d="M1114,0 H852 V989 Q707,854 512,789 V1027 Q615,1061 736,1155 T902,1466 H1114 Z"/>
<text transform="translate(972.15,367.90) scale(0.1073,0.1136)" font-family="Liberation Sans, sans-serif" font-size="200" font-weight="bold" fill="#0c9226">2</text>
<text transform="translate(1010.05,295.90) scale(0.1250,0.1014)" font-family="Liberation Sans, sans-serif" font-size="200" font-weight="bold" fill="#5c5c5c">i</text>
<text transform="translate(1010.37,343.80) scale(0.1024,0.1014)" font-family="Liberation Sans, sans-serif" font-size="200" font-weight="bold" fill="#5c5c5c">ii</text>
<text transform="translate(1020.46,267.80) scale(0.0957,0.0993)" font-family="Liberation Sans, sans-serif" font-size="200" font-weight="bold" fill="#5c5c5c">iii</text>
<text transform="translate(1040.40,304.80) scale(0.1072,0.1014)" font-family="Liberation Sans, sans-serif" font-size="200" font-weight="bold" fill="#5c5c5c">iv</text>
<text transform="translate(1167.99,123.00) scale(0.1130,0.1225)" font-family="Liberation Sans, sans-serif" font-size="200" font-weight="bold" fill="#0000f0">V</text>
<text transform="translate(1167.81,149.66) scale(0.1150,0.1207)" font-family="Liberation Sans, sans-serif" font-size="200" font-weight="bold" fill="#000">5</text>
<text transform="translate(1168.80,168.70) scale(0.1037,0.1094)" font-family="Liberation Sans, sans-serif" font-size="200" font-weight="bold" fill="#f00000">v</text>
<text transform="translate(1109.03,182.20) scale(0.1266,0.1145)" font-family="Liberation Sans, sans-serif" font-size="200" font-weight="bold" fill="#f00000">iii</text>
<text transform="translate(1128.96,221.00) scale(0.1171,0.1138)" font-family="Liberation Sans, sans-serif" font-size="200" font-weight="bold" fill="#f00000">iv</text>
<text transform="translate(1070.18,220.78) scale(0.1040,0.1099)" font-family="Liberation Sans, sans-serif" font-size="200" font-weight="bold" fill="#0c9226">3</text>
<text transform="translate(1070.59,239.80) scale(0.1073,0.1028)" font-family="Liberation Sans, sans-serif" font-size="200" font-weight="bold" fill="#5c5c5c">v</text>
<text transform="translate(1099.59,258.00) scale(0.1047,0.1130)" font-family="Liberation Sans, sans-serif" font-size="200" font-weight="bold" fill="#0c9226">4</text>
<text transform="translate(29.91,940.90) scale(0.0918,0.1225)" font-family="Liberation Sans, sans-serif" font-size="200" font-weight="bold" fill="#0000f0">II</text>
<path d="M442,1396 V144 H638 V1396" fill="none" stroke="#0000ff" stroke-width="2"/>
<path d="M884,1396 V194 H1080 V1396" fill="none" stroke="#0000ff" stroke-width="2"/>
</svg>
</body></html>
